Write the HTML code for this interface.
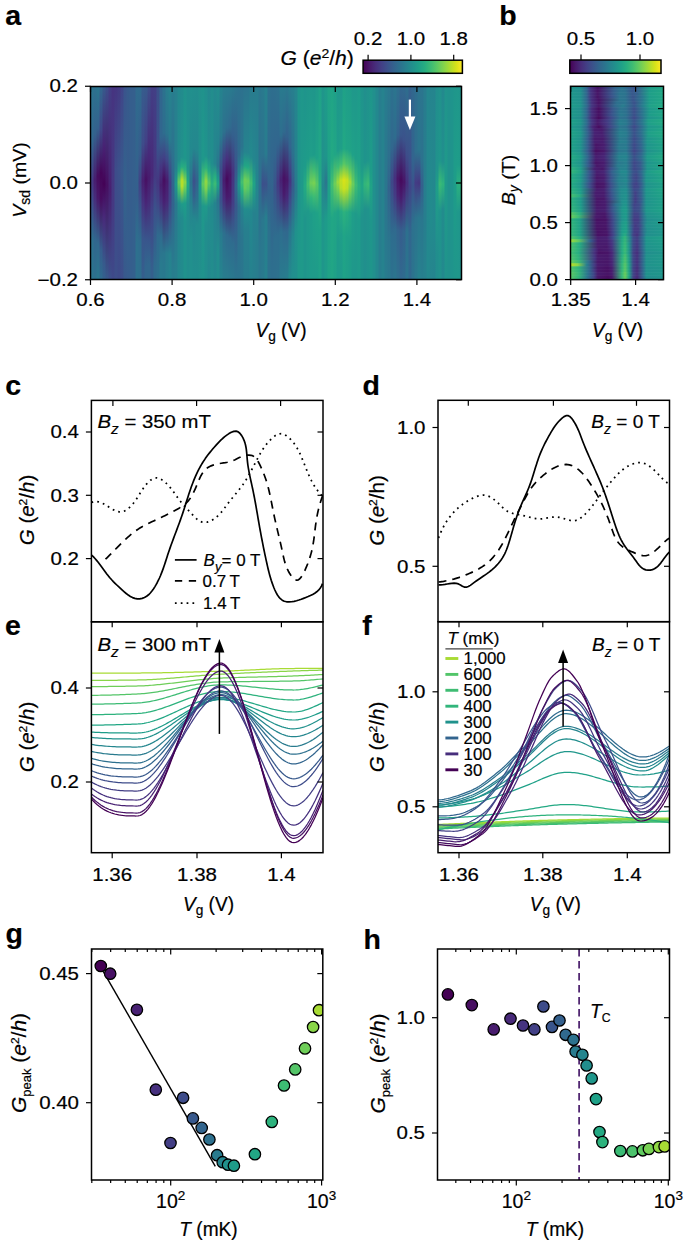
<!DOCTYPE html>
<html><head><meta charset="utf-8"><style>
html,body{margin:0;padding:0;background:#fff;}
svg{display:block;}
text{font-family:"Liberation Sans",sans-serif;fill:#000;stroke:#000;stroke-width:0.2px;}
</style></head><body>
<svg width="685" height="1242" viewBox="0 0 685 1242">
<rect width="685" height="1242" fill="#fff"/>
<text transform="translate(5.20,24.50)" font-size="28.50" text-anchor="start" font-weight="bold">a</text>
<text transform="translate(499.30,24.50)" font-size="28.50" text-anchor="start" font-weight="bold">b</text>
<text transform="translate(5.20,395.00)" font-size="28.50" text-anchor="start" font-weight="bold">c</text>
<text transform="translate(362.50,394.60)" font-size="28.50" text-anchor="start" font-weight="bold">d</text>
<text transform="translate(5.00,634.50)" font-size="28.50" text-anchor="start" font-weight="bold">e</text>
<text transform="translate(362.30,634.60)" font-size="28.50" text-anchor="start" font-weight="bold">f</text>
<text transform="translate(5.40,942.80)" font-size="28.50" text-anchor="start" font-weight="bold">g</text>
<text transform="translate(363.50,949.30)" font-size="28.50" text-anchor="start" font-weight="bold">h</text>
<defs><linearGradient id="ga0" x1="0" y1="0" x2="0" y2="1"><stop offset="0.000" stop-color="#2b748e"/><stop offset="0.281" stop-color="#31678e"/><stop offset="0.500" stop-color="#453882"/><stop offset="0.615" stop-color="#3c4f8a"/><stop offset="0.802" stop-color="#2d708e"/><stop offset="1.000" stop-color="#2b748e"/></linearGradient><linearGradient id="ga1" x1="0" y1="0" x2="0" y2="1"><stop offset="0.000" stop-color="#2d718e"/><stop offset="0.245" stop-color="#34618d"/><stop offset="0.484" stop-color="#481d6f"/><stop offset="0.583" stop-color="#472d7b"/><stop offset="0.792" stop-color="#31668e"/><stop offset="1.000" stop-color="#2d718e"/></linearGradient><linearGradient id="ga2" x1="0" y1="0" x2="0" y2="1"><stop offset="0.000" stop-color="#2a768e"/><stop offset="0.214" stop-color="#34618d"/><stop offset="0.464" stop-color="#460b5e"/><stop offset="0.578" stop-color="#48186a"/><stop offset="0.812" stop-color="#31688e"/><stop offset="1.000" stop-color="#2a778e"/></linearGradient><linearGradient id="ga3" x1="0" y1="0" x2="0" y2="1"><stop offset="0.000" stop-color="#31688e"/><stop offset="0.224" stop-color="#3f4889"/><stop offset="0.448" stop-color="#450559"/><stop offset="0.583" stop-color="#470d60"/><stop offset="0.849" stop-color="#355e8d"/><stop offset="1.000" stop-color="#2f6b8e"/></linearGradient><linearGradient id="ga4" x1="0" y1="0" x2="0" y2="1"><stop offset="0.000" stop-color="#375a8c"/><stop offset="0.318" stop-color="#482173"/><stop offset="0.505" stop-color="#440256"/><stop offset="0.677" stop-color="#482979"/><stop offset="0.917" stop-color="#375a8c"/><stop offset="1.000" stop-color="#34608d"/></linearGradient><linearGradient id="ga5" x1="0" y1="0" x2="0" y2="1"><stop offset="0.000" stop-color="#3d4d8a"/><stop offset="0.510" stop-color="#470e61"/><stop offset="1.000" stop-color="#375a8c"/></linearGradient><linearGradient id="ga6" x1="0" y1="0" x2="0" y2="1"><stop offset="0.000" stop-color="#433e85"/><stop offset="0.542" stop-color="#482071"/><stop offset="1.000" stop-color="#3c508b"/></linearGradient><linearGradient id="ga7" x1="0" y1="0" x2="0" y2="1"><stop offset="0.000" stop-color="#463480"/><stop offset="0.604" stop-color="#453882"/><stop offset="1.000" stop-color="#3e4a89"/></linearGradient><linearGradient id="ga8" x1="0" y1="0" x2="0" y2="1"><stop offset="0.000" stop-color="#453581"/><stop offset="0.438" stop-color="#3d4d8a"/><stop offset="1.000" stop-color="#3d4e8a"/></linearGradient><linearGradient id="ga9" x1="0" y1="0" x2="0" y2="1"><stop offset="0.000" stop-color="#443a83"/><stop offset="0.422" stop-color="#3b528b"/><stop offset="1.000" stop-color="#3e4a89"/></linearGradient><linearGradient id="ga10" x1="0" y1="0" x2="0" y2="1"><stop offset="0.000" stop-color="#404588"/><stop offset="0.432" stop-color="#38588c"/><stop offset="1.000" stop-color="#3d4e8a"/></linearGradient><linearGradient id="ga11" x1="0" y1="0" x2="0" y2="1"><stop offset="0.000" stop-color="#3a548c"/><stop offset="0.536" stop-color="#33638d"/><stop offset="1.000" stop-color="#38598c"/></linearGradient><linearGradient id="ga12" x1="0" y1="0" x2="0" y2="1"><stop offset="0.000" stop-color="#375a8c"/><stop offset="0.833" stop-color="#355f8d"/><stop offset="1.000" stop-color="#375b8d"/></linearGradient><linearGradient id="ga13" x1="0" y1="0" x2="0" y2="1"><stop offset="0.000" stop-color="#355e8d"/><stop offset="1.000" stop-color="#355e8d"/></linearGradient><linearGradient id="ga14" x1="0" y1="0" x2="0" y2="1"><stop offset="0.000" stop-color="#355f8d"/><stop offset="1.000" stop-color="#34608d"/></linearGradient><linearGradient id="ga15" x1="0" y1="0" x2="0" y2="1"><stop offset="0.000" stop-color="#2f6b8e"/><stop offset="0.406" stop-color="#33638d"/><stop offset="0.562" stop-color="#355f8d"/><stop offset="0.823" stop-color="#2d708e"/><stop offset="1.000" stop-color="#2d708e"/></linearGradient><linearGradient id="ga16" x1="0" y1="0" x2="0" y2="1"><stop offset="0.000" stop-color="#2f6b8e"/><stop offset="0.349" stop-color="#365d8d"/><stop offset="0.500" stop-color="#424186"/><stop offset="0.615" stop-color="#3a538b"/><stop offset="0.802" stop-color="#2f6c8e"/><stop offset="1.000" stop-color="#2e6f8e"/></linearGradient><linearGradient id="ga17" x1="0" y1="0" x2="0" y2="1"><stop offset="0.000" stop-color="#365c8d"/><stop offset="0.297" stop-color="#3e4c8a"/><stop offset="0.490" stop-color="#482071"/><stop offset="0.609" stop-color="#463480"/><stop offset="0.786" stop-color="#39568c"/><stop offset="1.000" stop-color="#355f8d"/></linearGradient><linearGradient id="ga18" x1="0" y1="0" x2="0" y2="1"><stop offset="0.000" stop-color="#375a8c"/><stop offset="0.286" stop-color="#424186"/><stop offset="0.484" stop-color="#471164"/><stop offset="0.604" stop-color="#482677"/><stop offset="0.792" stop-color="#39558c"/><stop offset="0.932" stop-color="#31668e"/><stop offset="1.000" stop-color="#31668e"/></linearGradient><linearGradient id="ga19" x1="0" y1="0" x2="0" y2="1"><stop offset="0.000" stop-color="#3d4e8a"/><stop offset="0.349" stop-color="#472a7a"/><stop offset="0.474" stop-color="#481c6e"/><stop offset="0.599" stop-color="#472c7a"/><stop offset="0.797" stop-color="#39558c"/><stop offset="0.922" stop-color="#31678e"/><stop offset="1.000" stop-color="#31678e"/></linearGradient><linearGradient id="ga20" x1="0" y1="0" x2="0" y2="1"><stop offset="0.000" stop-color="#433e85"/><stop offset="0.458" stop-color="#482878"/><stop offset="0.641" stop-color="#414287"/><stop offset="0.943" stop-color="#355f8d"/><stop offset="1.000" stop-color="#355f8d"/></linearGradient><linearGradient id="ga21" x1="0" y1="0" x2="0" y2="1"><stop offset="0.000" stop-color="#423f85"/><stop offset="0.396" stop-color="#453882"/><stop offset="0.464" stop-color="#443a83"/><stop offset="0.630" stop-color="#3b518b"/><stop offset="0.932" stop-color="#2f6b8e"/><stop offset="1.000" stop-color="#2f6b8e"/></linearGradient><linearGradient id="ga22" x1="0" y1="0" x2="0" y2="1"><stop offset="0.000" stop-color="#3c4f8a"/><stop offset="0.312" stop-color="#3b518b"/><stop offset="0.495" stop-color="#453781"/><stop offset="0.594" stop-color="#414487"/><stop offset="0.771" stop-color="#306a8e"/><stop offset="1.000" stop-color="#2c718e"/></linearGradient><linearGradient id="ga23" x1="0" y1="0" x2="0" y2="1"><stop offset="0.000" stop-color="#31668e"/><stop offset="0.260" stop-color="#31668e"/><stop offset="0.417" stop-color="#453581"/><stop offset="0.510" stop-color="#481f70"/><stop offset="0.599" stop-color="#46327e"/><stop offset="0.776" stop-color="#2f6c8e"/><stop offset="0.917" stop-color="#297a8e"/><stop offset="1.000" stop-color="#297a8e"/></linearGradient><linearGradient id="ga24" x1="0" y1="0" x2="0" y2="1"><stop offset="0.000" stop-color="#2c728e"/><stop offset="0.240" stop-color="#2e6d8e"/><stop offset="0.370" stop-color="#424086"/><stop offset="0.484" stop-color="#470e61"/><stop offset="0.599" stop-color="#482173"/><stop offset="0.865" stop-color="#2a778e"/><stop offset="1.000" stop-color="#29798e"/></linearGradient><linearGradient id="ga25" x1="0" y1="0" x2="0" y2="1"><stop offset="0.000" stop-color="#287d8e"/><stop offset="0.245" stop-color="#2b748e"/><stop offset="0.380" stop-color="#3f4889"/><stop offset="0.490" stop-color="#481c6e"/><stop offset="0.594" stop-color="#482878"/><stop offset="0.818" stop-color="#2e6d8e"/><stop offset="0.865" stop-color="#287d8e"/><stop offset="1.000" stop-color="#277f8e"/></linearGradient><linearGradient id="ga26" x1="0" y1="0" x2="0" y2="1"><stop offset="0.000" stop-color="#26828e"/><stop offset="0.276" stop-color="#297a8e"/><stop offset="0.500" stop-color="#424086"/><stop offset="0.589" stop-color="#414487"/><stop offset="0.818" stop-color="#2c728e"/><stop offset="0.870" stop-color="#26828e"/><stop offset="1.000" stop-color="#25838e"/></linearGradient><linearGradient id="ga27" x1="0" y1="0" x2="0" y2="1"><stop offset="0.000" stop-color="#287d8e"/><stop offset="0.328" stop-color="#2c738e"/><stop offset="0.495" stop-color="#31668e"/><stop offset="0.609" stop-color="#33628d"/><stop offset="0.823" stop-color="#2b758e"/><stop offset="0.953" stop-color="#287d8e"/><stop offset="1.000" stop-color="#287d8e"/></linearGradient><linearGradient id="ga28" x1="0" y1="0" x2="0" y2="1"><stop offset="0.000" stop-color="#27808e"/><stop offset="0.422" stop-color="#27808e"/><stop offset="0.505" stop-color="#1f978b"/><stop offset="0.609" stop-color="#2a788e"/><stop offset="1.000" stop-color="#27808e"/></linearGradient><linearGradient id="ga29" x1="0" y1="0" x2="0" y2="1"><stop offset="0.000" stop-color="#23888e"/><stop offset="0.380" stop-color="#228c8d"/><stop offset="0.438" stop-color="#23a983"/><stop offset="0.495" stop-color="#6ccd5a"/><stop offset="0.531" stop-color="#48c16e"/><stop offset="0.604" stop-color="#21918c"/><stop offset="0.708" stop-color="#24868e"/><stop offset="1.000" stop-color="#23888e"/></linearGradient><linearGradient id="ga30" x1="0" y1="0" x2="0" y2="1"><stop offset="0.000" stop-color="#228b8d"/><stop offset="0.365" stop-color="#21918c"/><stop offset="0.417" stop-color="#26ad81"/><stop offset="0.484" stop-color="#b5de2b"/><stop offset="0.516" stop-color="#b5de2b"/><stop offset="0.609" stop-color="#1f9a8a"/><stop offset="0.682" stop-color="#228b8d"/><stop offset="1.000" stop-color="#228b8d"/></linearGradient><linearGradient id="ga31" x1="0" y1="0" x2="0" y2="1"><stop offset="0.000" stop-color="#20928c"/><stop offset="0.375" stop-color="#1f968b"/><stop offset="0.432" stop-color="#2db27d"/><stop offset="0.495" stop-color="#8bd646"/><stop offset="0.531" stop-color="#65cb5e"/><stop offset="0.604" stop-color="#1e9d89"/><stop offset="0.703" stop-color="#20928c"/><stop offset="1.000" stop-color="#20928c"/></linearGradient><linearGradient id="ga32" x1="0" y1="0" x2="0" y2="1"><stop offset="0.000" stop-color="#218e8d"/><stop offset="0.422" stop-color="#21918c"/><stop offset="0.505" stop-color="#23a983"/><stop offset="0.609" stop-color="#228d8d"/><stop offset="1.000" stop-color="#218e8d"/></linearGradient><linearGradient id="ga33" x1="0" y1="0" x2="0" y2="1"><stop offset="0.000" stop-color="#21908d"/><stop offset="0.349" stop-color="#23888e"/><stop offset="0.495" stop-color="#2c738e"/><stop offset="0.620" stop-color="#26828e"/><stop offset="0.797" stop-color="#21908d"/><stop offset="1.000" stop-color="#21908d"/></linearGradient><linearGradient id="ga34" x1="0" y1="0" x2="0" y2="1"><stop offset="0.000" stop-color="#218f8d"/><stop offset="0.318" stop-color="#24878e"/><stop offset="0.490" stop-color="#3b528b"/><stop offset="0.568" stop-color="#34618d"/><stop offset="0.688" stop-color="#23888e"/><stop offset="1.000" stop-color="#218f8d"/></linearGradient><linearGradient id="ga35" x1="0" y1="0" x2="0" y2="1"><stop offset="0.000" stop-color="#218e8d"/><stop offset="0.328" stop-color="#24878e"/><stop offset="0.490" stop-color="#33638d"/><stop offset="0.589" stop-color="#2c718e"/><stop offset="0.719" stop-color="#228c8d"/><stop offset="1.000" stop-color="#218e8d"/></linearGradient><linearGradient id="ga36" x1="0" y1="0" x2="0" y2="1"><stop offset="0.000" stop-color="#21918c"/><stop offset="0.448" stop-color="#218f8d"/><stop offset="0.516" stop-color="#1f978b"/><stop offset="0.620" stop-color="#228b8d"/><stop offset="1.000" stop-color="#21918c"/></linearGradient><linearGradient id="ga37" x1="0" y1="0" x2="0" y2="1"><stop offset="0.000" stop-color="#20928c"/><stop offset="0.380" stop-color="#1f988b"/><stop offset="0.464" stop-color="#42be71"/><stop offset="0.505" stop-color="#60ca60"/><stop offset="0.620" stop-color="#1f988b"/><stop offset="1.000" stop-color="#20928c"/></linearGradient><linearGradient id="ga38" x1="0" y1="0" x2="0" y2="1"><stop offset="0.000" stop-color="#218e8d"/><stop offset="0.359" stop-color="#1f948c"/><stop offset="0.422" stop-color="#2db27d"/><stop offset="0.490" stop-color="#90d743"/><stop offset="0.526" stop-color="#7fd34e"/><stop offset="0.620" stop-color="#1f9a8a"/><stop offset="0.719" stop-color="#218e8d"/><stop offset="1.000" stop-color="#218e8d"/></linearGradient><linearGradient id="ga39" x1="0" y1="0" x2="0" y2="1"><stop offset="0.000" stop-color="#23888e"/><stop offset="0.370" stop-color="#228d8d"/><stop offset="0.438" stop-color="#24aa83"/><stop offset="0.500" stop-color="#58c765"/><stop offset="0.562" stop-color="#24aa83"/><stop offset="0.630" stop-color="#228d8d"/><stop offset="1.000" stop-color="#23888e"/></linearGradient><linearGradient id="ga40" x1="0" y1="0" x2="0" y2="1"><stop offset="0.000" stop-color="#228d8d"/><stop offset="0.401" stop-color="#218e8d"/><stop offset="0.505" stop-color="#2ab07f"/><stop offset="0.620" stop-color="#228b8d"/><stop offset="1.000" stop-color="#228d8d"/></linearGradient><linearGradient id="ga41" x1="0" y1="0" x2="0" y2="1"><stop offset="0.000" stop-color="#23898e"/><stop offset="0.401" stop-color="#25848e"/><stop offset="0.469" stop-color="#29af7f"/><stop offset="0.505" stop-color="#3bbb75"/><stop offset="0.604" stop-color="#25838e"/><stop offset="1.000" stop-color="#23898e"/></linearGradient><linearGradient id="ga42" x1="0" y1="0" x2="0" y2="1"><stop offset="0.000" stop-color="#228d8d"/><stop offset="0.292" stop-color="#25838e"/><stop offset="0.411" stop-color="#2b748e"/><stop offset="0.469" stop-color="#20928c"/><stop offset="0.505" stop-color="#1fa088"/><stop offset="0.589" stop-color="#2b758e"/><stop offset="0.859" stop-color="#228d8d"/><stop offset="1.000" stop-color="#228d8d"/></linearGradient><linearGradient id="ga43" x1="0" y1="0" x2="0" y2="1"><stop offset="0.000" stop-color="#25838e"/><stop offset="0.255" stop-color="#297a8e"/><stop offset="0.443" stop-color="#3e4989"/><stop offset="0.526" stop-color="#3c508b"/><stop offset="0.594" stop-color="#3b518b"/><stop offset="0.766" stop-color="#287c8e"/><stop offset="1.000" stop-color="#25838e"/></linearGradient><linearGradient id="ga44" x1="0" y1="0" x2="0" y2="1"><stop offset="0.000" stop-color="#287d8e"/><stop offset="0.234" stop-color="#2d718e"/><stop offset="0.391" stop-color="#443983"/><stop offset="0.484" stop-color="#481d6f"/><stop offset="0.583" stop-color="#472f7d"/><stop offset="0.760" stop-color="#2d708e"/><stop offset="0.995" stop-color="#287d8e"/><stop offset="1.000" stop-color="#287d8e"/></linearGradient><linearGradient id="ga45" x1="0" y1="0" x2="0" y2="1"><stop offset="0.000" stop-color="#287c8e"/><stop offset="0.214" stop-color="#2e6e8e"/><stop offset="0.370" stop-color="#46337f"/><stop offset="0.479" stop-color="#460a5d"/><stop offset="0.578" stop-color="#481c6e"/><stop offset="0.771" stop-color="#2f6b8e"/><stop offset="0.979" stop-color="#297b8e"/><stop offset="1.000" stop-color="#297b8e"/></linearGradient><linearGradient id="ga46" x1="0" y1="0" x2="0" y2="1"><stop offset="0.000" stop-color="#297b8e"/><stop offset="0.214" stop-color="#306a8e"/><stop offset="0.458" stop-color="#481668"/><stop offset="0.568" stop-color="#481c6e"/><stop offset="0.786" stop-color="#2f6b8e"/><stop offset="1.000" stop-color="#297a8e"/></linearGradient><linearGradient id="ga47" x1="0" y1="0" x2="0" y2="1"><stop offset="0.000" stop-color="#29798e"/><stop offset="0.250" stop-color="#34608d"/><stop offset="0.448" stop-color="#46337f"/><stop offset="0.604" stop-color="#433e85"/><stop offset="0.812" stop-color="#2f6c8e"/><stop offset="1.000" stop-color="#2a788e"/></linearGradient><linearGradient id="ga48" x1="0" y1="0" x2="0" y2="1"><stop offset="0.000" stop-color="#2b758e"/><stop offset="0.422" stop-color="#39568c"/><stop offset="0.516" stop-color="#32658e"/><stop offset="0.620" stop-color="#38598c"/><stop offset="0.958" stop-color="#2c728e"/><stop offset="1.000" stop-color="#2b758e"/></linearGradient><linearGradient id="ga49" x1="0" y1="0" x2="0" y2="1"><stop offset="0.000" stop-color="#2c728e"/><stop offset="0.354" stop-color="#306a8e"/><stop offset="0.443" stop-color="#26828e"/><stop offset="0.505" stop-color="#1f978b"/><stop offset="0.625" stop-color="#2e6f8e"/><stop offset="1.000" stop-color="#2b748e"/></linearGradient><linearGradient id="ga50" x1="0" y1="0" x2="0" y2="1"><stop offset="0.000" stop-color="#2d718e"/><stop offset="0.312" stop-color="#2b748e"/><stop offset="0.396" stop-color="#23898e"/><stop offset="0.495" stop-color="#44bf70"/><stop offset="0.542" stop-color="#29af7f"/><stop offset="0.630" stop-color="#26818e"/><stop offset="0.786" stop-color="#2b758e"/><stop offset="1.000" stop-color="#2a768e"/></linearGradient><linearGradient id="ga51" x1="0" y1="0" x2="0" y2="1"><stop offset="0.000" stop-color="#2c738e"/><stop offset="0.339" stop-color="#25848e"/><stop offset="0.411" stop-color="#21a585"/><stop offset="0.484" stop-color="#6ece58"/><stop offset="0.526" stop-color="#65cb5e"/><stop offset="0.635" stop-color="#228d8d"/><stop offset="0.745" stop-color="#277f8e"/><stop offset="1.000" stop-color="#287c8e"/></linearGradient><linearGradient id="ga52" x1="0" y1="0" x2="0" y2="1"><stop offset="0.000" stop-color="#2b748e"/><stop offset="0.344" stop-color="#25858e"/><stop offset="0.417" stop-color="#22a884"/><stop offset="0.490" stop-color="#69cd5b"/><stop offset="0.536" stop-color="#52c569"/><stop offset="0.635" stop-color="#228c8d"/><stop offset="0.750" stop-color="#277f8e"/><stop offset="1.000" stop-color="#287c8e"/></linearGradient><linearGradient id="ga53" x1="0" y1="0" x2="0" y2="1"><stop offset="0.000" stop-color="#297a8e"/><stop offset="0.365" stop-color="#238a8d"/><stop offset="0.500" stop-color="#42be71"/><stop offset="0.646" stop-color="#23888e"/><stop offset="1.000" stop-color="#26818e"/></linearGradient><linearGradient id="ga54" x1="0" y1="0" x2="0" y2="1"><stop offset="0.000" stop-color="#297b8e"/><stop offset="0.385" stop-color="#24868e"/><stop offset="0.505" stop-color="#20a386"/><stop offset="0.656" stop-color="#26818e"/><stop offset="1.000" stop-color="#277f8e"/></linearGradient><linearGradient id="ga55" x1="0" y1="0" x2="0" y2="1"><stop offset="0.000" stop-color="#287c8e"/><stop offset="0.443" stop-color="#25838e"/><stop offset="0.542" stop-color="#25858e"/><stop offset="0.823" stop-color="#287d8e"/><stop offset="1.000" stop-color="#287d8e"/></linearGradient><linearGradient id="ga56" x1="0" y1="0" x2="0" y2="1"><stop offset="0.000" stop-color="#2a778e"/><stop offset="0.411" stop-color="#2d718e"/><stop offset="0.557" stop-color="#2e6e8e"/><stop offset="0.839" stop-color="#2a778e"/><stop offset="1.000" stop-color="#2a778e"/></linearGradient><linearGradient id="ga57" x1="0" y1="0" x2="0" y2="1"><stop offset="0.000" stop-color="#297a8e"/><stop offset="0.354" stop-color="#2c738e"/><stop offset="0.505" stop-color="#3c508b"/><stop offset="0.693" stop-color="#2a788e"/><stop offset="1.000" stop-color="#297a8e"/></linearGradient><linearGradient id="ga58" x1="0" y1="0" x2="0" y2="1"><stop offset="0.000" stop-color="#26818e"/><stop offset="0.349" stop-color="#297b8e"/><stop offset="0.505" stop-color="#3b528b"/><stop offset="0.677" stop-color="#277e8e"/><stop offset="1.000" stop-color="#26818e"/></linearGradient><linearGradient id="ga59" x1="0" y1="0" x2="0" y2="1"><stop offset="0.000" stop-color="#2d718e"/><stop offset="0.406" stop-color="#30698e"/><stop offset="0.531" stop-color="#34618d"/><stop offset="0.750" stop-color="#2d718e"/><stop offset="1.000" stop-color="#2d718e"/></linearGradient><linearGradient id="ga60" x1="0" y1="0" x2="0" y2="1"><stop offset="0.000" stop-color="#2e6e8e"/><stop offset="0.417" stop-color="#32658e"/><stop offset="0.562" stop-color="#33638d"/><stop offset="0.932" stop-color="#2e6e8e"/><stop offset="1.000" stop-color="#2e6e8e"/></linearGradient><linearGradient id="ga61" x1="0" y1="0" x2="0" y2="1"><stop offset="0.000" stop-color="#2e6f8e"/><stop offset="0.349" stop-color="#32658e"/><stop offset="0.526" stop-color="#3a538b"/><stop offset="0.792" stop-color="#2e6e8e"/><stop offset="1.000" stop-color="#2e6f8e"/></linearGradient><linearGradient id="ga62" x1="0" y1="0" x2="0" y2="1"><stop offset="0.000" stop-color="#2d718e"/><stop offset="0.292" stop-color="#31668e"/><stop offset="0.500" stop-color="#443a83"/><stop offset="0.771" stop-color="#2e6d8e"/><stop offset="1.000" stop-color="#2d718e"/></linearGradient><linearGradient id="ga63" x1="0" y1="0" x2="0" y2="1"><stop offset="0.000" stop-color="#297a8e"/><stop offset="0.250" stop-color="#2e6e8e"/><stop offset="0.484" stop-color="#482173"/><stop offset="0.578" stop-color="#463480"/><stop offset="0.750" stop-color="#2e6e8e"/><stop offset="1.000" stop-color="#297a8e"/></linearGradient><linearGradient id="ga64" x1="0" y1="0" x2="0" y2="1"><stop offset="0.000" stop-color="#297a8e"/><stop offset="0.234" stop-color="#306a8e"/><stop offset="0.474" stop-color="#471164"/><stop offset="0.557" stop-color="#481b6d"/><stop offset="0.755" stop-color="#306a8e"/><stop offset="1.000" stop-color="#287c8e"/></linearGradient><linearGradient id="ga65" x1="0" y1="0" x2="0" y2="1"><stop offset="0.000" stop-color="#2a788e"/><stop offset="0.260" stop-color="#33628d"/><stop offset="0.484" stop-color="#481769"/><stop offset="0.578" stop-color="#472a7a"/><stop offset="0.750" stop-color="#31688e"/><stop offset="1.000" stop-color="#277f8e"/></linearGradient><linearGradient id="ga66" x1="0" y1="0" x2="0" y2="1"><stop offset="0.000" stop-color="#287d8e"/><stop offset="0.312" stop-color="#32658e"/><stop offset="0.490" stop-color="#453581"/><stop offset="0.594" stop-color="#3d4d8a"/><stop offset="0.755" stop-color="#2a768e"/><stop offset="1.000" stop-color="#228c8d"/></linearGradient><linearGradient id="ga67" x1="0" y1="0" x2="0" y2="1"><stop offset="0.000" stop-color="#277f8e"/><stop offset="0.344" stop-color="#2c718e"/><stop offset="0.510" stop-color="#375a8c"/><stop offset="0.781" stop-color="#24878e"/><stop offset="1.000" stop-color="#21908d"/></linearGradient><linearGradient id="ga68" x1="0" y1="0" x2="0" y2="1"><stop offset="0.000" stop-color="#25858e"/><stop offset="0.375" stop-color="#26818e"/><stop offset="0.542" stop-color="#2a788e"/><stop offset="0.755" stop-color="#20928c"/><stop offset="1.000" stop-color="#21908d"/></linearGradient><linearGradient id="ga69" x1="0" y1="0" x2="0" y2="1"><stop offset="0.000" stop-color="#1f948c"/><stop offset="0.573" stop-color="#1f948c"/><stop offset="0.896" stop-color="#1f998a"/><stop offset="1.000" stop-color="#1f998a"/></linearGradient><linearGradient id="ga70" x1="0" y1="0" x2="0" y2="1"><stop offset="0.000" stop-color="#1f978b"/><stop offset="0.708" stop-color="#1f9a8a"/><stop offset="1.000" stop-color="#1f998a"/></linearGradient><linearGradient id="ga71" x1="0" y1="0" x2="0" y2="1"><stop offset="0.000" stop-color="#1f948c"/><stop offset="0.411" stop-color="#1e9b8a"/><stop offset="0.516" stop-color="#24aa83"/><stop offset="0.682" stop-color="#1f958b"/><stop offset="1.000" stop-color="#1f958b"/></linearGradient><linearGradient id="ga72" x1="0" y1="0" x2="0" y2="1"><stop offset="0.000" stop-color="#1f968b"/><stop offset="0.375" stop-color="#1e9c89"/><stop offset="0.505" stop-color="#44bf70"/><stop offset="0.646" stop-color="#1f998a"/><stop offset="1.000" stop-color="#1f988b"/></linearGradient><linearGradient id="ga73" x1="0" y1="0" x2="0" y2="1"><stop offset="0.000" stop-color="#1f978b"/><stop offset="0.359" stop-color="#1f9e89"/><stop offset="0.500" stop-color="#6ece58"/><stop offset="0.578" stop-color="#2fb47c"/><stop offset="0.661" stop-color="#1e9c89"/><stop offset="1.000" stop-color="#1e9b8a"/></linearGradient><linearGradient id="ga74" x1="0" y1="0" x2="0" y2="1"><stop offset="0.000" stop-color="#1f968b"/><stop offset="0.354" stop-color="#1e9c89"/><stop offset="0.438" stop-color="#42be71"/><stop offset="0.500" stop-color="#77d153"/><stop offset="0.568" stop-color="#3dbc74"/><stop offset="0.651" stop-color="#1fa088"/><stop offset="1.000" stop-color="#1f9a8a"/></linearGradient><linearGradient id="ga75" x1="0" y1="0" x2="0" y2="1"><stop offset="0.000" stop-color="#1f9a8a"/><stop offset="0.370" stop-color="#1fa188"/><stop offset="0.505" stop-color="#58c765"/><stop offset="0.656" stop-color="#1fa287"/><stop offset="1.000" stop-color="#1e9b8a"/></linearGradient><linearGradient id="ga76" x1="0" y1="0" x2="0" y2="1"><stop offset="0.000" stop-color="#1fa188"/><stop offset="0.427" stop-color="#22a785"/><stop offset="0.521" stop-color="#29af7f"/><stop offset="0.745" stop-color="#1fa187"/><stop offset="1.000" stop-color="#1fa188"/></linearGradient><linearGradient id="ga77" x1="0" y1="0" x2="0" y2="1"><stop offset="0.000" stop-color="#1f968b"/><stop offset="0.391" stop-color="#21918c"/><stop offset="0.526" stop-color="#25858e"/><stop offset="0.714" stop-color="#1f978b"/><stop offset="1.000" stop-color="#1f968b"/></linearGradient><linearGradient id="ga78" x1="0" y1="0" x2="0" y2="1"><stop offset="0.000" stop-color="#1e9c89"/><stop offset="0.365" stop-color="#1f958b"/><stop offset="0.495" stop-color="#2a778e"/><stop offset="0.578" stop-color="#24868e"/><stop offset="0.682" stop-color="#1e9b8a"/><stop offset="1.000" stop-color="#1e9c89"/></linearGradient><linearGradient id="ga79" x1="0" y1="0" x2="0" y2="1"><stop offset="0.000" stop-color="#20a386"/><stop offset="0.589" stop-color="#1fa188"/><stop offset="1.000" stop-color="#20a386"/></linearGradient><linearGradient id="ga80" x1="0" y1="0" x2="0" y2="1"><stop offset="0.000" stop-color="#20a486"/><stop offset="0.380" stop-color="#23a983"/><stop offset="0.510" stop-color="#42be71"/><stop offset="0.682" stop-color="#21a685"/><stop offset="1.000" stop-color="#21a585"/></linearGradient><linearGradient id="ga81" x1="0" y1="0" x2="0" y2="1"><stop offset="0.000" stop-color="#1fa088"/><stop offset="0.354" stop-color="#21a685"/><stop offset="0.505" stop-color="#6ece58"/><stop offset="0.656" stop-color="#21a585"/><stop offset="1.000" stop-color="#1fa187"/></linearGradient><linearGradient id="ga82" x1="0" y1="0" x2="0" y2="1"><stop offset="0.000" stop-color="#1f988b"/><stop offset="0.333" stop-color="#1e9d89"/><stop offset="0.417" stop-color="#3dbc74"/><stop offset="0.495" stop-color="#9bd93c"/><stop offset="0.552" stop-color="#65cb5e"/><stop offset="0.646" stop-color="#20a386"/><stop offset="0.802" stop-color="#1e9b8a"/><stop offset="1.000" stop-color="#1e9b8a"/></linearGradient><linearGradient id="ga83" x1="0" y1="0" x2="0" y2="1"><stop offset="0.000" stop-color="#1f988b"/><stop offset="0.323" stop-color="#1f9f88"/><stop offset="0.401" stop-color="#40bd72"/><stop offset="0.484" stop-color="#c2df23"/><stop offset="0.526" stop-color="#b8de29"/><stop offset="0.646" stop-color="#25ab82"/><stop offset="0.766" stop-color="#1f9e89"/><stop offset="1.000" stop-color="#1e9b8a"/></linearGradient><linearGradient id="ga84" x1="0" y1="0" x2="0" y2="1"><stop offset="0.000" stop-color="#1fa187"/><stop offset="0.323" stop-color="#22a884"/><stop offset="0.401" stop-color="#58c765"/><stop offset="0.484" stop-color="#d8e219"/><stop offset="0.531" stop-color="#c8e020"/><stop offset="0.651" stop-color="#2cb17e"/><stop offset="0.771" stop-color="#20a486"/><stop offset="1.000" stop-color="#1fa287"/></linearGradient><linearGradient id="ga85" x1="0" y1="0" x2="0" y2="1"><stop offset="0.000" stop-color="#1f9e89"/><stop offset="0.323" stop-color="#20a486"/><stop offset="0.401" stop-color="#4ac16d"/><stop offset="0.484" stop-color="#c8e020"/><stop offset="0.526" stop-color="#bddf26"/><stop offset="0.651" stop-color="#27ad81"/><stop offset="0.781" stop-color="#1fa088"/><stop offset="1.000" stop-color="#1f9f88"/></linearGradient><linearGradient id="ga86" x1="0" y1="0" x2="0" y2="1"><stop offset="0.000" stop-color="#1e9d89"/><stop offset="0.333" stop-color="#20a386"/><stop offset="0.422" stop-color="#4ec36b"/><stop offset="0.495" stop-color="#a5db36"/><stop offset="0.552" stop-color="#70cf57"/><stop offset="0.651" stop-color="#22a785"/><stop offset="0.828" stop-color="#1e9d89"/><stop offset="1.000" stop-color="#1e9d89"/></linearGradient><linearGradient id="ga87" x1="0" y1="0" x2="0" y2="1"><stop offset="0.000" stop-color="#1f988b"/><stop offset="0.354" stop-color="#1fa188"/><stop offset="0.505" stop-color="#6ccd5a"/><stop offset="0.656" stop-color="#1f9e89"/><stop offset="1.000" stop-color="#1f978b"/></linearGradient><linearGradient id="ga88" x1="0" y1="0" x2="0" y2="1"><stop offset="0.000" stop-color="#1f988b"/><stop offset="0.375" stop-color="#1f9f88"/><stop offset="0.510" stop-color="#3dbc74"/><stop offset="0.661" stop-color="#1f9a8a"/><stop offset="1.000" stop-color="#1f978b"/></linearGradient><linearGradient id="ga89" x1="0" y1="0" x2="0" y2="1"><stop offset="0.000" stop-color="#1e9b8a"/><stop offset="0.401" stop-color="#1fa188"/><stop offset="0.516" stop-color="#29af7f"/><stop offset="0.688" stop-color="#1e9b8a"/><stop offset="1.000" stop-color="#1f9a8a"/></linearGradient><linearGradient id="ga90" x1="0" y1="0" x2="0" y2="1"><stop offset="0.000" stop-color="#1f948c"/><stop offset="0.411" stop-color="#1f998a"/><stop offset="0.516" stop-color="#21a685"/><stop offset="0.677" stop-color="#20938c"/><stop offset="1.000" stop-color="#20938c"/></linearGradient><linearGradient id="ga91" x1="0" y1="0" x2="0" y2="1"><stop offset="0.000" stop-color="#218f8d"/><stop offset="0.391" stop-color="#1f948c"/><stop offset="0.505" stop-color="#32b67a"/><stop offset="0.635" stop-color="#21918c"/><stop offset="1.000" stop-color="#218f8d"/></linearGradient><linearGradient id="ga92" x1="0" y1="0" x2="0" y2="1"><stop offset="0.000" stop-color="#20928c"/><stop offset="0.385" stop-color="#1f968b"/><stop offset="0.505" stop-color="#3aba76"/><stop offset="0.635" stop-color="#20938c"/><stop offset="1.000" stop-color="#20928c"/></linearGradient><linearGradient id="ga93" x1="0" y1="0" x2="0" y2="1"><stop offset="0.000" stop-color="#1f958b"/><stop offset="0.432" stop-color="#1e9c89"/><stop offset="0.521" stop-color="#20a386"/><stop offset="0.688" stop-color="#1f968b"/><stop offset="1.000" stop-color="#1f958b"/></linearGradient><linearGradient id="ga94" x1="0" y1="0" x2="0" y2="1"><stop offset="0.000" stop-color="#21908d"/><stop offset="1.000" stop-color="#21908d"/></linearGradient><linearGradient id="ga95" x1="0" y1="0" x2="0" y2="1"><stop offset="0.000" stop-color="#23888e"/><stop offset="1.000" stop-color="#23888e"/></linearGradient><linearGradient id="ga96" x1="0" y1="0" x2="0" y2="1"><stop offset="0.000" stop-color="#277e8e"/><stop offset="1.000" stop-color="#277e8e"/></linearGradient><linearGradient id="ga97" x1="0" y1="0" x2="0" y2="1"><stop offset="0.000" stop-color="#26828e"/><stop offset="1.000" stop-color="#26828e"/></linearGradient><linearGradient id="ga98" x1="0" y1="0" x2="0" y2="1"><stop offset="0.000" stop-color="#287c8e"/><stop offset="0.589" stop-color="#2b758e"/><stop offset="1.000" stop-color="#287c8e"/></linearGradient><linearGradient id="ga99" x1="0" y1="0" x2="0" y2="1"><stop offset="0.000" stop-color="#2a788e"/><stop offset="0.365" stop-color="#2e6f8e"/><stop offset="0.526" stop-color="#33638d"/><stop offset="0.802" stop-color="#2b758e"/><stop offset="1.000" stop-color="#2a788e"/></linearGradient><linearGradient id="ga100" x1="0" y1="0" x2="0" y2="1"><stop offset="0.000" stop-color="#2c718e"/><stop offset="0.312" stop-color="#31688e"/><stop offset="0.495" stop-color="#3f4788"/><stop offset="0.771" stop-color="#2e6d8e"/><stop offset="1.000" stop-color="#2c718e"/></linearGradient><linearGradient id="ga101" x1="0" y1="0" x2="0" y2="1"><stop offset="0.000" stop-color="#2b758e"/><stop offset="0.266" stop-color="#2f6c8e"/><stop offset="0.474" stop-color="#46307e"/><stop offset="0.562" stop-color="#443b84"/><stop offset="0.740" stop-color="#306a8e"/><stop offset="1.000" stop-color="#2b758e"/></linearGradient><linearGradient id="ga102" x1="0" y1="0" x2="0" y2="1"><stop offset="0.000" stop-color="#2e6f8e"/><stop offset="0.250" stop-color="#33628d"/><stop offset="0.479" stop-color="#481668"/><stop offset="0.562" stop-color="#482374"/><stop offset="0.745" stop-color="#33638d"/><stop offset="0.995" stop-color="#2e6f8e"/><stop offset="1.000" stop-color="#2e6f8e"/></linearGradient><linearGradient id="ga103" x1="0" y1="0" x2="0" y2="1"><stop offset="0.000" stop-color="#31678e"/><stop offset="0.250" stop-color="#39568c"/><stop offset="0.484" stop-color="#460a5d"/><stop offset="0.578" stop-color="#481d6f"/><stop offset="0.745" stop-color="#365d8d"/><stop offset="1.000" stop-color="#31688e"/></linearGradient><linearGradient id="ga104" x1="0" y1="0" x2="0" y2="1"><stop offset="0.000" stop-color="#30698e"/><stop offset="0.276" stop-color="#3b528b"/><stop offset="0.495" stop-color="#481467"/><stop offset="0.599" stop-color="#46337f"/><stop offset="0.750" stop-color="#33638d"/><stop offset="1.000" stop-color="#2f6b8e"/></linearGradient><linearGradient id="ga105" x1="0" y1="0" x2="0" y2="1"><stop offset="0.000" stop-color="#2e6e8e"/><stop offset="0.354" stop-color="#3d4e8a"/><stop offset="0.500" stop-color="#472f7d"/><stop offset="0.750" stop-color="#2d708e"/><stop offset="1.000" stop-color="#2b748e"/></linearGradient><linearGradient id="ga106" x1="0" y1="0" x2="0" y2="1"><stop offset="0.000" stop-color="#33628d"/><stop offset="0.385" stop-color="#3b518b"/><stop offset="0.526" stop-color="#404588"/><stop offset="0.760" stop-color="#31678e"/><stop offset="1.000" stop-color="#30698e"/></linearGradient><linearGradient id="ga107" x1="0" y1="0" x2="0" y2="1"><stop offset="0.000" stop-color="#31678e"/><stop offset="0.375" stop-color="#32648e"/><stop offset="0.516" stop-color="#3b518b"/><stop offset="0.719" stop-color="#2d718e"/><stop offset="1.000" stop-color="#2c738e"/></linearGradient><linearGradient id="ga108" x1="0" y1="0" x2="0" y2="1"><stop offset="0.000" stop-color="#2e6d8e"/><stop offset="0.339" stop-color="#2e6f8e"/><stop offset="0.500" stop-color="#443b84"/><stop offset="0.682" stop-color="#2c738e"/><stop offset="1.000" stop-color="#297b8e"/></linearGradient><linearGradient id="ga109" x1="0" y1="0" x2="0" y2="1"><stop offset="0.000" stop-color="#2c738e"/><stop offset="0.328" stop-color="#2b758e"/><stop offset="0.427" stop-color="#3a538b"/><stop offset="0.500" stop-color="#453781"/><stop offset="0.583" stop-color="#38598c"/><stop offset="0.682" stop-color="#2a778e"/><stop offset="1.000" stop-color="#26828e"/></linearGradient><linearGradient id="ga110" x1="0" y1="0" x2="0" y2="1"><stop offset="0.000" stop-color="#2b758e"/><stop offset="0.380" stop-color="#2c728e"/><stop offset="0.516" stop-color="#34608d"/><stop offset="0.693" stop-color="#2a778e"/><stop offset="1.000" stop-color="#277f8e"/></linearGradient><linearGradient id="ga111" x1="0" y1="0" x2="0" y2="1"><stop offset="0.000" stop-color="#287c8e"/><stop offset="0.708" stop-color="#277e8e"/><stop offset="0.953" stop-color="#26828e"/><stop offset="1.000" stop-color="#27808e"/></linearGradient><linearGradient id="ga112" x1="0" y1="0" x2="0" y2="1"><stop offset="0.000" stop-color="#24868e"/><stop offset="0.932" stop-color="#23898e"/><stop offset="1.000" stop-color="#24878e"/></linearGradient><linearGradient id="ga113" x1="0" y1="0" x2="0" y2="1"><stop offset="0.000" stop-color="#25848e"/><stop offset="0.698" stop-color="#228b8d"/><stop offset="1.000" stop-color="#25858e"/></linearGradient><linearGradient id="ga114" x1="0" y1="0" x2="0" y2="1"><stop offset="0.000" stop-color="#25848e"/><stop offset="0.766" stop-color="#23898e"/><stop offset="1.000" stop-color="#25848e"/></linearGradient><linearGradient id="ga115" x1="0" y1="0" x2="0" y2="1"><stop offset="0.000" stop-color="#218e8d"/><stop offset="0.427" stop-color="#20938c"/><stop offset="0.521" stop-color="#1f9e89"/><stop offset="0.865" stop-color="#218e8d"/><stop offset="1.000" stop-color="#218e8d"/></linearGradient><linearGradient id="ga116" x1="0" y1="0" x2="0" y2="1"><stop offset="0.000" stop-color="#21918c"/><stop offset="0.385" stop-color="#1f968b"/><stop offset="0.505" stop-color="#3aba76"/><stop offset="0.646" stop-color="#1f948c"/><stop offset="1.000" stop-color="#21918c"/></linearGradient><linearGradient id="ga117" x1="0" y1="0" x2="0" y2="1"><stop offset="0.000" stop-color="#23898e"/><stop offset="0.391" stop-color="#21908d"/><stop offset="0.505" stop-color="#2fb47c"/><stop offset="0.635" stop-color="#228c8d"/><stop offset="1.000" stop-color="#23898e"/></linearGradient><linearGradient id="ga118" x1="0" y1="0" x2="0" y2="1"><stop offset="0.000" stop-color="#20938c"/><stop offset="0.453" stop-color="#1f9a8a"/><stop offset="0.552" stop-color="#1f998a"/><stop offset="1.000" stop-color="#20938c"/></linearGradient><linearGradient id="ga119" x1="0" y1="0" x2="0" y2="1"><stop offset="0.000" stop-color="#20928c"/><stop offset="1.000" stop-color="#20928c"/></linearGradient><linearGradient id="ga120" x1="0" y1="0" x2="0" y2="1"><stop offset="0.000" stop-color="#1f948c"/><stop offset="1.000" stop-color="#1f948c"/></linearGradient><linearGradient id="ga121" x1="0" y1="0" x2="0" y2="1"><stop offset="0.000" stop-color="#1f968b"/><stop offset="0.469" stop-color="#1e9d89"/><stop offset="1.000" stop-color="#1f968b"/></linearGradient><linearGradient id="ga122" x1="0" y1="0" x2="0" y2="1"><stop offset="0.000" stop-color="#1f978b"/><stop offset="0.406" stop-color="#1e9d89"/><stop offset="0.510" stop-color="#29af7f"/><stop offset="0.651" stop-color="#1f988b"/><stop offset="1.000" stop-color="#1f978b"/></linearGradient><linearGradient id="ga123" x1="0" y1="0" x2="0" y2="1"><stop offset="0.000" stop-color="#20938c"/><stop offset="0.396" stop-color="#1f998a"/><stop offset="0.505" stop-color="#2cb17e"/><stop offset="0.646" stop-color="#1f948c"/><stop offset="1.000" stop-color="#20938c"/></linearGradient></defs><rect x="90.50" y="86.50" width="3.60" height="193" fill="url(#ga0)"/><rect x="93.50" y="86.50" width="3.60" height="193" fill="url(#ga1)"/><rect x="96.50" y="86.50" width="3.60" height="193" fill="url(#ga2)"/><rect x="99.50" y="86.50" width="3.60" height="193" fill="url(#ga3)"/><rect x="102.50" y="86.50" width="3.60" height="193" fill="url(#ga4)"/><rect x="105.50" y="86.50" width="3.60" height="193" fill="url(#ga5)"/><rect x="108.50" y="86.50" width="3.60" height="193" fill="url(#ga6)"/><rect x="111.50" y="86.50" width="3.60" height="193" fill="url(#ga7)"/><rect x="114.50" y="86.50" width="3.60" height="193" fill="url(#ga8)"/><rect x="117.50" y="86.50" width="3.60" height="193" fill="url(#ga9)"/><rect x="120.50" y="86.50" width="3.60" height="193" fill="url(#ga10)"/><rect x="123.50" y="86.50" width="3.60" height="193" fill="url(#ga11)"/><rect x="126.50" y="86.50" width="3.60" height="193" fill="url(#ga12)"/><rect x="129.50" y="86.50" width="3.60" height="193" fill="url(#ga13)"/><rect x="132.50" y="86.50" width="3.60" height="193" fill="url(#ga14)"/><rect x="135.50" y="86.50" width="3.60" height="193" fill="url(#ga15)"/><rect x="138.50" y="86.50" width="3.60" height="193" fill="url(#ga16)"/><rect x="141.50" y="86.50" width="3.60" height="193" fill="url(#ga17)"/><rect x="144.50" y="86.50" width="3.60" height="193" fill="url(#ga18)"/><rect x="147.50" y="86.50" width="3.60" height="193" fill="url(#ga19)"/><rect x="150.50" y="86.50" width="3.60" height="193" fill="url(#ga20)"/><rect x="153.50" y="86.50" width="3.60" height="193" fill="url(#ga21)"/><rect x="156.50" y="86.50" width="3.60" height="193" fill="url(#ga22)"/><rect x="159.50" y="86.50" width="3.60" height="193" fill="url(#ga23)"/><rect x="162.50" y="86.50" width="3.60" height="193" fill="url(#ga24)"/><rect x="165.50" y="86.50" width="3.60" height="193" fill="url(#ga25)"/><rect x="168.50" y="86.50" width="3.60" height="193" fill="url(#ga26)"/><rect x="171.50" y="86.50" width="3.60" height="193" fill="url(#ga27)"/><rect x="174.50" y="86.50" width="3.60" height="193" fill="url(#ga28)"/><rect x="177.50" y="86.50" width="3.60" height="193" fill="url(#ga29)"/><rect x="180.50" y="86.50" width="3.60" height="193" fill="url(#ga30)"/><rect x="183.50" y="86.50" width="3.60" height="193" fill="url(#ga31)"/><rect x="186.50" y="86.50" width="3.60" height="193" fill="url(#ga32)"/><rect x="189.50" y="86.50" width="3.60" height="193" fill="url(#ga33)"/><rect x="192.50" y="86.50" width="3.60" height="193" fill="url(#ga34)"/><rect x="195.50" y="86.50" width="3.60" height="193" fill="url(#ga35)"/><rect x="198.50" y="86.50" width="3.60" height="193" fill="url(#ga36)"/><rect x="201.50" y="86.50" width="3.60" height="193" fill="url(#ga37)"/><rect x="204.50" y="86.50" width="3.60" height="193" fill="url(#ga38)"/><rect x="207.50" y="86.50" width="3.60" height="193" fill="url(#ga39)"/><rect x="210.50" y="86.50" width="3.60" height="193" fill="url(#ga40)"/><rect x="213.50" y="86.50" width="3.60" height="193" fill="url(#ga41)"/><rect x="216.50" y="86.50" width="3.60" height="193" fill="url(#ga42)"/><rect x="219.50" y="86.50" width="3.60" height="193" fill="url(#ga43)"/><rect x="222.50" y="86.50" width="3.60" height="193" fill="url(#ga44)"/><rect x="225.50" y="86.50" width="3.60" height="193" fill="url(#ga45)"/><rect x="228.50" y="86.50" width="3.60" height="193" fill="url(#ga46)"/><rect x="231.50" y="86.50" width="3.60" height="193" fill="url(#ga47)"/><rect x="234.50" y="86.50" width="3.60" height="193" fill="url(#ga48)"/><rect x="237.50" y="86.50" width="3.60" height="193" fill="url(#ga49)"/><rect x="240.50" y="86.50" width="3.60" height="193" fill="url(#ga50)"/><rect x="243.50" y="86.50" width="3.60" height="193" fill="url(#ga51)"/><rect x="246.50" y="86.50" width="3.60" height="193" fill="url(#ga52)"/><rect x="249.50" y="86.50" width="3.60" height="193" fill="url(#ga53)"/><rect x="252.50" y="86.50" width="3.60" height="193" fill="url(#ga54)"/><rect x="255.50" y="86.50" width="3.60" height="193" fill="url(#ga55)"/><rect x="258.50" y="86.50" width="3.60" height="193" fill="url(#ga56)"/><rect x="261.50" y="86.50" width="3.60" height="193" fill="url(#ga57)"/><rect x="264.50" y="86.50" width="3.60" height="193" fill="url(#ga58)"/><rect x="267.50" y="86.50" width="3.60" height="193" fill="url(#ga59)"/><rect x="270.50" y="86.50" width="3.60" height="193" fill="url(#ga60)"/><rect x="273.50" y="86.50" width="3.60" height="193" fill="url(#ga61)"/><rect x="276.50" y="86.50" width="3.60" height="193" fill="url(#ga62)"/><rect x="279.50" y="86.50" width="3.60" height="193" fill="url(#ga63)"/><rect x="282.50" y="86.50" width="3.60" height="193" fill="url(#ga64)"/><rect x="285.50" y="86.50" width="3.60" height="193" fill="url(#ga65)"/><rect x="288.50" y="86.50" width="3.60" height="193" fill="url(#ga66)"/><rect x="291.50" y="86.50" width="3.60" height="193" fill="url(#ga67)"/><rect x="294.50" y="86.50" width="3.60" height="193" fill="url(#ga68)"/><rect x="297.50" y="86.50" width="3.60" height="193" fill="url(#ga69)"/><rect x="300.50" y="86.50" width="3.60" height="193" fill="url(#ga70)"/><rect x="303.50" y="86.50" width="3.60" height="193" fill="url(#ga71)"/><rect x="306.50" y="86.50" width="3.60" height="193" fill="url(#ga72)"/><rect x="309.50" y="86.50" width="3.60" height="193" fill="url(#ga73)"/><rect x="312.50" y="86.50" width="3.60" height="193" fill="url(#ga74)"/><rect x="315.50" y="86.50" width="3.60" height="193" fill="url(#ga75)"/><rect x="318.50" y="86.50" width="3.60" height="193" fill="url(#ga76)"/><rect x="321.50" y="86.50" width="3.60" height="193" fill="url(#ga77)"/><rect x="324.50" y="86.50" width="3.60" height="193" fill="url(#ga78)"/><rect x="327.50" y="86.50" width="3.60" height="193" fill="url(#ga79)"/><rect x="330.50" y="86.50" width="3.60" height="193" fill="url(#ga80)"/><rect x="333.50" y="86.50" width="3.60" height="193" fill="url(#ga81)"/><rect x="336.50" y="86.50" width="3.60" height="193" fill="url(#ga82)"/><rect x="339.50" y="86.50" width="3.60" height="193" fill="url(#ga83)"/><rect x="342.50" y="86.50" width="3.60" height="193" fill="url(#ga84)"/><rect x="345.50" y="86.50" width="3.60" height="193" fill="url(#ga85)"/><rect x="348.50" y="86.50" width="3.60" height="193" fill="url(#ga86)"/><rect x="351.50" y="86.50" width="3.60" height="193" fill="url(#ga87)"/><rect x="354.50" y="86.50" width="3.60" height="193" fill="url(#ga88)"/><rect x="357.50" y="86.50" width="3.60" height="193" fill="url(#ga89)"/><rect x="360.50" y="86.50" width="3.60" height="193" fill="url(#ga90)"/><rect x="363.50" y="86.50" width="3.60" height="193" fill="url(#ga91)"/><rect x="366.50" y="86.50" width="3.60" height="193" fill="url(#ga92)"/><rect x="369.50" y="86.50" width="3.60" height="193" fill="url(#ga93)"/><rect x="372.50" y="86.50" width="3.60" height="193" fill="url(#ga94)"/><rect x="375.50" y="86.50" width="3.60" height="193" fill="url(#ga95)"/><rect x="378.50" y="86.50" width="3.60" height="193" fill="url(#ga96)"/><rect x="381.50" y="86.50" width="3.60" height="193" fill="url(#ga97)"/><rect x="384.50" y="86.50" width="3.60" height="193" fill="url(#ga98)"/><rect x="387.50" y="86.50" width="3.60" height="193" fill="url(#ga99)"/><rect x="390.50" y="86.50" width="3.60" height="193" fill="url(#ga100)"/><rect x="393.50" y="86.50" width="3.60" height="193" fill="url(#ga101)"/><rect x="396.50" y="86.50" width="3.60" height="193" fill="url(#ga102)"/><rect x="399.50" y="86.50" width="3.60" height="193" fill="url(#ga103)"/><rect x="402.50" y="86.50" width="3.60" height="193" fill="url(#ga104)"/><rect x="405.50" y="86.50" width="3.60" height="193" fill="url(#ga105)"/><rect x="408.50" y="86.50" width="3.60" height="193" fill="url(#ga106)"/><rect x="411.50" y="86.50" width="3.60" height="193" fill="url(#ga107)"/><rect x="414.50" y="86.50" width="3.60" height="193" fill="url(#ga108)"/><rect x="417.50" y="86.50" width="3.60" height="193" fill="url(#ga109)"/><rect x="420.50" y="86.50" width="3.60" height="193" fill="url(#ga110)"/><rect x="423.50" y="86.50" width="3.60" height="193" fill="url(#ga111)"/><rect x="426.50" y="86.50" width="3.60" height="193" fill="url(#ga112)"/><rect x="429.50" y="86.50" width="3.60" height="193" fill="url(#ga113)"/><rect x="432.50" y="86.50" width="3.60" height="193" fill="url(#ga114)"/><rect x="435.50" y="86.50" width="3.60" height="193" fill="url(#ga115)"/><rect x="438.50" y="86.50" width="3.60" height="193" fill="url(#ga116)"/><rect x="441.50" y="86.50" width="3.60" height="193" fill="url(#ga117)"/><rect x="444.50" y="86.50" width="3.60" height="193" fill="url(#ga118)"/><rect x="447.50" y="86.50" width="3.60" height="193" fill="url(#ga119)"/><rect x="450.50" y="86.50" width="3.60" height="193" fill="url(#ga120)"/><rect x="453.50" y="86.50" width="3.60" height="193" fill="url(#ga121)"/><rect x="456.50" y="86.50" width="3.60" height="193" fill="url(#ga122)"/><rect x="459.50" y="86.50" width="2.00" height="193" fill="url(#ga123)"/>
<rect x="90.50" y="86.50" width="371.00" height="193.00" fill="none" stroke="#000" stroke-width="1.50"/>
<line x1="90.50" y1="279.50" x2="90.50" y2="285.00" stroke="#000" stroke-width="1.20"/>
<line x1="90.50" y1="86.50" x2="90.50" y2="92.00" stroke="#000" stroke-width="1.20"/>
<text transform="translate(90.50,306.30) scale(1.170,1)" font-size="17.50" text-anchor="middle">0.6</text>
<line x1="172.10" y1="279.50" x2="172.10" y2="285.00" stroke="#000" stroke-width="1.20"/>
<line x1="172.10" y1="86.50" x2="172.10" y2="92.00" stroke="#000" stroke-width="1.20"/>
<text transform="translate(172.10,306.30) scale(1.170,1)" font-size="17.50" text-anchor="middle">0.8</text>
<line x1="253.70" y1="279.50" x2="253.70" y2="285.00" stroke="#000" stroke-width="1.20"/>
<line x1="253.70" y1="86.50" x2="253.70" y2="92.00" stroke="#000" stroke-width="1.20"/>
<text transform="translate(253.70,306.30) scale(1.170,1)" font-size="17.50" text-anchor="middle">1.0</text>
<line x1="335.30" y1="279.50" x2="335.30" y2="285.00" stroke="#000" stroke-width="1.20"/>
<line x1="335.30" y1="86.50" x2="335.30" y2="92.00" stroke="#000" stroke-width="1.20"/>
<text transform="translate(335.30,306.30) scale(1.170,1)" font-size="17.50" text-anchor="middle">1.2</text>
<line x1="416.90" y1="279.50" x2="416.90" y2="285.00" stroke="#000" stroke-width="1.20"/>
<line x1="416.90" y1="86.50" x2="416.90" y2="92.00" stroke="#000" stroke-width="1.20"/>
<text transform="translate(416.90,306.30) scale(1.170,1)" font-size="17.50" text-anchor="middle">1.4</text>
<line x1="85.00" y1="86.25" x2="90.50" y2="86.25" stroke="#000" stroke-width="1.20"/>
<line x1="456.00" y1="86.25" x2="461.50" y2="86.25" stroke="#000" stroke-width="1.20"/>
<text transform="translate(78.00,92.45) scale(1.170,1)" font-size="17.50" text-anchor="end">0.2</text>
<line x1="85.00" y1="183.00" x2="90.50" y2="183.00" stroke="#000" stroke-width="1.20"/>
<line x1="456.00" y1="183.00" x2="461.50" y2="183.00" stroke="#000" stroke-width="1.20"/>
<text transform="translate(78.00,189.20) scale(1.170,1)" font-size="17.50" text-anchor="end">0.0</text>
<line x1="85.00" y1="279.75" x2="90.50" y2="279.75" stroke="#000" stroke-width="1.20"/>
<line x1="456.00" y1="279.75" x2="461.50" y2="279.75" stroke="#000" stroke-width="1.20"/>
<text transform="translate(78.00,285.95) scale(1.170,1)" font-size="17.50" text-anchor="end">−0.2</text>
<text transform="translate(25.90,180.00) scale(0.980,1) rotate(-90)" font-size="19.50" text-anchor="middle"><tspan font-style="italic">V</tspan><tspan font-size="14.0" dy="4">sd</tspan><tspan dy="-4"> (mV)</tspan></text>
<text transform="translate(281.00,336.50) scale(0.980,1)" font-size="19.50" text-anchor="middle"><tspan font-style="italic">V</tspan><tspan font-size="14.0" dy="4">g</tspan><tspan dy="-4"> (V)</tspan></text>
<defs><linearGradient id="cba" x1="0" y1="0" x2="1" y2="0"><stop offset="0.000" stop-color="#440154"/><stop offset="0.062" stop-color="#48186a"/><stop offset="0.125" stop-color="#472d7b"/><stop offset="0.188" stop-color="#424086"/><stop offset="0.250" stop-color="#3b528b"/><stop offset="0.312" stop-color="#33638d"/><stop offset="0.375" stop-color="#2c728e"/><stop offset="0.438" stop-color="#26828e"/><stop offset="0.500" stop-color="#21918c"/><stop offset="0.562" stop-color="#1fa088"/><stop offset="0.625" stop-color="#28ae80"/><stop offset="0.688" stop-color="#3fbc73"/><stop offset="0.750" stop-color="#5ec962"/><stop offset="0.812" stop-color="#84d44b"/><stop offset="0.875" stop-color="#addc30"/><stop offset="0.938" stop-color="#d8e219"/><stop offset="1.000" stop-color="#fde725"/></linearGradient></defs>
<rect x="363.10" y="60.20" width="99.30" height="13.10" fill="url(#cba)" stroke="#000" stroke-width="1.50"/>
<line x1="368.10" y1="54.70" x2="368.10" y2="60.20" stroke="#000" stroke-width="1.20"/>
<text transform="translate(368.10,45.20) scale(1.170,1)" font-size="17.50" text-anchor="middle">0.2</text>
<line x1="410.90" y1="54.70" x2="410.90" y2="60.20" stroke="#000" stroke-width="1.20"/>
<text transform="translate(410.90,45.20) scale(1.170,1)" font-size="17.50" text-anchor="middle">1.0</text>
<line x1="453.70" y1="54.70" x2="453.70" y2="60.20" stroke="#000" stroke-width="1.20"/>
<text transform="translate(453.70,45.20) scale(1.170,1)" font-size="17.50" text-anchor="middle">1.8</text>
<text transform="translate(280.5,65.3) scale(1.08,1)" font-size="19.5"><tspan font-style="italic">G</tspan> (<tspan font-style="italic">e</tspan><tspan font-size="13" dy="-7.5">2</tspan><tspan dy="7.5">/</tspan><tspan font-style="italic">h</tspan>)</text>
<line x1="409.9" y1="99.6" x2="409.9" y2="120" stroke="#fff" stroke-width="2.2"/>
<path d="M404.4,116.5 L415.4,116.5 L409.9,130 Z" fill="#fff"/>
<defs><linearGradient id="gb0"><stop offset="0.000" stop-color="#1f948c"/><stop offset="0.109" stop-color="#218f8d"/><stop offset="0.174" stop-color="#31668e"/><stop offset="0.217" stop-color="#453581"/><stop offset="0.293" stop-color="#471365"/><stop offset="0.478" stop-color="#32648e"/><stop offset="0.554" stop-color="#2b758e"/><stop offset="0.598" stop-color="#2f6b8e"/><stop offset="0.685" stop-color="#3a538b"/><stop offset="0.848" stop-color="#1f9e89"/><stop offset="1.000" stop-color="#22a785"/></linearGradient><linearGradient id="gb1"><stop offset="0.000" stop-color="#1f948c"/><stop offset="0.109" stop-color="#218e8d"/><stop offset="0.174" stop-color="#32658e"/><stop offset="0.217" stop-color="#453581"/><stop offset="0.293" stop-color="#471365"/><stop offset="0.467" stop-color="#355e8d"/><stop offset="0.543" stop-color="#2b748e"/><stop offset="0.587" stop-color="#2c718e"/><stop offset="0.663" stop-color="#39558c"/><stop offset="0.717" stop-color="#355f8d"/><stop offset="0.848" stop-color="#1e9d89"/><stop offset="1.000" stop-color="#21a685"/></linearGradient><linearGradient id="gb2"><stop offset="0.000" stop-color="#1f978b"/><stop offset="0.109" stop-color="#21918c"/><stop offset="0.174" stop-color="#31688e"/><stop offset="0.217" stop-color="#453882"/><stop offset="0.293" stop-color="#481668"/><stop offset="0.457" stop-color="#375b8d"/><stop offset="0.533" stop-color="#2a768e"/><stop offset="0.587" stop-color="#2b748e"/><stop offset="0.663" stop-color="#38588c"/><stop offset="0.717" stop-color="#34608d"/><stop offset="0.848" stop-color="#1f9f88"/><stop offset="1.000" stop-color="#22a884"/></linearGradient><linearGradient id="gb3"><stop offset="0.000" stop-color="#1f968b"/><stop offset="0.109" stop-color="#218f8d"/><stop offset="0.174" stop-color="#31668e"/><stop offset="0.217" stop-color="#453781"/><stop offset="0.293" stop-color="#471365"/><stop offset="0.446" stop-color="#3a538b"/><stop offset="0.533" stop-color="#2b758e"/><stop offset="0.587" stop-color="#2c728e"/><stop offset="0.674" stop-color="#3a538b"/><stop offset="0.772" stop-color="#2a778e"/><stop offset="0.848" stop-color="#1e9d89"/><stop offset="1.000" stop-color="#21a685"/></linearGradient><linearGradient id="gb4"><stop offset="0.000" stop-color="#1f988b"/><stop offset="0.109" stop-color="#21908d"/><stop offset="0.174" stop-color="#31678e"/><stop offset="0.228" stop-color="#46307e"/><stop offset="0.304" stop-color="#471365"/><stop offset="0.533" stop-color="#2a768e"/><stop offset="0.587" stop-color="#2b748e"/><stop offset="0.674" stop-color="#3a548c"/><stop offset="0.772" stop-color="#2a788e"/><stop offset="0.848" stop-color="#1f9e89"/><stop offset="1.000" stop-color="#22a785"/></linearGradient><linearGradient id="gb5"><stop offset="0.000" stop-color="#1f998a"/><stop offset="0.109" stop-color="#21918c"/><stop offset="0.174" stop-color="#31688e"/><stop offset="0.228" stop-color="#46327e"/><stop offset="0.304" stop-color="#471365"/><stop offset="0.500" stop-color="#2d708e"/><stop offset="0.587" stop-color="#2b758e"/><stop offset="0.685" stop-color="#3b518b"/><stop offset="0.783" stop-color="#277f8e"/><stop offset="0.848" stop-color="#1f9e89"/><stop offset="1.000" stop-color="#22a785"/></linearGradient><linearGradient id="gb6"><stop offset="0.000" stop-color="#1e9d89"/><stop offset="0.109" stop-color="#1f948c"/><stop offset="0.174" stop-color="#2f6c8e"/><stop offset="0.228" stop-color="#453781"/><stop offset="0.304" stop-color="#48186a"/><stop offset="0.478" stop-color="#306a8e"/><stop offset="0.565" stop-color="#287d8e"/><stop offset="0.685" stop-color="#39558c"/><stop offset="0.783" stop-color="#26828e"/><stop offset="0.848" stop-color="#1fa188"/><stop offset="1.000" stop-color="#24aa83"/></linearGradient><linearGradient id="gb7"><stop offset="0.000" stop-color="#1f978b"/><stop offset="0.109" stop-color="#218e8d"/><stop offset="0.174" stop-color="#32658e"/><stop offset="0.228" stop-color="#472e7c"/><stop offset="0.304" stop-color="#470d60"/><stop offset="0.457" stop-color="#38588c"/><stop offset="0.543" stop-color="#2b758e"/><stop offset="0.598" stop-color="#2e6f8e"/><stop offset="0.685" stop-color="#3d4d8a"/><stop offset="0.783" stop-color="#297a8e"/><stop offset="0.848" stop-color="#1f9a8a"/><stop offset="1.000" stop-color="#20a386"/></linearGradient><linearGradient id="gb8"><stop offset="0.000" stop-color="#1f998a"/><stop offset="0.109" stop-color="#21908d"/><stop offset="0.174" stop-color="#31678e"/><stop offset="0.228" stop-color="#472f7d"/><stop offset="0.304" stop-color="#471063"/><stop offset="0.446" stop-color="#3a538b"/><stop offset="0.533" stop-color="#2a768e"/><stop offset="0.598" stop-color="#2d718e"/><stop offset="0.685" stop-color="#3d4e8a"/><stop offset="0.772" stop-color="#2b748e"/><stop offset="0.848" stop-color="#1e9b8a"/><stop offset="1.000" stop-color="#20a486"/></linearGradient><linearGradient id="gb9"><stop offset="0.000" stop-color="#1e9b8a"/><stop offset="0.109" stop-color="#21918c"/><stop offset="0.174" stop-color="#31688e"/><stop offset="0.228" stop-color="#46327e"/><stop offset="0.304" stop-color="#471164"/><stop offset="0.446" stop-color="#39558c"/><stop offset="0.543" stop-color="#29798e"/><stop offset="0.598" stop-color="#2c728e"/><stop offset="0.685" stop-color="#3c4f8a"/><stop offset="0.772" stop-color="#2b758e"/><stop offset="0.848" stop-color="#1e9c89"/><stop offset="1.000" stop-color="#21a685"/></linearGradient><linearGradient id="gb10"><stop offset="0.000" stop-color="#1f968b"/><stop offset="0.109" stop-color="#228c8d"/><stop offset="0.174" stop-color="#33638d"/><stop offset="0.228" stop-color="#472c7a"/><stop offset="0.304" stop-color="#460a5d"/><stop offset="0.435" stop-color="#3f4889"/><stop offset="0.533" stop-color="#2c738e"/><stop offset="0.598" stop-color="#2e6f8e"/><stop offset="0.685" stop-color="#3f4889"/><stop offset="0.772" stop-color="#2d708e"/><stop offset="0.837" stop-color="#1f958b"/><stop offset="1.000" stop-color="#1fa188"/></linearGradient><linearGradient id="gb11"><stop offset="0.000" stop-color="#1fa188"/><stop offset="0.109" stop-color="#1f958b"/><stop offset="0.174" stop-color="#2e6d8e"/><stop offset="0.228" stop-color="#453882"/><stop offset="0.293" stop-color="#481a6c"/><stop offset="0.402" stop-color="#423f85"/><stop offset="0.533" stop-color="#287d8e"/><stop offset="0.598" stop-color="#2a788e"/><stop offset="0.685" stop-color="#3b528b"/><stop offset="0.772" stop-color="#2a788e"/><stop offset="0.837" stop-color="#1f9f88"/><stop offset="1.000" stop-color="#23a983"/></linearGradient><linearGradient id="gb12"><stop offset="0.000" stop-color="#1fa188"/><stop offset="0.109" stop-color="#1f958b"/><stop offset="0.174" stop-color="#2e6d8e"/><stop offset="0.228" stop-color="#453882"/><stop offset="0.293" stop-color="#48186a"/><stop offset="0.391" stop-color="#453882"/><stop offset="0.533" stop-color="#277e8e"/><stop offset="0.598" stop-color="#29798e"/><stop offset="0.685" stop-color="#3b518b"/><stop offset="0.772" stop-color="#2a778e"/><stop offset="0.837" stop-color="#1f9e89"/><stop offset="1.000" stop-color="#23a983"/></linearGradient><linearGradient id="gb13"><stop offset="0.000" stop-color="#1e9b8a"/><stop offset="0.109" stop-color="#218f8d"/><stop offset="0.174" stop-color="#31668e"/><stop offset="0.239" stop-color="#482677"/><stop offset="0.304" stop-color="#470d60"/><stop offset="0.424" stop-color="#414487"/><stop offset="0.533" stop-color="#2a778e"/><stop offset="0.598" stop-color="#2c728e"/><stop offset="0.685" stop-color="#3f4889"/><stop offset="0.772" stop-color="#2d708e"/><stop offset="0.837" stop-color="#1f978b"/><stop offset="1.000" stop-color="#1fa187"/></linearGradient><linearGradient id="gb14"><stop offset="0.000" stop-color="#1fa188"/><stop offset="0.109" stop-color="#20938c"/><stop offset="0.185" stop-color="#355f8d"/><stop offset="0.261" stop-color="#481d6f"/><stop offset="0.337" stop-color="#481a6c"/><stop offset="0.533" stop-color="#287c8e"/><stop offset="0.598" stop-color="#2a788e"/><stop offset="0.685" stop-color="#3d4e8a"/><stop offset="0.772" stop-color="#2b748e"/><stop offset="0.837" stop-color="#1e9b8a"/><stop offset="1.000" stop-color="#21a685"/></linearGradient><linearGradient id="gb15"><stop offset="0.000" stop-color="#20a486"/><stop offset="0.109" stop-color="#1f978b"/><stop offset="0.185" stop-color="#33638d"/><stop offset="0.261" stop-color="#482173"/><stop offset="0.337" stop-color="#481d6f"/><stop offset="0.533" stop-color="#27808e"/><stop offset="0.598" stop-color="#287c8e"/><stop offset="0.685" stop-color="#3b518b"/><stop offset="0.761" stop-color="#2e6f8e"/><stop offset="0.837" stop-color="#1f9f88"/><stop offset="1.000" stop-color="#23a983"/></linearGradient><linearGradient id="gb16"><stop offset="0.000" stop-color="#20a386"/><stop offset="0.109" stop-color="#1f968b"/><stop offset="0.185" stop-color="#33628d"/><stop offset="0.261" stop-color="#482071"/><stop offset="0.348" stop-color="#482071"/><stop offset="0.533" stop-color="#277f8e"/><stop offset="0.598" stop-color="#287c8e"/><stop offset="0.685" stop-color="#3c4f8a"/><stop offset="0.761" stop-color="#2e6d8e"/><stop offset="0.837" stop-color="#1e9d89"/><stop offset="1.000" stop-color="#22a884"/></linearGradient><linearGradient id="gb17"><stop offset="0.000" stop-color="#1fa088"/><stop offset="0.109" stop-color="#20928c"/><stop offset="0.185" stop-color="#365d8d"/><stop offset="0.261" stop-color="#481b6d"/><stop offset="0.348" stop-color="#481a6c"/><stop offset="0.533" stop-color="#297b8e"/><stop offset="0.598" stop-color="#2a788e"/><stop offset="0.685" stop-color="#3e4989"/><stop offset="0.761" stop-color="#31678e"/><stop offset="0.826" stop-color="#1f958b"/><stop offset="1.000" stop-color="#20a386"/></linearGradient><linearGradient id="gb18"><stop offset="0.000" stop-color="#20a386"/><stop offset="0.109" stop-color="#1f958b"/><stop offset="0.185" stop-color="#34618d"/><stop offset="0.261" stop-color="#481f70"/><stop offset="0.348" stop-color="#481d6f"/><stop offset="0.533" stop-color="#277f8e"/><stop offset="0.598" stop-color="#287c8e"/><stop offset="0.685" stop-color="#3d4d8a"/><stop offset="0.761" stop-color="#306a8e"/><stop offset="0.826" stop-color="#1f988b"/><stop offset="1.000" stop-color="#21a685"/></linearGradient><linearGradient id="gb19"><stop offset="0.000" stop-color="#1fa188"/><stop offset="0.109" stop-color="#20928c"/><stop offset="0.185" stop-color="#355e8d"/><stop offset="0.272" stop-color="#481467"/><stop offset="0.359" stop-color="#481d6f"/><stop offset="0.522" stop-color="#29798e"/><stop offset="0.598" stop-color="#29798e"/><stop offset="0.685" stop-color="#3f4889"/><stop offset="0.761" stop-color="#31668e"/><stop offset="0.826" stop-color="#1f948c"/><stop offset="1.000" stop-color="#1fa287"/></linearGradient><linearGradient id="gb20"><stop offset="0.000" stop-color="#20a386"/><stop offset="0.109" stop-color="#1f948c"/><stop offset="0.185" stop-color="#34608d"/><stop offset="0.272" stop-color="#481769"/><stop offset="0.359" stop-color="#482071"/><stop offset="0.522" stop-color="#297b8e"/><stop offset="0.598" stop-color="#287c8e"/><stop offset="0.685" stop-color="#3e4989"/><stop offset="0.761" stop-color="#31678e"/><stop offset="0.826" stop-color="#1f968b"/><stop offset="1.000" stop-color="#20a486"/></linearGradient><linearGradient id="gb21"><stop offset="0.000" stop-color="#1fa088"/><stop offset="0.109" stop-color="#21908d"/><stop offset="0.185" stop-color="#375b8d"/><stop offset="0.272" stop-color="#470e61"/><stop offset="0.359" stop-color="#48186a"/><stop offset="0.522" stop-color="#2a768e"/><stop offset="0.598" stop-color="#2a788e"/><stop offset="0.685" stop-color="#414487"/><stop offset="0.761" stop-color="#34618d"/><stop offset="0.826" stop-color="#20928c"/><stop offset="1.000" stop-color="#1fa088"/></linearGradient><linearGradient id="gb22"><stop offset="0.000" stop-color="#21a685"/><stop offset="0.109" stop-color="#1f968b"/><stop offset="0.185" stop-color="#33628d"/><stop offset="0.272" stop-color="#48186a"/><stop offset="0.359" stop-color="#482173"/><stop offset="0.522" stop-color="#277e8e"/><stop offset="0.598" stop-color="#27808e"/><stop offset="0.685" stop-color="#3e4a89"/><stop offset="0.761" stop-color="#31678e"/><stop offset="0.826" stop-color="#1f978b"/><stop offset="1.000" stop-color="#21a685"/></linearGradient><linearGradient id="gb23"><stop offset="0.000" stop-color="#25ab82"/><stop offset="0.109" stop-color="#1e9b8a"/><stop offset="0.185" stop-color="#31678e"/><stop offset="0.272" stop-color="#481d6f"/><stop offset="0.359" stop-color="#482576"/><stop offset="0.522" stop-color="#26828e"/><stop offset="0.598" stop-color="#25848e"/><stop offset="0.685" stop-color="#3c4f8a"/><stop offset="0.761" stop-color="#2f6b8e"/><stop offset="0.826" stop-color="#1e9b8a"/><stop offset="1.000" stop-color="#23a983"/></linearGradient><linearGradient id="gb24"><stop offset="0.000" stop-color="#23a983"/><stop offset="0.109" stop-color="#1f988b"/><stop offset="0.185" stop-color="#32648e"/><stop offset="0.272" stop-color="#481b6d"/><stop offset="0.359" stop-color="#482173"/><stop offset="0.522" stop-color="#27808e"/><stop offset="0.598" stop-color="#26828e"/><stop offset="0.685" stop-color="#3e4c8a"/><stop offset="0.761" stop-color="#31688e"/><stop offset="0.826" stop-color="#1f998a"/><stop offset="1.000" stop-color="#22a785"/></linearGradient><linearGradient id="gb25"><stop offset="0.000" stop-color="#21a685"/><stop offset="0.109" stop-color="#1f948c"/><stop offset="0.185" stop-color="#34608d"/><stop offset="0.272" stop-color="#481467"/><stop offset="0.359" stop-color="#481c6e"/><stop offset="0.511" stop-color="#2a788e"/><stop offset="0.598" stop-color="#277f8e"/><stop offset="0.685" stop-color="#404688"/><stop offset="0.750" stop-color="#38588c"/><stop offset="0.826" stop-color="#1f948c"/><stop offset="1.000" stop-color="#1fa287"/></linearGradient><linearGradient id="gb26"><stop offset="0.000" stop-color="#24aa83"/><stop offset="0.109" stop-color="#1f988b"/><stop offset="0.196" stop-color="#38598c"/><stop offset="0.283" stop-color="#481769"/><stop offset="0.359" stop-color="#481f70"/><stop offset="0.511" stop-color="#287c8e"/><stop offset="0.598" stop-color="#26828e"/><stop offset="0.685" stop-color="#3f4889"/><stop offset="0.750" stop-color="#375b8d"/><stop offset="0.826" stop-color="#1f978b"/><stop offset="1.000" stop-color="#21a585"/></linearGradient><linearGradient id="gb27"><stop offset="0.000" stop-color="#2fb47c"/><stop offset="0.109" stop-color="#1e9d89"/><stop offset="0.261" stop-color="#481d6f"/><stop offset="0.348" stop-color="#481668"/><stop offset="0.435" stop-color="#3c508b"/><stop offset="0.533" stop-color="#26818e"/><stop offset="0.598" stop-color="#26818e"/><stop offset="0.685" stop-color="#404588"/><stop offset="0.750" stop-color="#39568c"/><stop offset="0.826" stop-color="#1f948c"/><stop offset="1.000" stop-color="#1fa287"/></linearGradient><linearGradient id="gb28"><stop offset="0.000" stop-color="#35b779"/><stop offset="0.109" stop-color="#1fa187"/><stop offset="0.207" stop-color="#3a548c"/><stop offset="0.283" stop-color="#481d6f"/><stop offset="0.359" stop-color="#482576"/><stop offset="0.446" stop-color="#34618d"/><stop offset="0.543" stop-color="#23898e"/><stop offset="0.598" stop-color="#23898e"/><stop offset="0.674" stop-color="#3a538b"/><stop offset="0.707" stop-color="#3d4d8a"/><stop offset="0.761" stop-color="#30698e"/><stop offset="0.826" stop-color="#1e9c89"/><stop offset="1.000" stop-color="#24aa83"/></linearGradient><linearGradient id="gb29"><stop offset="0.000" stop-color="#27ad81"/><stop offset="0.109" stop-color="#1f9a8a"/><stop offset="0.196" stop-color="#365c8d"/><stop offset="0.283" stop-color="#481a6c"/><stop offset="0.359" stop-color="#482071"/><stop offset="0.446" stop-color="#365d8d"/><stop offset="0.543" stop-color="#25858e"/><stop offset="0.598" stop-color="#24878e"/><stop offset="0.674" stop-color="#3c4f8a"/><stop offset="0.707" stop-color="#3f4788"/><stop offset="0.761" stop-color="#32658e"/><stop offset="0.815" stop-color="#1f978b"/><stop offset="1.000" stop-color="#21a685"/></linearGradient><linearGradient id="gb30"><stop offset="0.000" stop-color="#25ac82"/><stop offset="0.109" stop-color="#1f988b"/><stop offset="0.196" stop-color="#38598c"/><stop offset="0.283" stop-color="#481668"/><stop offset="0.359" stop-color="#481c6e"/><stop offset="0.435" stop-color="#3b528b"/><stop offset="0.522" stop-color="#27808e"/><stop offset="0.598" stop-color="#25858e"/><stop offset="0.674" stop-color="#3e4c8a"/><stop offset="0.707" stop-color="#414487"/><stop offset="0.761" stop-color="#34618d"/><stop offset="0.815" stop-color="#1f948c"/><stop offset="1.000" stop-color="#20a386"/></linearGradient><linearGradient id="gb31"><stop offset="0.000" stop-color="#2ab07f"/><stop offset="0.109" stop-color="#1e9c89"/><stop offset="0.196" stop-color="#355e8d"/><stop offset="0.283" stop-color="#481b6d"/><stop offset="0.359" stop-color="#482071"/><stop offset="0.435" stop-color="#39568c"/><stop offset="0.522" stop-color="#25838e"/><stop offset="0.598" stop-color="#238a8d"/><stop offset="0.674" stop-color="#3c508b"/><stop offset="0.707" stop-color="#3f4788"/><stop offset="0.761" stop-color="#32658e"/><stop offset="0.815" stop-color="#1f998a"/><stop offset="1.000" stop-color="#22a785"/></linearGradient><linearGradient id="gb32"><stop offset="0.000" stop-color="#25ac82"/><stop offset="0.109" stop-color="#1f968b"/><stop offset="0.207" stop-color="#3d4d8a"/><stop offset="0.283" stop-color="#471365"/><stop offset="0.359" stop-color="#48186a"/><stop offset="0.435" stop-color="#3c4f8a"/><stop offset="0.522" stop-color="#277f8e"/><stop offset="0.598" stop-color="#25858e"/><stop offset="0.674" stop-color="#3e4989"/><stop offset="0.707" stop-color="#424086"/><stop offset="0.761" stop-color="#355e8d"/><stop offset="0.815" stop-color="#20938c"/><stop offset="1.000" stop-color="#1fa187"/></linearGradient><linearGradient id="gb33"><stop offset="0.000" stop-color="#26ad81"/><stop offset="0.109" stop-color="#1f978b"/><stop offset="0.207" stop-color="#3d4e8a"/><stop offset="0.283" stop-color="#471365"/><stop offset="0.359" stop-color="#48186a"/><stop offset="0.435" stop-color="#3d4e8a"/><stop offset="0.533" stop-color="#25838e"/><stop offset="0.598" stop-color="#24878e"/><stop offset="0.685" stop-color="#414287"/><stop offset="0.728" stop-color="#3f4889"/><stop offset="0.772" stop-color="#30698e"/><stop offset="0.815" stop-color="#20928c"/><stop offset="1.000" stop-color="#1fa188"/></linearGradient><linearGradient id="gb34"><stop offset="0.000" stop-color="#2eb37c"/><stop offset="0.109" stop-color="#1e9d89"/><stop offset="0.283" stop-color="#481b6d"/><stop offset="0.359" stop-color="#481f70"/><stop offset="0.446" stop-color="#375b8d"/><stop offset="0.543" stop-color="#228c8d"/><stop offset="0.598" stop-color="#218f8d"/><stop offset="0.685" stop-color="#3f4889"/><stop offset="0.728" stop-color="#3c4f8a"/><stop offset="0.772" stop-color="#2e6e8e"/><stop offset="0.815" stop-color="#1f988b"/><stop offset="1.000" stop-color="#21a685"/></linearGradient><linearGradient id="gb35"><stop offset="0.000" stop-color="#32b67a"/><stop offset="0.109" stop-color="#1f9e89"/><stop offset="0.272" stop-color="#481b6d"/><stop offset="0.359" stop-color="#481b6d"/><stop offset="0.446" stop-color="#39568c"/><stop offset="0.543" stop-color="#228b8d"/><stop offset="0.598" stop-color="#218f8d"/><stop offset="0.696" stop-color="#433e85"/><stop offset="0.761" stop-color="#34608d"/><stop offset="0.815" stop-color="#1f958b"/><stop offset="1.000" stop-color="#20a386"/></linearGradient><linearGradient id="gb36"><stop offset="0.000" stop-color="#48c16e"/><stop offset="0.098" stop-color="#27ad81"/><stop offset="0.272" stop-color="#481c6e"/><stop offset="0.359" stop-color="#481c6e"/><stop offset="0.446" stop-color="#39558c"/><stop offset="0.543" stop-color="#228d8d"/><stop offset="0.598" stop-color="#20928c"/><stop offset="0.696" stop-color="#423f85"/><stop offset="0.761" stop-color="#34618d"/><stop offset="0.815" stop-color="#1f968b"/><stop offset="1.000" stop-color="#20a386"/></linearGradient><linearGradient id="gb37"><stop offset="0.000" stop-color="#2cb17e"/><stop offset="0.109" stop-color="#1f998a"/><stop offset="0.283" stop-color="#481668"/><stop offset="0.359" stop-color="#481769"/><stop offset="0.446" stop-color="#3c508b"/><stop offset="0.543" stop-color="#228b8d"/><stop offset="0.598" stop-color="#21918c"/><stop offset="0.696" stop-color="#443b84"/><stop offset="0.761" stop-color="#365d8d"/><stop offset="0.815" stop-color="#20938c"/><stop offset="1.000" stop-color="#1fa088"/></linearGradient><linearGradient id="gb38"><stop offset="0.000" stop-color="#2eb37c"/><stop offset="0.109" stop-color="#1e9b8a"/><stop offset="0.283" stop-color="#481769"/><stop offset="0.370" stop-color="#481c6e"/><stop offset="0.554" stop-color="#21908d"/><stop offset="0.598" stop-color="#20938c"/><stop offset="0.696" stop-color="#433d84"/><stop offset="0.761" stop-color="#355e8d"/><stop offset="0.815" stop-color="#1f948c"/><stop offset="1.000" stop-color="#1fa188"/></linearGradient><linearGradient id="gb39"><stop offset="0.000" stop-color="#2fb47c"/><stop offset="0.109" stop-color="#1e9b8a"/><stop offset="0.283" stop-color="#481769"/><stop offset="0.370" stop-color="#481b6d"/><stop offset="0.489" stop-color="#2c718e"/><stop offset="0.565" stop-color="#20938c"/><stop offset="0.598" stop-color="#1f958b"/><stop offset="0.685" stop-color="#414287"/><stop offset="0.739" stop-color="#3e4c8a"/><stop offset="0.815" stop-color="#20938c"/><stop offset="1.000" stop-color="#1fa088"/></linearGradient><linearGradient id="gb40"><stop offset="0.000" stop-color="#34b679"/><stop offset="0.109" stop-color="#1f9e89"/><stop offset="0.283" stop-color="#481a6c"/><stop offset="0.370" stop-color="#481c6e"/><stop offset="0.457" stop-color="#38598c"/><stop offset="0.554" stop-color="#1f958b"/><stop offset="0.598" stop-color="#1f998a"/><stop offset="0.685" stop-color="#404588"/><stop offset="0.739" stop-color="#3d4e8a"/><stop offset="0.815" stop-color="#1f958b"/><stop offset="1.000" stop-color="#1fa187"/></linearGradient><linearGradient id="gb41"><stop offset="0.000" stop-color="#37b878"/><stop offset="0.109" stop-color="#1fa088"/><stop offset="0.283" stop-color="#481c6e"/><stop offset="0.370" stop-color="#481f70"/><stop offset="0.457" stop-color="#38598c"/><stop offset="0.554" stop-color="#1f988b"/><stop offset="0.598" stop-color="#1e9d89"/><stop offset="0.685" stop-color="#3f4788"/><stop offset="0.739" stop-color="#3c4f8a"/><stop offset="0.815" stop-color="#1f978b"/><stop offset="1.000" stop-color="#1fa287"/></linearGradient><linearGradient id="gb42"><stop offset="0.000" stop-color="#5ac864"/><stop offset="0.098" stop-color="#2cb17e"/><stop offset="0.283" stop-color="#481769"/><stop offset="0.370" stop-color="#481769"/><stop offset="0.457" stop-color="#3b528b"/><stop offset="0.554" stop-color="#1f958b"/><stop offset="0.598" stop-color="#1e9b8a"/><stop offset="0.685" stop-color="#424186"/><stop offset="0.728" stop-color="#414487"/><stop offset="0.783" stop-color="#2c718e"/><stop offset="0.815" stop-color="#20928c"/><stop offset="1.000" stop-color="#1f9e89"/></linearGradient><linearGradient id="gb43"><stop offset="0.000" stop-color="#6ccd5a"/><stop offset="0.087" stop-color="#3dbc74"/><stop offset="0.272" stop-color="#481a6c"/><stop offset="0.370" stop-color="#481467"/><stop offset="0.457" stop-color="#3d4e8a"/><stop offset="0.554" stop-color="#1f958b"/><stop offset="0.598" stop-color="#1e9b8a"/><stop offset="0.685" stop-color="#433e85"/><stop offset="0.728" stop-color="#424086"/><stop offset="0.793" stop-color="#297a8e"/><stop offset="0.826" stop-color="#21918c"/><stop offset="1.000" stop-color="#1e9b8a"/></linearGradient><linearGradient id="gb44"><stop offset="0.000" stop-color="#2eb37c"/><stop offset="0.098" stop-color="#1f9f88"/><stop offset="0.283" stop-color="#471063"/><stop offset="0.380" stop-color="#471365"/><stop offset="0.457" stop-color="#3e4989"/><stop offset="0.554" stop-color="#20938c"/><stop offset="0.598" stop-color="#1f9a8a"/><stop offset="0.685" stop-color="#443a83"/><stop offset="0.728" stop-color="#443b84"/><stop offset="0.793" stop-color="#2a778e"/><stop offset="0.826" stop-color="#218e8d"/><stop offset="1.000" stop-color="#1f988b"/></linearGradient><linearGradient id="gb45"><stop offset="0.000" stop-color="#32b67a"/><stop offset="0.098" stop-color="#1fa287"/><stop offset="0.283" stop-color="#481467"/><stop offset="0.380" stop-color="#481668"/><stop offset="0.457" stop-color="#3e4a89"/><stop offset="0.554" stop-color="#1f988b"/><stop offset="0.598" stop-color="#1f9f88"/><stop offset="0.685" stop-color="#433e85"/><stop offset="0.728" stop-color="#433e85"/><stop offset="0.793" stop-color="#29798e"/><stop offset="0.826" stop-color="#21918c"/><stop offset="1.000" stop-color="#1f9a8a"/></linearGradient><linearGradient id="gb46"><stop offset="0.000" stop-color="#35b779"/><stop offset="0.098" stop-color="#1fa287"/><stop offset="0.283" stop-color="#481467"/><stop offset="0.380" stop-color="#481668"/><stop offset="0.457" stop-color="#3e4989"/><stop offset="0.554" stop-color="#1f9a8a"/><stop offset="0.598" stop-color="#1fa188"/><stop offset="0.663" stop-color="#3a548c"/><stop offset="0.696" stop-color="#453781"/><stop offset="0.750" stop-color="#3e4c8a"/><stop offset="0.815" stop-color="#21908d"/><stop offset="1.000" stop-color="#1f9a8a"/></linearGradient><linearGradient id="gb47"><stop offset="0.000" stop-color="#34b679"/><stop offset="0.098" stop-color="#1fa287"/><stop offset="0.283" stop-color="#471365"/><stop offset="0.380" stop-color="#471365"/><stop offset="0.457" stop-color="#404688"/><stop offset="0.554" stop-color="#1e9b8a"/><stop offset="0.598" stop-color="#1fa187"/><stop offset="0.652" stop-color="#32648e"/><stop offset="0.685" stop-color="#443b84"/><stop offset="0.728" stop-color="#443b84"/><stop offset="0.793" stop-color="#2a788e"/><stop offset="0.826" stop-color="#218f8d"/><stop offset="1.000" stop-color="#1f988b"/></linearGradient><linearGradient id="gb48"><stop offset="0.000" stop-color="#37b878"/><stop offset="0.098" stop-color="#20a386"/><stop offset="0.293" stop-color="#471164"/><stop offset="0.391" stop-color="#481769"/><stop offset="0.457" stop-color="#404588"/><stop offset="0.554" stop-color="#1e9d89"/><stop offset="0.598" stop-color="#20a486"/><stop offset="0.652" stop-color="#32658e"/><stop offset="0.685" stop-color="#443b84"/><stop offset="0.728" stop-color="#443b84"/><stop offset="0.793" stop-color="#2a788e"/><stop offset="0.826" stop-color="#218f8d"/><stop offset="1.000" stop-color="#1f988b"/></linearGradient><linearGradient id="gb49"><stop offset="0.000" stop-color="#37b878"/><stop offset="0.098" stop-color="#20a386"/><stop offset="0.293" stop-color="#471164"/><stop offset="0.391" stop-color="#481467"/><stop offset="0.457" stop-color="#414287"/><stop offset="0.554" stop-color="#1f9e89"/><stop offset="0.587" stop-color="#25ab82"/><stop offset="0.641" stop-color="#2b758e"/><stop offset="0.674" stop-color="#424186"/><stop offset="0.717" stop-color="#46327e"/><stop offset="0.783" stop-color="#2f6c8e"/><stop offset="0.815" stop-color="#218e8d"/><stop offset="1.000" stop-color="#1f978b"/></linearGradient><linearGradient id="gb50"><stop offset="0.000" stop-color="#52c569"/><stop offset="0.098" stop-color="#29af7f"/><stop offset="0.293" stop-color="#481d6f"/><stop offset="0.391" stop-color="#482071"/><stop offset="0.457" stop-color="#3e4c8a"/><stop offset="0.554" stop-color="#22a884"/><stop offset="0.587" stop-color="#32b67a"/><stop offset="0.641" stop-color="#27808e"/><stop offset="0.674" stop-color="#3e4c8a"/><stop offset="0.717" stop-color="#433d84"/><stop offset="0.783" stop-color="#2b748e"/><stop offset="0.815" stop-color="#1f968b"/><stop offset="1.000" stop-color="#1fa088"/></linearGradient><linearGradient id="gb51"><stop offset="0.000" stop-color="#9dd93b"/><stop offset="0.087" stop-color="#5ec962"/><stop offset="0.207" stop-color="#32648e"/><stop offset="0.293" stop-color="#481c6e"/><stop offset="0.391" stop-color="#481d6f"/><stop offset="0.446" stop-color="#453882"/><stop offset="0.554" stop-color="#23a983"/><stop offset="0.587" stop-color="#34b679"/><stop offset="0.641" stop-color="#27808e"/><stop offset="0.674" stop-color="#3e4a89"/><stop offset="0.717" stop-color="#443a83"/><stop offset="0.783" stop-color="#2c728e"/><stop offset="0.815" stop-color="#1f958b"/><stop offset="1.000" stop-color="#1f9e89"/></linearGradient><linearGradient id="gb52"><stop offset="0.000" stop-color="#4cc26c"/><stop offset="0.098" stop-color="#25ac82"/><stop offset="0.293" stop-color="#481b6d"/><stop offset="0.391" stop-color="#481b6d"/><stop offset="0.446" stop-color="#463480"/><stop offset="0.554" stop-color="#24aa83"/><stop offset="0.587" stop-color="#37b878"/><stop offset="0.630" stop-color="#20938c"/><stop offset="0.674" stop-color="#3e4989"/><stop offset="0.717" stop-color="#453882"/><stop offset="0.783" stop-color="#2c718e"/><stop offset="0.815" stop-color="#1f948c"/><stop offset="1.000" stop-color="#1e9c89"/></linearGradient><linearGradient id="gb53"><stop offset="0.000" stop-color="#48c16e"/><stop offset="0.098" stop-color="#25ab82"/><stop offset="0.293" stop-color="#481b6d"/><stop offset="0.391" stop-color="#48186a"/><stop offset="0.446" stop-color="#46327e"/><stop offset="0.554" stop-color="#25ab82"/><stop offset="0.587" stop-color="#38b977"/><stop offset="0.630" stop-color="#1f948c"/><stop offset="0.674" stop-color="#3f4788"/><stop offset="0.717" stop-color="#453581"/><stop offset="0.783" stop-color="#2d718e"/><stop offset="0.815" stop-color="#20928c"/><stop offset="1.000" stop-color="#1e9b8a"/></linearGradient><linearGradient id="gb54"><stop offset="0.000" stop-color="#4ac16d"/><stop offset="0.087" stop-color="#2ab07f"/><stop offset="0.261" stop-color="#46337f"/><stop offset="0.304" stop-color="#481769"/><stop offset="0.402" stop-color="#481c6e"/><stop offset="0.446" stop-color="#472e7c"/><stop offset="0.554" stop-color="#25ac82"/><stop offset="0.587" stop-color="#3bbb75"/><stop offset="0.630" stop-color="#1f958b"/><stop offset="0.674" stop-color="#404688"/><stop offset="0.717" stop-color="#463480"/><stop offset="0.783" stop-color="#2d708e"/><stop offset="0.815" stop-color="#20928c"/><stop offset="1.000" stop-color="#1f9a8a"/></linearGradient><linearGradient id="gb55"><stop offset="0.000" stop-color="#42be71"/><stop offset="0.087" stop-color="#27ad81"/><stop offset="0.261" stop-color="#472e7c"/><stop offset="0.304" stop-color="#471164"/><stop offset="0.402" stop-color="#481467"/><stop offset="0.446" stop-color="#482677"/><stop offset="0.554" stop-color="#23a983"/><stop offset="0.587" stop-color="#38b977"/><stop offset="0.630" stop-color="#20938c"/><stop offset="0.674" stop-color="#424186"/><stop offset="0.717" stop-color="#472e7c"/><stop offset="0.783" stop-color="#2f6b8e"/><stop offset="0.815" stop-color="#218e8d"/><stop offset="1.000" stop-color="#1f958b"/></linearGradient><linearGradient id="gb56"><stop offset="0.000" stop-color="#4cc26c"/><stop offset="0.087" stop-color="#2db27d"/><stop offset="0.261" stop-color="#463480"/><stop offset="0.293" stop-color="#481a6c"/><stop offset="0.402" stop-color="#48186a"/><stop offset="0.446" stop-color="#482979"/><stop offset="0.554" stop-color="#28ae80"/><stop offset="0.587" stop-color="#44bf70"/><stop offset="0.630" stop-color="#1f998a"/><stop offset="0.674" stop-color="#404688"/><stop offset="0.717" stop-color="#46327e"/><stop offset="0.783" stop-color="#2e6f8e"/><stop offset="0.815" stop-color="#20928c"/><stop offset="1.000" stop-color="#1f998a"/></linearGradient><linearGradient id="gb57"><stop offset="0.000" stop-color="#50c46a"/><stop offset="0.087" stop-color="#2eb37c"/><stop offset="0.261" stop-color="#453581"/><stop offset="0.293" stop-color="#481b6d"/><stop offset="0.402" stop-color="#48186a"/><stop offset="0.446" stop-color="#482878"/><stop offset="0.554" stop-color="#2ab07f"/><stop offset="0.587" stop-color="#4ac16d"/><stop offset="0.630" stop-color="#1e9c89"/><stop offset="0.674" stop-color="#404688"/><stop offset="0.717" stop-color="#46327e"/><stop offset="0.783" stop-color="#2e6f8e"/><stop offset="0.815" stop-color="#20928c"/><stop offset="1.000" stop-color="#1f998a"/></linearGradient><linearGradient id="gb58"><stop offset="0.000" stop-color="#69cd5b"/><stop offset="0.087" stop-color="#3bbb75"/><stop offset="0.196" stop-color="#2f6c8e"/><stop offset="0.293" stop-color="#48186a"/><stop offset="0.402" stop-color="#481668"/><stop offset="0.446" stop-color="#482475"/><stop offset="0.554" stop-color="#2cb17e"/><stop offset="0.587" stop-color="#4cc26c"/><stop offset="0.630" stop-color="#1e9c89"/><stop offset="0.674" stop-color="#414487"/><stop offset="0.717" stop-color="#472f7d"/><stop offset="0.783" stop-color="#2e6d8e"/><stop offset="0.815" stop-color="#21918c"/><stop offset="1.000" stop-color="#1f978b"/></linearGradient><linearGradient id="gb59"><stop offset="0.000" stop-color="#bade28"/><stop offset="0.076" stop-color="#8bd646"/><stop offset="0.174" stop-color="#277f8e"/><stop offset="0.261" stop-color="#453882"/><stop offset="0.293" stop-color="#481c6e"/><stop offset="0.402" stop-color="#481769"/><stop offset="0.446" stop-color="#482576"/><stop offset="0.554" stop-color="#31b57b"/><stop offset="0.587" stop-color="#56c667"/><stop offset="0.630" stop-color="#1fa188"/><stop offset="0.674" stop-color="#3f4788"/><stop offset="0.717" stop-color="#46327e"/><stop offset="0.783" stop-color="#2d708e"/><stop offset="0.815" stop-color="#20928c"/><stop offset="1.000" stop-color="#1f998a"/></linearGradient><linearGradient id="gb60"><stop offset="0.000" stop-color="#52c569"/><stop offset="0.087" stop-color="#2eb37c"/><stop offset="0.207" stop-color="#31668e"/><stop offset="0.293" stop-color="#48186a"/><stop offset="0.402" stop-color="#471164"/><stop offset="0.446" stop-color="#481d6f"/><stop offset="0.554" stop-color="#2fb47c"/><stop offset="0.587" stop-color="#56c667"/><stop offset="0.630" stop-color="#1fa088"/><stop offset="0.674" stop-color="#414287"/><stop offset="0.717" stop-color="#472d7b"/><stop offset="0.783" stop-color="#2f6c8e"/><stop offset="0.815" stop-color="#21908d"/><stop offset="1.000" stop-color="#1f958b"/></linearGradient><linearGradient id="gb61"><stop offset="0.000" stop-color="#54c568"/><stop offset="0.087" stop-color="#2fb47c"/><stop offset="0.196" stop-color="#2e6d8e"/><stop offset="0.261" stop-color="#453581"/><stop offset="0.293" stop-color="#48186a"/><stop offset="0.402" stop-color="#471063"/><stop offset="0.446" stop-color="#481c6e"/><stop offset="0.554" stop-color="#32b67a"/><stop offset="0.587" stop-color="#5ac864"/><stop offset="0.630" stop-color="#1fa187"/><stop offset="0.674" stop-color="#414287"/><stop offset="0.717" stop-color="#472c7a"/><stop offset="0.783" stop-color="#2f6c8e"/><stop offset="0.815" stop-color="#21908d"/><stop offset="1.000" stop-color="#1f958b"/></linearGradient><linearGradient id="gb62"><stop offset="0.000" stop-color="#5cc863"/><stop offset="0.087" stop-color="#35b779"/><stop offset="0.185" stop-color="#2b758e"/><stop offset="0.250" stop-color="#3f4788"/><stop offset="0.293" stop-color="#481c6e"/><stop offset="0.402" stop-color="#481467"/><stop offset="0.446" stop-color="#481d6f"/><stop offset="0.554" stop-color="#38b977"/><stop offset="0.587" stop-color="#67cc5c"/><stop offset="0.630" stop-color="#21a685"/><stop offset="0.674" stop-color="#404688"/><stop offset="0.717" stop-color="#472e7c"/><stop offset="0.783" stop-color="#2e6e8e"/><stop offset="0.815" stop-color="#20928c"/><stop offset="1.000" stop-color="#1f978b"/></linearGradient><linearGradient id="gb63"><stop offset="0.000" stop-color="#56c667"/><stop offset="0.087" stop-color="#31b57b"/><stop offset="0.185" stop-color="#2c728e"/><stop offset="0.250" stop-color="#414487"/><stop offset="0.293" stop-color="#48186a"/><stop offset="0.402" stop-color="#470d60"/><stop offset="0.446" stop-color="#481668"/><stop offset="0.554" stop-color="#35b779"/><stop offset="0.587" stop-color="#65cb5e"/><stop offset="0.630" stop-color="#20a486"/><stop offset="0.674" stop-color="#424186"/><stop offset="0.717" stop-color="#482979"/><stop offset="0.783" stop-color="#306a8e"/><stop offset="0.815" stop-color="#218e8d"/><stop offset="1.000" stop-color="#20938c"/></linearGradient><linearGradient id="gb64"><stop offset="0.000" stop-color="#54c568"/><stop offset="0.087" stop-color="#2eb37c"/><stop offset="0.185" stop-color="#2d718e"/><stop offset="0.250" stop-color="#414287"/><stop offset="0.293" stop-color="#481668"/><stop offset="0.402" stop-color="#46085c"/><stop offset="0.446" stop-color="#471164"/><stop offset="0.554" stop-color="#35b779"/><stop offset="0.587" stop-color="#63cb5f"/><stop offset="0.630" stop-color="#20a386"/><stop offset="0.674" stop-color="#423f85"/><stop offset="0.717" stop-color="#482576"/><stop offset="0.783" stop-color="#31688e"/><stop offset="0.815" stop-color="#228c8d"/><stop offset="1.000" stop-color="#20928c"/></linearGradient></defs><rect x="570.50" y="86.30" width="93" height="3.60" fill="url(#gb0)"/><rect x="570.50" y="89.30" width="93" height="3.60" fill="url(#gb1)"/><rect x="570.50" y="92.30" width="93" height="3.60" fill="url(#gb2)"/><rect x="570.50" y="95.30" width="93" height="3.60" fill="url(#gb3)"/><rect x="570.50" y="98.30" width="93" height="3.60" fill="url(#gb4)"/><rect x="570.50" y="101.30" width="93" height="3.60" fill="url(#gb5)"/><rect x="570.50" y="104.30" width="93" height="3.60" fill="url(#gb6)"/><rect x="570.50" y="107.30" width="93" height="3.60" fill="url(#gb7)"/><rect x="570.50" y="110.30" width="93" height="3.60" fill="url(#gb8)"/><rect x="570.50" y="113.30" width="93" height="3.60" fill="url(#gb9)"/><rect x="570.50" y="116.30" width="93" height="3.60" fill="url(#gb10)"/><rect x="570.50" y="119.30" width="93" height="3.60" fill="url(#gb11)"/><rect x="570.50" y="122.30" width="93" height="3.60" fill="url(#gb12)"/><rect x="570.50" y="125.30" width="93" height="3.60" fill="url(#gb13)"/><rect x="570.50" y="128.30" width="93" height="3.60" fill="url(#gb14)"/><rect x="570.50" y="131.30" width="93" height="3.60" fill="url(#gb15)"/><rect x="570.50" y="134.30" width="93" height="3.60" fill="url(#gb16)"/><rect x="570.50" y="137.30" width="93" height="3.60" fill="url(#gb17)"/><rect x="570.50" y="140.30" width="93" height="3.60" fill="url(#gb18)"/><rect x="570.50" y="143.30" width="93" height="3.60" fill="url(#gb19)"/><rect x="570.50" y="146.30" width="93" height="3.60" fill="url(#gb20)"/><rect x="570.50" y="149.30" width="93" height="3.60" fill="url(#gb21)"/><rect x="570.50" y="152.30" width="93" height="3.60" fill="url(#gb22)"/><rect x="570.50" y="155.30" width="93" height="3.60" fill="url(#gb23)"/><rect x="570.50" y="158.30" width="93" height="3.60" fill="url(#gb24)"/><rect x="570.50" y="161.30" width="93" height="3.60" fill="url(#gb25)"/><rect x="570.50" y="164.30" width="93" height="3.60" fill="url(#gb26)"/><rect x="570.50" y="167.30" width="93" height="3.60" fill="url(#gb27)"/><rect x="570.50" y="170.30" width="93" height="3.60" fill="url(#gb28)"/><rect x="570.50" y="173.30" width="93" height="3.60" fill="url(#gb29)"/><rect x="570.50" y="176.30" width="93" height="3.60" fill="url(#gb30)"/><rect x="570.50" y="179.30" width="93" height="3.60" fill="url(#gb31)"/><rect x="570.50" y="182.30" width="93" height="3.60" fill="url(#gb32)"/><rect x="570.50" y="185.30" width="93" height="3.60" fill="url(#gb33)"/><rect x="570.50" y="188.30" width="93" height="3.60" fill="url(#gb34)"/><rect x="570.50" y="191.30" width="93" height="3.60" fill="url(#gb35)"/><rect x="570.50" y="194.30" width="93" height="3.60" fill="url(#gb36)"/><rect x="570.50" y="197.30" width="93" height="3.60" fill="url(#gb37)"/><rect x="570.50" y="200.30" width="93" height="3.60" fill="url(#gb38)"/><rect x="570.50" y="203.30" width="93" height="3.60" fill="url(#gb39)"/><rect x="570.50" y="206.30" width="93" height="3.60" fill="url(#gb40)"/><rect x="570.50" y="209.30" width="93" height="3.60" fill="url(#gb41)"/><rect x="570.50" y="212.30" width="93" height="3.60" fill="url(#gb42)"/><rect x="570.50" y="215.30" width="93" height="3.60" fill="url(#gb43)"/><rect x="570.50" y="218.30" width="93" height="3.60" fill="url(#gb44)"/><rect x="570.50" y="221.30" width="93" height="3.60" fill="url(#gb45)"/><rect x="570.50" y="224.30" width="93" height="3.60" fill="url(#gb46)"/><rect x="570.50" y="227.30" width="93" height="3.60" fill="url(#gb47)"/><rect x="570.50" y="230.30" width="93" height="3.60" fill="url(#gb48)"/><rect x="570.50" y="233.30" width="93" height="3.60" fill="url(#gb49)"/><rect x="570.50" y="236.30" width="93" height="3.60" fill="url(#gb50)"/><rect x="570.50" y="239.30" width="93" height="3.60" fill="url(#gb51)"/><rect x="570.50" y="242.30" width="93" height="3.60" fill="url(#gb52)"/><rect x="570.50" y="245.30" width="93" height="3.60" fill="url(#gb53)"/><rect x="570.50" y="248.30" width="93" height="3.60" fill="url(#gb54)"/><rect x="570.50" y="251.30" width="93" height="3.60" fill="url(#gb55)"/><rect x="570.50" y="254.30" width="93" height="3.60" fill="url(#gb56)"/><rect x="570.50" y="257.30" width="93" height="3.60" fill="url(#gb57)"/><rect x="570.50" y="260.30" width="93" height="3.60" fill="url(#gb58)"/><rect x="570.50" y="263.30" width="93" height="3.60" fill="url(#gb59)"/><rect x="570.50" y="266.30" width="93" height="3.60" fill="url(#gb60)"/><rect x="570.50" y="269.30" width="93" height="3.60" fill="url(#gb61)"/><rect x="570.50" y="272.30" width="93" height="3.60" fill="url(#gb62)"/><rect x="570.50" y="275.30" width="93" height="3.60" fill="url(#gb63)"/><rect x="570.50" y="278.30" width="93" height="1.00" fill="url(#gb64)"/>
<rect x="570.50" y="86.30" width="93.00" height="193.30" fill="none" stroke="#000" stroke-width="1.50"/>
<line x1="570.70" y1="279.60" x2="570.70" y2="285.10" stroke="#000" stroke-width="1.20"/>
<line x1="570.70" y1="86.30" x2="570.70" y2="91.80" stroke="#000" stroke-width="1.20"/>
<text transform="translate(570.70,306.40) scale(1.170,1)" font-size="17.50" text-anchor="middle">1.35</text>
<line x1="635.60" y1="279.60" x2="635.60" y2="285.10" stroke="#000" stroke-width="1.20"/>
<line x1="635.60" y1="86.30" x2="635.60" y2="91.80" stroke="#000" stroke-width="1.20"/>
<text transform="translate(635.60,306.40) scale(1.170,1)" font-size="17.50" text-anchor="middle">1.4</text>
<line x1="565.00" y1="279.60" x2="570.50" y2="279.60" stroke="#000" stroke-width="1.20"/>
<line x1="658.00" y1="279.60" x2="663.50" y2="279.60" stroke="#000" stroke-width="1.20"/>
<text transform="translate(558.00,285.80) scale(1.170,1)" font-size="17.50" text-anchor="end">0.0</text>
<line x1="565.00" y1="222.60" x2="570.50" y2="222.60" stroke="#000" stroke-width="1.20"/>
<line x1="658.00" y1="222.60" x2="663.50" y2="222.60" stroke="#000" stroke-width="1.20"/>
<text transform="translate(558.00,228.80) scale(1.170,1)" font-size="17.50" text-anchor="end">0.5</text>
<line x1="565.00" y1="165.60" x2="570.50" y2="165.60" stroke="#000" stroke-width="1.20"/>
<line x1="658.00" y1="165.60" x2="663.50" y2="165.60" stroke="#000" stroke-width="1.20"/>
<text transform="translate(558.00,171.80) scale(1.170,1)" font-size="17.50" text-anchor="end">1.0</text>
<line x1="565.00" y1="108.60" x2="570.50" y2="108.60" stroke="#000" stroke-width="1.20"/>
<line x1="658.00" y1="108.60" x2="663.50" y2="108.60" stroke="#000" stroke-width="1.20"/>
<text transform="translate(558.00,114.80) scale(1.170,1)" font-size="17.50" text-anchor="end">1.5</text>
<text transform="translate(617.50,336.50) scale(0.980,1)" font-size="19.50" text-anchor="middle"><tspan font-style="italic">V</tspan><tspan font-size="14.0" dy="4">g</tspan><tspan dy="-4"> (V)</tspan></text>
<text transform="translate(515.00,180.00) scale(0.980,1) rotate(-90)" font-size="19.50" text-anchor="middle"><tspan font-style="italic">B</tspan><tspan font-size="14.0" dy="4" font-style="italic">y</tspan><tspan dy="-4"> (T)</tspan></text>
<defs><linearGradient id="cbb" x1="0" y1="0" x2="1" y2="0"><stop offset="0.000" stop-color="#440154"/><stop offset="0.062" stop-color="#48186a"/><stop offset="0.125" stop-color="#472d7b"/><stop offset="0.188" stop-color="#424086"/><stop offset="0.250" stop-color="#3b528b"/><stop offset="0.312" stop-color="#33638d"/><stop offset="0.375" stop-color="#2c728e"/><stop offset="0.438" stop-color="#26828e"/><stop offset="0.500" stop-color="#21918c"/><stop offset="0.562" stop-color="#1fa088"/><stop offset="0.625" stop-color="#28ae80"/><stop offset="0.688" stop-color="#3fbc73"/><stop offset="0.750" stop-color="#5ec962"/><stop offset="0.812" stop-color="#84d44b"/><stop offset="0.875" stop-color="#addc30"/><stop offset="0.938" stop-color="#d8e219"/><stop offset="1.000" stop-color="#fde725"/></linearGradient></defs>
<rect x="569.80" y="60.00" width="91.20" height="13.30" fill="url(#cbb)" stroke="#000" stroke-width="1.50"/>
<line x1="581.00" y1="54.50" x2="581.00" y2="60.00" stroke="#000" stroke-width="1.20"/>
<text transform="translate(581.00,45.20) scale(1.170,1)" font-size="17.50" text-anchor="middle">0.5</text>
<line x1="640.00" y1="54.50" x2="640.00" y2="60.00" stroke="#000" stroke-width="1.20"/>
<text transform="translate(640.00,45.20) scale(1.170,1)" font-size="17.50" text-anchor="middle">1.0</text>
<clipPath id="clipc"><rect x="91.40" y="400.40" width="231.60" height="221.40"/></clipPath>
<g clip-path="url(#clipc)">
<path d="M91.50,555.00L93.28,556.71L94.98,558.49L96.60,560.35L98.16,562.27L99.67,564.23L101.15,566.21L102.61,568.22L104.06,570.22L105.52,572.21L106.99,574.17L108.50,576.09L110.06,577.96L111.67,579.78L113.33,581.55L115.04,583.29L116.80,585.01L118.60,586.71L120.44,588.40L122.32,590.10L124.25,591.80L126.22,593.48L128.26,595.05L130.36,596.44L132.55,597.58L134.82,598.40L137.21,598.82L139.68,598.79L142.14,598.34L144.47,597.49L146.61,596.28L148.55,594.78L150.32,593.02L151.94,591.08L153.43,589.01L154.81,586.86L156.09,584.68L157.29,582.47L158.41,580.24L159.46,578.00L160.45,575.73L161.38,573.44L162.26,571.15L163.10,568.84L163.91,566.52L164.69,564.19L165.46,561.86L166.22,559.52L166.97,557.19L167.72,554.85L168.49,552.52L169.28,550.19L170.09,547.87L170.91,545.55L171.75,543.23L172.59,540.92L173.45,538.61L174.31,536.30L175.18,533.99L176.05,531.68L176.92,529.37L177.78,527.06L178.64,524.75L179.49,522.43L180.33,520.11L181.16,517.78L181.97,515.45L182.76,513.12L183.54,510.77L184.30,508.43L185.05,506.08L185.79,503.73L186.53,501.37L187.28,499.02L188.02,496.67L188.78,494.33L189.55,491.99L190.34,489.65L191.16,487.33L192.00,485.01L192.87,482.71L193.77,480.41L194.71,478.14L195.69,475.87L196.71,473.63L197.78,471.41L198.90,469.21L200.06,467.03L201.28,464.88L202.56,462.75L203.89,460.66L205.27,458.60L206.71,456.57L208.20,454.57L209.73,452.61L211.29,450.69L212.87,448.80L214.48,446.94L216.11,445.12L217.74,443.35L219.39,441.61L221.08,439.91L222.85,438.26L224.73,436.65L226.76,435.10L228.98,433.60L231.35,432.26L233.76,431.35L236.09,431.14L238.21,431.89L240.07,433.50L241.67,435.63L242.99,437.94L244.05,440.28L244.88,442.65L245.53,445.04L246.02,447.46L246.38,449.88L246.65,452.33L246.87,454.77L247.06,457.23L247.26,459.68L247.51,462.13L247.81,464.57L248.17,467.00L248.58,469.43L249.02,471.86L249.49,474.28L249.99,476.69L250.51,479.11L251.04,481.52L251.57,483.93L252.11,486.35L252.63,488.76L253.13,491.17L253.62,493.59L254.10,496.00L254.56,498.42L255.02,500.84L255.46,503.26L255.89,505.68L256.32,508.10L256.74,510.53L257.16,512.95L257.58,515.38L257.99,517.81L258.41,520.25L258.83,522.68L259.26,525.12L259.69,527.56L260.13,530.00L260.58,532.44L261.03,534.89L261.49,537.33L261.96,539.77L262.44,542.21L262.92,544.64L263.40,547.06L263.89,549.48L264.39,551.89L264.89,554.30L265.40,556.69L265.91,559.07L266.42,561.44L266.94,563.79L267.47,566.13L268.01,568.47L268.57,570.80L269.17,573.13L269.80,575.48L270.48,577.84L271.21,580.22L272.01,582.62L272.88,585.05L273.82,587.51L274.86,590.00L276.01,592.44L277.29,594.75L278.73,596.86L280.36,598.70L282.19,600.17L284.26,601.22L286.56,601.79L289.03,601.94L291.58,601.76L294.12,601.33L296.58,600.73L298.95,600.02L301.26,599.22L303.55,598.35L305.84,597.45L308.14,596.52L310.42,595.52L312.64,594.43L314.76,593.20L316.75,591.79L318.55,590.18L320.13,588.31L321.47,586.17L322.50,583.70" fill="none" stroke="#000" stroke-width="1.70" stroke-linejoin="round"/>
<path d="M105.50,559.20L106.96,557.79L108.41,556.37L109.86,554.92L111.31,553.46L112.76,551.99L114.21,550.52L115.66,549.03L117.11,547.55L118.58,546.07L120.05,544.60L121.53,543.13L123.02,541.68L124.53,540.24L126.05,538.82L127.59,537.43L129.15,536.06L130.74,534.72L132.34,533.42L133.97,532.15L135.62,530.92L137.31,529.73L139.02,528.59L140.77,527.50L142.54,526.46L144.35,525.47L146.18,524.51L148.03,523.59L149.89,522.69L151.77,521.81L153.65,520.94L155.53,520.08L157.41,519.22L159.28,518.35L161.14,517.47L162.99,516.58L164.84,515.68L166.68,514.76L168.52,513.83L170.36,512.89L172.19,511.93L174.03,510.95L175.86,509.96L177.70,508.94L179.51,507.89L181.28,506.79L182.99,505.63L184.62,504.39L186.15,503.05L187.56,501.62L188.87,500.08L190.08,498.45L191.20,496.74L192.25,494.96L193.23,493.12L194.16,491.22L195.04,489.28L195.89,487.30L196.72,485.30L197.54,483.28L198.37,481.26L199.23,479.27L200.13,477.33L201.10,475.45L202.14,473.66L203.29,471.98L204.56,470.42L205.97,469.02L207.53,467.79L209.26,466.73L211.11,465.85L213.07,465.10L215.09,464.49L217.16,463.99L219.25,463.59L221.33,463.25L223.40,462.93L225.44,462.61L227.46,462.24L229.44,461.79L231.38,461.21L233.25,460.49L235.10,459.65L236.93,458.75L238.78,457.84L240.68,456.97L242.65,456.20L244.71,455.58L246.86,455.18L249.00,455.06L251.05,455.28L252.92,455.90L254.56,456.97L255.99,458.40L257.25,460.11L258.37,461.99L259.39,463.97L260.35,465.94L261.26,467.89L262.12,469.82L262.94,471.74L263.72,473.64L264.45,475.54L265.15,477.43L265.81,479.33L266.43,481.24L267.02,483.17L267.58,485.11L268.11,487.07L268.61,489.04L269.09,491.03L269.54,493.03L269.98,495.04L270.41,497.07L270.83,499.10L271.23,501.13L271.64,503.18L272.04,505.23L272.44,507.28L272.84,509.33L273.25,511.39L273.67,513.45L274.10,515.51L274.54,517.56L274.99,519.61L275.45,521.66L275.92,523.71L276.40,525.75L276.87,527.79L277.35,529.83L277.83,531.85L278.31,533.88L278.79,535.89L279.27,537.90L279.74,539.90L280.21,541.90L280.67,543.88L281.12,545.86L281.56,547.82L281.98,549.78L282.40,551.72L282.80,553.66L283.20,555.58L283.62,557.51L284.07,559.43L284.56,561.35L285.13,563.29L285.78,565.24L286.52,567.21L287.39,569.20L288.39,571.22L289.54,573.27L290.85,575.32L292.29,577.22L293.79,578.79L295.34,579.85L296.86,580.22L298.35,579.81L299.77,578.74L301.14,577.14L302.44,575.15L303.66,572.91L304.81,570.56L305.86,568.21L306.83,565.93L307.72,563.71L308.53,561.54L309.27,559.43L309.94,557.37L310.55,555.35L311.10,553.38L311.60,551.44L312.05,549.53L312.45,547.65L312.81,545.80L313.14,543.97L313.43,542.15L313.70,540.35L313.95,538.56L314.18,536.77L314.40,534.99L314.62,533.20L314.83,531.41L315.04,529.60L315.26,527.78L315.49,525.95L315.74,524.09L316.00,522.20L316.29,520.29L316.62,518.34L316.97,516.35L317.37,514.32L317.81,512.25L318.30,510.12L318.84,507.94L319.43,505.71L320.10,503.41L320.82,501.04L321.62,498.61L322.50,496.10" fill="none" stroke="#000" stroke-width="1.70" stroke-linejoin="round" stroke-dasharray="8,6"/>
<path d="M91.50,502.50L93.27,501.89L95.03,501.60L96.76,501.60L98.47,501.85L100.16,502.32L101.84,502.98L103.50,503.78L105.14,504.69L106.77,505.67L108.39,506.70L109.99,507.72L111.59,508.71L113.17,509.63L114.74,510.45L116.31,511.12L117.87,511.62L119.42,511.90L120.96,511.93L122.51,511.68L124.04,511.17L125.55,510.42L127.02,509.47L128.46,508.36L129.84,507.13L131.17,505.80L132.42,504.40L133.59,502.99L134.68,501.57L135.69,500.16L136.64,498.75L137.56,497.33L138.44,495.91L139.32,494.49L140.21,493.05L141.11,491.60L142.05,490.13L143.05,488.65L144.11,487.14L145.26,485.62L146.48,484.13L147.76,482.70L149.11,481.38L150.51,480.21L151.96,479.23L153.45,478.50L154.98,478.04L156.53,477.90L158.10,478.11L159.67,478.62L161.22,479.38L162.75,480.36L164.24,481.49L165.68,482.73L167.04,484.03L168.32,485.37L169.52,486.72L170.66,488.08L171.75,489.46L172.80,490.84L173.81,492.22L174.80,493.61L175.77,494.99L176.73,496.36L177.71,497.72L178.69,499.06L179.70,500.38L180.74,501.68L181.80,502.97L182.89,504.25L184.00,505.53L185.14,506.80L186.30,508.08L187.49,509.37L188.69,510.67L189.92,512.00L191.16,513.34L192.43,514.71L193.71,516.08L195.03,517.41L196.37,518.66L197.76,519.80L199.18,520.78L200.66,521.57L202.19,522.13L203.77,522.42L205.41,522.42L207.09,522.16L208.78,521.67L210.45,520.99L212.08,520.15L213.65,519.20L215.13,518.16L216.52,517.06L217.83,515.89L219.07,514.67L220.25,513.40L221.38,512.10L222.47,510.76L223.53,509.40L224.56,508.02L225.58,506.63L226.60,505.24L227.63,503.86L228.67,502.48L229.74,501.12L230.81,499.78L231.91,498.44L233.01,497.11L234.11,495.78L235.22,494.45L236.33,493.12L237.42,491.78L238.51,490.44L239.59,489.08L240.64,487.71L241.68,486.32L242.68,484.92L243.67,483.49L244.62,482.04L245.56,480.58L246.47,479.10L247.36,477.61L248.23,476.11L249.09,474.60L249.93,473.08L250.76,471.55L251.58,470.02L252.38,468.49L253.18,466.96L253.97,465.43L254.76,463.90L255.54,462.38L256.32,460.86L257.10,459.35L257.89,457.86L258.69,456.37L259.50,454.89L260.34,453.41L261.20,451.95L262.09,450.50L263.01,449.06L263.97,447.64L264.98,446.22L266.04,444.81L267.15,443.42L268.33,442.04L269.56,440.67L270.87,439.32L272.24,438.00L273.67,436.78L275.15,435.69L276.67,434.79L278.22,434.13L279.79,433.76L281.37,433.73L282.94,434.04L284.50,434.65L286.04,435.51L287.53,436.57L288.97,437.78L290.34,439.09L291.62,440.46L292.82,441.86L293.93,443.27L294.97,444.70L295.94,446.15L296.85,447.62L297.70,449.11L298.50,450.62L299.26,452.13L299.99,453.67L300.68,455.22L301.36,456.78L302.01,458.36L302.66,459.94L303.30,461.54L303.94,463.14L304.57,464.75L305.21,466.36L305.85,467.97L306.50,469.58L307.15,471.19L307.82,472.79L308.50,474.38L309.20,475.97L309.93,477.55L310.67,479.11L311.44,480.66L312.25,482.19L313.08,483.70L313.95,485.19L314.86,486.65L315.80,488.09L316.79,489.51L317.83,490.89L318.92,492.25L320.06,493.57L321.25,494.85L322.50,496.10" fill="none" stroke="#000" stroke-width="1.75" stroke-linejoin="round" stroke-dasharray="1.75,4.1"/>
</g>
<rect x="91.40" y="400.40" width="231.60" height="221.40" fill="none" stroke="#000" stroke-width="1.50"/>
<line x1="112.90" y1="400.40" x2="112.90" y2="405.90" stroke="#000" stroke-width="1.20"/>
<line x1="196.60" y1="400.40" x2="196.60" y2="405.90" stroke="#000" stroke-width="1.20"/>
<line x1="280.60" y1="400.40" x2="280.60" y2="405.90" stroke="#000" stroke-width="1.20"/>
<line x1="85.90" y1="432.00" x2="91.40" y2="432.00" stroke="#000" stroke-width="1.20"/>
<line x1="317.50" y1="432.00" x2="323.00" y2="432.00" stroke="#000" stroke-width="1.20"/>
<text transform="translate(78.90,438.20) scale(1.170,1)" font-size="17.50" text-anchor="end">0.4</text>
<line x1="85.90" y1="495.30" x2="91.40" y2="495.30" stroke="#000" stroke-width="1.20"/>
<line x1="317.50" y1="495.30" x2="323.00" y2="495.30" stroke="#000" stroke-width="1.20"/>
<text transform="translate(78.90,501.50) scale(1.170,1)" font-size="17.50" text-anchor="end">0.3</text>
<line x1="85.90" y1="558.60" x2="91.40" y2="558.60" stroke="#000" stroke-width="1.20"/>
<line x1="317.50" y1="558.60" x2="323.00" y2="558.60" stroke="#000" stroke-width="1.20"/>
<text transform="translate(78.90,564.80) scale(1.170,1)" font-size="17.50" text-anchor="end">0.2</text>
<text transform="translate(33.6,510.0) scale(0.980,1) rotate(-90)" font-size="20.5" text-anchor="middle"><tspan font-style="italic">G</tspan> (<tspan font-style="italic">e</tspan><tspan font-size="12" dy="-7">2</tspan><tspan dy="7">/</tspan><tspan font-style="italic">h</tspan>)</text>
<text transform="translate(97.5,427.6) scale(1.100,1)" font-size="18.50"><tspan font-style="italic">B</tspan><tspan font-style="italic" font-size="14" dy="6">z</tspan><tspan dy="-6"> = 350 mT</tspan></text>
<line x1="174.90" y1="559.90" x2="196.60" y2="559.90" stroke="#000" stroke-width="1.70"/>
<text transform="translate(203.6,565.5) scale(1.060,1)" font-size="16.00"><tspan font-style="italic">B</tspan><tspan font-style="italic" font-size="12.5" dy="5">y</tspan><tspan dy="-5">= 0 T</tspan></text>
<line x1="174.90" y1="580.90" x2="196.60" y2="580.90" stroke="#000" stroke-width="1.70" stroke-dasharray="7.3,6.6"/>
<text transform="translate(202.50,587.00) scale(1.060,1)" font-size="16.00" text-anchor="start">0.7 T</text>
<line x1="174.90" y1="603.00" x2="196.60" y2="603.00" stroke="#000" stroke-width="1.75" stroke-dasharray="1.75,4.1"/>
<text transform="translate(203.00,609.00) scale(1.060,1)" font-size="16.00" text-anchor="start">1.4 T</text>
<clipPath id="clipd"><rect x="438.00" y="400.30" width="231.50" height="221.40"/></clipPath>
<g clip-path="url(#clipd)">
<path d="M438.50,584.80L440.57,584.90L442.73,584.75L444.96,584.42L447.24,584.01L449.53,583.61L451.82,583.32L454.08,583.21L456.29,583.39L458.42,583.93L460.46,584.93L462.41,586.16L464.35,587.09L466.31,587.22L468.32,586.56L470.33,585.38L472.32,583.91L474.29,582.41L476.20,581.01L478.07,579.70L479.90,578.46L481.70,577.26L483.48,576.07L485.24,574.88L486.98,573.65L488.72,572.36L490.45,571.01L492.15,569.59L493.82,568.11L495.44,566.56L497.00,564.95L498.50,563.28L499.91,561.54L501.23,559.75L502.44,557.89L503.55,555.98L504.57,554.02L505.51,552.02L506.38,549.98L507.18,547.91L507.93,545.81L508.63,543.69L509.30,541.56L509.94,539.42L510.57,537.27L511.19,535.13L511.80,532.99L512.41,530.86L513.02,528.72L513.64,526.59L514.27,524.47L514.91,522.35L515.56,520.24L516.24,518.14L516.93,516.05L517.66,513.97L518.41,511.90L519.20,509.84L520.03,507.79L520.88,505.75L521.76,503.71L522.66,501.69L523.56,499.67L524.47,497.64L525.38,495.62L526.28,493.60L527.17,491.57L528.03,489.53L528.87,487.48L529.67,485.42L530.43,483.35L531.16,481.27L531.86,479.17L532.54,477.07L533.20,474.96L533.85,472.85L534.50,470.74L535.14,468.62L535.79,466.50L536.46,464.39L537.13,462.28L537.84,460.17L538.57,458.08L539.33,455.99L540.14,453.91L540.98,451.85L541.87,449.80L542.80,447.76L543.76,445.74L544.75,443.74L545.76,441.76L546.79,439.80L547.85,437.86L548.91,435.95L549.99,434.06L551.07,432.19L552.17,430.35L553.30,428.54L554.49,426.75L555.76,424.99L557.13,423.24L558.63,421.51L560.27,419.80L562.08,418.11L564.02,416.63L565.99,415.67L567.92,415.58L569.72,416.48L571.39,418.08L572.91,420.08L574.28,422.17L575.50,424.23L576.59,426.27L577.57,428.29L578.46,430.29L579.28,432.28L580.06,434.27L580.80,436.25L581.54,438.24L582.29,440.23L583.06,442.23L583.86,444.25L584.68,446.27L585.53,448.31L586.39,450.34L587.27,452.39L588.16,454.43L589.06,456.48L589.97,458.53L590.89,460.58L591.81,462.62L592.73,464.66L593.65,466.70L594.56,468.73L595.48,470.76L596.38,472.79L597.28,474.82L598.16,476.85L599.04,478.88L599.90,480.91L600.75,482.94L601.58,484.98L602.40,487.03L603.19,489.08L603.97,491.14L604.72,493.20L605.46,495.27L606.18,497.35L606.89,499.44L607.59,501.53L608.28,503.63L608.96,505.73L609.63,507.84L610.31,509.95L610.98,512.07L611.65,514.19L612.33,516.31L613.01,518.44L613.69,520.57L614.39,522.71L615.10,524.84L615.82,526.97L616.58,529.09L617.36,531.18L618.18,533.26L619.03,535.32L619.93,537.34L620.88,539.33L621.89,541.27L622.96,543.17L624.09,545.03L625.29,546.82L626.55,548.58L627.86,550.32L629.20,552.04L630.57,553.78L631.95,555.54L633.33,557.34L634.70,559.20L636.05,561.11L637.41,563.02L638.83,564.86L640.34,566.53L641.98,567.98L643.79,569.12L645.81,569.87L648.01,570.20L650.28,570.11L652.47,569.62L654.48,568.74L656.32,567.54L658.02,566.08L659.59,564.42L661.07,562.61L662.47,560.73L663.83,558.82L665.17,556.95L666.51,555.19L667.88,553.58L669.30,552.20" fill="none" stroke="#000" stroke-width="1.70" stroke-linejoin="round"/>
<path d="M438.50,582.00L440.21,581.79L441.92,581.55L443.62,581.29L445.31,580.99L446.99,580.66L448.66,580.31L450.33,579.93L451.99,579.51L453.64,579.08L455.28,578.61L456.92,578.12L458.54,577.61L460.16,577.06L461.78,576.50L463.38,575.91L464.98,575.29L466.58,574.66L468.16,574.00L469.74,573.31L471.31,572.61L472.88,571.88L474.43,571.13L475.96,570.35L477.49,569.54L478.99,568.70L480.46,567.82L481.92,566.91L483.34,565.96L484.73,564.97L486.09,563.93L487.42,562.85L488.70,561.73L489.95,560.56L491.16,559.35L492.33,558.10L493.47,556.82L494.57,555.50L495.64,554.15L496.67,552.77L497.68,551.36L498.65,549.94L499.59,548.49L500.51,547.03L501.40,545.55L502.26,544.06L503.09,542.56L503.91,541.04L504.70,539.53L505.48,538.00L506.24,536.47L507.00,534.93L507.74,533.39L508.47,531.84L509.19,530.29L509.92,528.75L510.64,527.20L511.37,525.65L512.10,524.11L512.83,522.57L513.57,521.03L514.32,519.49L515.07,517.96L515.83,516.43L516.59,514.90L517.36,513.37L518.13,511.84L518.91,510.31L519.68,508.79L520.46,507.26L521.25,505.73L522.03,504.20L522.82,502.68L523.61,501.15L524.40,499.62L525.21,498.10L526.03,496.59L526.86,495.09L527.72,493.60L528.60,492.13L529.50,490.68L530.44,489.25L531.41,487.85L532.42,486.47L533.48,485.13L534.57,483.82L535.71,482.54L536.88,481.29L538.08,480.07L539.32,478.88L540.58,477.72L541.87,476.57L543.17,475.46L544.50,474.36L545.84,473.29L547.21,472.25L548.60,471.25L550.01,470.29L551.46,469.37L552.94,468.51L554.46,467.70L556.02,466.96L557.62,466.29L559.27,465.69L560.95,465.19L562.65,464.81L564.36,464.56L566.07,464.47L567.76,464.56L569.43,464.84L571.07,465.31L572.67,465.94L574.23,466.72L575.73,467.62L577.18,468.61L578.57,469.69L579.89,470.83L581.14,472.01L582.34,473.24L583.49,474.51L584.59,475.82L585.66,477.16L586.69,478.53L587.69,479.92L588.67,481.32L589.63,482.74L590.59,484.17L591.53,485.61L592.45,487.06L593.36,488.51L594.26,489.98L595.14,491.45L596.01,492.92L596.86,494.41L597.70,495.90L598.52,497.39L599.33,498.89L600.11,500.39L600.88,501.90L601.64,503.42L602.38,504.94L603.10,506.46L603.81,508.00L604.50,509.55L605.18,511.10L605.85,512.67L606.50,514.25L607.14,515.84L607.77,517.44L608.39,519.06L608.99,520.70L609.59,522.35L610.17,524.02L610.75,525.71L611.32,527.41L611.90,529.11L612.49,530.80L613.11,532.47L613.75,534.12L614.43,535.74L615.16,537.32L615.94,538.84L616.78,540.31L617.69,541.71L618.68,543.03L619.75,544.26L620.92,545.40L622.18,546.44L623.53,547.40L624.96,548.29L626.45,549.12L628.00,549.90L629.59,550.66L631.21,551.40L632.86,552.14L634.51,552.88L636.18,553.60L637.84,554.27L639.50,554.86L641.15,555.32L642.78,555.62L644.40,555.73L645.99,555.61L647.56,555.27L649.10,554.71L650.61,553.97L652.10,553.08L653.57,552.05L655.01,550.91L656.42,549.69L657.82,548.40L659.18,547.08L660.53,545.75L661.85,544.44L663.15,543.16L664.42,541.94L665.68,540.81L666.91,539.80L668.11,538.92L669.30,538.20" fill="none" stroke="#000" stroke-width="1.70" stroke-linejoin="round" stroke-dasharray="8,6"/>
<path d="M438.50,538.00L439.04,536.57L439.59,535.15L440.17,533.76L440.76,532.38L441.37,531.02L442.00,529.68L442.65,528.36L443.32,527.06L444.01,525.78L444.73,524.52L445.46,523.28L446.21,522.05L446.99,520.85L447.79,519.66L448.61,518.50L449.45,517.36L450.31,516.23L451.20,515.13L452.12,514.04L453.05,512.98L454.01,511.93L455.00,510.91L456.01,509.91L457.04,508.93L458.10,507.96L459.19,507.02L460.30,506.10L461.44,505.21L462.60,504.33L463.79,503.47L465.01,502.64L466.26,501.82L467.53,501.03L468.83,500.26L470.16,499.51L471.52,498.79L472.90,498.10L474.30,497.45L475.72,496.87L477.14,496.35L478.56,495.92L479.99,495.57L481.41,495.34L482.82,495.21L484.21,495.22L485.58,495.36L486.93,495.66L488.25,496.09L489.55,496.65L490.82,497.32L492.06,498.09L493.28,498.94L494.47,499.87L495.64,500.85L496.79,501.87L497.91,502.91L499.00,503.98L500.08,505.04L501.15,506.09L502.21,507.11L503.29,508.11L504.38,509.05L505.49,509.94L506.64,510.75L507.83,511.49L509.06,512.12L510.35,512.67L511.69,513.13L513.06,513.52L514.46,513.85L515.89,514.15L517.34,514.42L518.81,514.68L520.27,514.94L521.74,515.22L523.20,515.53L524.65,515.88L526.09,516.25L527.52,516.63L528.94,517.01L530.36,517.39L531.77,517.75L533.18,518.08L534.59,518.37L536.00,518.60L537.41,518.78L538.82,518.88L540.24,518.90L541.66,518.83L543.08,518.68L544.51,518.48L545.94,518.24L547.38,517.98L548.82,517.72L550.26,517.47L551.71,517.26L553.16,517.09L554.62,517.00L556.07,516.99L557.53,517.09L559.00,517.31L560.46,517.62L561.92,518.01L563.38,518.45L564.83,518.91L566.27,519.37L567.70,519.81L569.12,520.19L570.52,520.49L571.91,520.69L573.28,520.77L574.63,520.69L575.95,520.43L577.25,520.00L578.53,519.40L579.78,518.68L580.99,517.84L582.18,516.90L583.34,515.90L584.46,514.84L585.55,513.75L586.61,512.65L587.63,511.54L588.63,510.43L589.59,509.32L590.53,508.19L591.45,507.07L592.35,505.94L593.23,504.80L594.10,503.67L594.96,502.53L595.81,501.38L596.66,500.24L597.50,499.09L598.34,497.94L599.19,496.79L600.04,495.64L600.90,494.49L601.76,493.34L602.63,492.19L603.51,491.05L604.40,489.90L605.29,488.76L606.19,487.62L607.09,486.48L608.01,485.35L608.93,484.22L609.86,483.10L610.79,481.98L611.73,480.87L612.68,479.77L613.63,478.67L614.60,477.59L615.57,476.51L616.55,475.45L617.55,474.40L618.57,473.38L619.62,472.38L620.68,471.40L621.78,470.45L622.91,469.54L624.07,468.65L625.27,467.81L626.51,467.01L627.79,466.25L629.12,465.54L630.49,464.88L631.89,464.29L633.31,463.78L634.74,463.35L636.18,463.02L637.62,462.79L639.05,462.67L640.47,462.68L641.85,462.82L643.21,463.10L644.54,463.51L645.83,464.03L647.10,464.67L648.35,465.40L649.57,466.22L650.77,467.12L651.94,468.08L653.10,469.10L654.24,470.17L655.37,471.27L656.48,472.39L657.58,473.53L658.66,474.67L659.74,475.81L660.81,476.93L661.88,478.02L662.94,479.07L663.99,480.08L665.05,481.02L666.11,481.90L667.17,482.69L668.23,483.40L669.30,484.00" fill="none" stroke="#000" stroke-width="1.75" stroke-linejoin="round" stroke-dasharray="1.75,4.1"/>
</g>
<rect x="438.00" y="400.30" width="231.50" height="221.40" fill="none" stroke="#000" stroke-width="1.50"/>
<line x1="468.30" y1="400.30" x2="468.30" y2="405.80" stroke="#000" stroke-width="1.20"/>
<line x1="553.40" y1="400.30" x2="553.40" y2="405.80" stroke="#000" stroke-width="1.20"/>
<line x1="636.50" y1="400.30" x2="636.50" y2="405.80" stroke="#000" stroke-width="1.20"/>
<line x1="432.50" y1="427.50" x2="438.00" y2="427.50" stroke="#000" stroke-width="1.20"/>
<line x1="664.00" y1="427.50" x2="669.50" y2="427.50" stroke="#000" stroke-width="1.20"/>
<text transform="translate(425.50,433.70) scale(1.170,1)" font-size="17.50" text-anchor="end">1.0</text>
<line x1="432.50" y1="566.30" x2="438.00" y2="566.30" stroke="#000" stroke-width="1.20"/>
<line x1="664.00" y1="566.30" x2="669.50" y2="566.30" stroke="#000" stroke-width="1.20"/>
<text transform="translate(425.50,572.50) scale(1.170,1)" font-size="17.50" text-anchor="end">0.5</text>
<text transform="translate(383.6,510.5) scale(0.980,1) rotate(-90)" font-size="20.5" text-anchor="middle"><tspan font-style="italic">G</tspan> (<tspan font-style="italic">e</tspan><tspan font-size="12" dy="-7">2</tspan><tspan dy="7">/h)</tspan></text>
<text transform="translate(591.3,427.8) scale(1.000,1)" font-size="19.00"><tspan font-style="italic">B</tspan><tspan font-style="italic" font-size="14" dy="6">z</tspan><tspan dy="-6"> = 0 T</tspan></text>
<clipPath id="clipe"><rect x="91.40" y="621.80" width="231.60" height="230.90"/></clipPath>
<g clip-path="url(#clipe)">
<path d="M91.40,673.00L93.35,673.00L95.29,673.00L97.24,673.00L99.18,673.00L101.13,673.00L103.08,673.00L105.02,673.00L106.97,673.00L108.92,673.00L110.86,673.00L112.81,673.00L114.75,673.00L116.70,673.00L118.65,673.00L120.59,673.00L122.54,673.00L124.49,673.00L126.43,673.00L128.38,673.00L130.32,673.00L132.27,673.00L134.22,673.00L136.16,673.00L138.11,673.00L140.06,673.00L142.00,672.99L143.95,672.98L145.89,672.97L147.84,672.95L149.79,672.93L151.73,672.91L153.68,672.89L155.63,672.86L157.57,672.84L159.52,672.80L161.46,672.77L163.41,672.74L165.36,672.70L167.30,672.66L169.25,672.62L171.19,672.58L173.14,672.53L175.09,672.48L177.03,672.44L178.98,672.39L180.93,672.34L182.87,672.29L184.82,672.23L186.76,672.18L188.71,672.13L190.66,672.07L192.60,672.02L194.55,671.96L196.50,671.90L198.44,671.85L200.39,671.79L202.33,671.73L204.28,671.68L206.23,671.62L208.17,671.56L210.12,671.50L212.07,671.45L214.01,671.39L215.96,671.34L217.90,671.28L219.85,671.23L221.80,671.17L223.74,671.11L225.69,671.05L227.64,670.98L229.58,670.91L231.53,670.83L233.47,670.76L235.42,670.67L237.37,670.59L239.31,670.50L241.26,670.41L243.21,670.32L245.15,670.23L247.10,670.14L249.04,670.04L250.99,669.95L252.94,669.85L254.88,669.76L256.83,669.67L258.77,669.57L260.72,669.48L262.67,669.40L264.61,669.31L266.56,669.22L268.51,669.14L270.45,669.06L272.40,668.99L274.34,668.92L276.29,668.85L278.24,668.79L280.18,668.73L282.13,668.68L284.08,668.63L286.02,668.59L287.97,668.56L289.91,668.53L291.86,668.51L293.81,668.50L295.75,668.49L297.70,668.48L299.65,668.47L301.59,668.46L303.54,668.45L305.48,668.44L307.43,668.43L309.38,668.43L311.32,668.42L313.27,668.41L315.22,668.41L317.16,668.41L319.11,668.40L321.05,668.40L323.00,668.40" fill="none" stroke="#a8db34" stroke-width="1.25" stroke-linejoin="round"/>
<path d="M91.40,680.40L93.35,680.40L95.29,680.40L97.24,680.39L99.18,680.39L101.13,680.38L103.08,680.37L105.02,680.36L106.97,680.34L108.92,680.33L110.86,680.31L112.81,680.30L114.75,680.28L116.70,680.26L118.65,680.24L120.59,680.22L122.54,680.20L124.49,680.17L126.43,680.15L128.38,680.12L130.32,680.10L132.27,680.07L134.22,680.04L136.16,680.02L138.11,679.99L140.06,679.95L142.00,679.90L143.95,679.84L145.89,679.77L147.84,679.69L149.79,679.60L151.73,679.51L153.68,679.40L155.63,679.29L157.57,679.17L159.52,679.05L161.46,678.91L163.41,678.78L165.36,678.63L167.30,678.48L169.25,678.33L171.19,678.17L173.14,678.01L175.09,677.85L177.03,677.68L178.98,677.52L180.93,677.34L182.87,677.17L184.82,677.00L186.76,676.83L188.71,676.65L190.66,676.48L192.60,676.31L194.55,676.14L196.50,675.97L198.44,675.80L200.39,675.64L202.33,675.48L204.28,675.32L206.23,675.17L208.17,675.02L210.12,674.88L212.07,674.74L214.01,674.61L215.96,674.48L217.90,674.36L219.85,674.25L221.80,674.15L223.74,674.04L225.69,673.94L227.64,673.84L229.58,673.74L231.53,673.64L233.47,673.54L235.42,673.45L237.37,673.35L239.31,673.26L241.26,673.16L243.21,673.07L245.15,672.98L247.10,672.89L249.04,672.80L250.99,672.71L252.94,672.62L254.88,672.53L256.83,672.45L258.77,672.36L260.72,672.28L262.67,672.19L264.61,672.11L266.56,672.03L268.51,671.95L270.45,671.87L272.40,671.79L274.34,671.72L276.29,671.64L278.24,671.56L280.18,671.49L282.13,671.41L284.08,671.34L286.02,671.27L287.97,671.20L289.91,671.13L291.86,671.06L293.81,670.99L295.75,670.92L297.70,670.86L299.65,670.79L301.59,670.73L303.54,670.66L305.48,670.60L307.43,670.54L309.38,670.48L311.32,670.43L313.27,670.37L315.22,670.31L317.16,670.26L319.11,670.21L321.05,670.15L323.00,670.10" fill="none" stroke="#89d548" stroke-width="1.25" stroke-linejoin="round"/>
<path d="M91.40,686.60L93.35,686.60L95.29,686.59L97.24,686.59L99.18,686.58L101.13,686.57L103.08,686.55L105.02,686.53L106.97,686.51L108.92,686.49L110.86,686.47L112.81,686.44L114.75,686.42L116.70,686.39L118.65,686.36L120.59,686.33L122.54,686.29L124.49,686.26L126.43,686.22L128.38,686.18L130.32,686.14L132.27,686.11L134.22,686.07L136.16,686.02L138.11,685.98L140.06,685.92L142.00,685.85L143.95,685.76L145.89,685.65L147.84,685.53L149.79,685.40L151.73,685.25L153.68,685.09L155.63,684.92L157.57,684.74L159.52,684.55L161.46,684.35L163.41,684.15L165.36,683.93L167.30,683.71L169.25,683.48L171.19,683.25L173.14,683.02L175.09,682.78L177.03,682.54L178.98,682.29L180.93,682.05L182.87,681.80L184.82,681.56L186.76,681.31L188.71,681.07L190.66,680.83L192.60,680.60L194.55,680.37L196.50,680.15L198.44,679.93L200.39,679.71L202.33,679.51L204.28,679.31L206.23,679.13L208.17,678.95L210.12,678.78L212.07,678.63L214.01,678.49L215.96,678.36L217.90,678.24L219.85,678.14L221.80,678.06L223.74,677.98L225.69,677.90L227.64,677.82L229.58,677.75L231.53,677.69L233.47,677.62L235.42,677.56L237.37,677.50L239.31,677.45L241.26,677.39L243.21,677.34L245.15,677.29L247.10,677.24L249.04,677.19L250.99,677.14L252.94,677.10L254.88,677.05L256.83,677.01L258.77,676.96L260.72,676.92L262.67,676.88L264.61,676.83L266.56,676.79L268.51,676.74L270.45,676.69L272.40,676.65L274.34,676.60L276.29,676.55L278.24,676.49L280.18,676.44L282.13,676.38L284.08,676.32L286.02,676.26L287.97,676.20L289.91,676.13L291.86,676.06L293.81,675.99L295.75,675.91L297.70,675.83L299.65,675.74L301.59,675.65L303.54,675.56L305.48,675.46L307.43,675.36L309.38,675.26L311.32,675.16L313.27,675.05L315.22,674.94L317.16,674.83L319.11,674.72L321.05,674.61L323.00,674.50" fill="none" stroke="#6ece58" stroke-width="1.25" stroke-linejoin="round"/>
<path d="M91.40,695.30L93.35,695.30L95.29,695.29L97.24,695.27L99.18,695.25L101.13,695.22L103.08,695.19L105.02,695.15L106.97,695.11L108.92,695.06L110.86,695.01L112.81,694.95L114.75,694.89L116.70,694.83L118.65,694.76L120.59,694.69L122.54,694.62L124.49,694.54L126.43,694.47L128.38,694.39L130.32,694.30L132.27,694.22L134.22,694.14L136.16,694.05L138.11,693.96L140.06,693.85L142.00,693.71L143.95,693.54L145.89,693.35L147.84,693.14L149.79,692.90L151.73,692.65L153.68,692.37L155.63,692.08L157.57,691.77L159.52,691.45L161.46,691.11L163.41,690.77L165.36,690.41L167.30,690.04L169.25,689.67L171.19,689.29L173.14,688.90L175.09,688.51L177.03,688.12L178.98,687.73L180.93,687.34L182.87,686.96L184.82,686.57L186.76,686.19L188.71,685.82L190.66,685.46L192.60,685.10L194.55,684.76L196.50,684.43L198.44,684.11L200.39,683.81L202.33,683.52L204.28,683.25L206.23,683.01L208.17,682.78L210.12,682.57L212.07,682.39L214.01,682.23L215.96,682.10L217.90,682.00L219.85,681.92L221.80,681.88L223.74,681.84L225.69,681.80L227.64,681.77L229.58,681.73L231.53,681.70L233.47,681.68L235.42,681.65L237.37,681.63L239.31,681.61L241.26,681.59L243.21,681.57L245.15,681.55L247.10,681.53L249.04,681.52L250.99,681.50L252.94,681.49L254.88,681.48L256.83,681.46L258.77,681.45L260.72,681.43L262.67,681.42L264.61,681.40L266.56,681.39L268.51,681.37L270.45,681.35L272.40,681.34L274.34,681.31L276.29,681.29L278.24,681.27L280.18,681.24L282.13,681.22L284.08,681.18L286.02,681.15L287.97,681.12L289.91,681.08L291.86,681.04L293.81,680.99L295.75,680.93L297.70,680.86L299.65,680.76L301.59,680.65L303.54,680.53L305.48,680.40L307.43,680.25L309.38,680.10L311.32,679.94L313.27,679.77L315.22,679.60L317.16,679.42L319.11,679.25L321.05,679.07L323.00,678.90" fill="none" stroke="#54c568" stroke-width="1.25" stroke-linejoin="round"/>
<path d="M91.40,704.10L93.35,704.10L95.29,704.09L97.24,704.08L99.18,704.06L101.13,704.04L103.08,704.01L105.02,703.98L106.97,703.95L108.92,703.91L110.86,703.86L112.81,703.82L114.75,703.77L116.70,703.72L118.65,703.66L120.59,703.60L122.54,703.54L124.49,703.48L126.43,703.41L128.38,703.34L130.32,703.27L132.27,703.20L134.22,703.12L136.16,703.05L138.11,702.96L140.06,702.84L142.00,702.67L143.95,702.45L145.89,702.19L147.84,701.89L149.79,701.55L151.73,701.17L153.68,700.76L155.63,700.32L157.57,699.85L159.52,699.36L161.46,698.84L163.41,698.30L165.36,697.75L167.30,697.18L169.25,696.59L171.19,695.99L173.14,695.39L175.09,694.78L177.03,694.17L178.98,693.55L180.93,692.94L182.87,692.33L184.82,691.73L186.76,691.14L188.71,690.56L190.66,689.99L192.60,689.45L194.55,688.92L196.50,688.41L198.44,687.92L200.39,687.47L202.33,687.04L204.28,686.64L206.23,686.28L208.17,685.95L210.12,685.66L212.07,685.42L214.01,685.22L215.96,685.06L217.90,684.96L219.85,684.91L221.80,684.90L223.74,684.92L225.69,684.97L227.64,685.03L229.58,685.11L231.53,685.20L233.47,685.31L235.42,685.44L237.37,685.57L239.31,685.72L241.26,685.88L243.21,686.05L245.15,686.23L247.10,686.42L249.04,686.61L250.99,686.81L252.94,687.01L254.88,687.21L256.83,687.42L258.77,687.62L260.72,687.82L262.67,688.03L264.61,688.22L266.56,688.42L268.51,688.61L270.45,688.79L272.40,688.96L274.34,689.12L276.29,689.28L278.24,689.42L280.18,689.55L282.13,689.66L284.08,689.77L286.02,689.85L287.97,689.92L289.91,689.96L291.86,689.99L293.81,690.00L295.75,689.95L297.70,689.85L299.65,689.68L301.59,689.46L303.54,689.20L305.48,688.88L307.43,688.54L309.38,688.16L311.32,687.75L313.27,687.32L315.22,686.87L317.16,686.41L319.11,685.94L321.05,685.47L323.00,685.00" fill="none" stroke="#3dbc74" stroke-width="1.25" stroke-linejoin="round"/>
<path d="M91.40,714.60L93.35,714.60L95.29,714.59L97.24,714.58L99.18,714.56L101.13,714.54L103.08,714.51L105.02,714.48L106.97,714.45L108.92,714.41L110.86,714.37L112.81,714.32L114.75,714.27L116.70,714.22L118.65,714.16L120.59,714.11L122.54,714.04L124.49,713.98L126.43,713.91L128.38,713.84L130.32,713.77L132.27,713.70L134.22,713.62L136.16,713.55L138.11,713.46L140.06,713.32L142.00,713.13L143.95,712.87L145.89,712.57L147.84,712.21L149.79,711.80L151.73,711.35L153.68,710.86L155.63,710.33L157.57,709.77L159.52,709.17L161.46,708.54L163.41,707.89L165.36,707.21L167.30,706.52L169.25,705.81L171.19,705.08L173.14,704.34L175.09,703.60L177.03,702.85L178.98,702.10L180.93,701.35L182.87,700.61L184.82,699.88L186.76,699.15L188.71,698.44L190.66,697.75L192.60,697.08L194.55,696.43L196.50,695.80L198.44,695.21L200.39,694.65L202.33,694.12L204.28,693.64L206.23,693.19L208.17,692.79L210.12,692.44L212.07,692.14L214.01,691.89L215.96,691.70L217.90,691.57L219.85,691.51L221.80,691.50L223.74,691.54L225.69,691.61L227.64,691.71L229.58,691.84L231.53,692.00L233.47,692.18L235.42,692.39L237.37,692.62L239.31,692.87L241.26,693.14L243.21,693.42L245.15,693.72L247.10,694.03L249.04,694.35L250.99,694.68L252.94,695.01L254.88,695.35L256.83,695.69L258.77,696.03L260.72,696.37L262.67,696.71L264.61,697.04L266.56,697.36L268.51,697.68L270.45,697.98L272.40,698.27L274.34,698.54L276.29,698.80L278.24,699.03L280.18,699.25L282.13,699.44L284.08,699.61L286.02,699.75L287.97,699.86L289.91,699.94L291.86,699.99L293.81,700.00L295.75,699.94L297.70,699.79L299.65,699.55L301.59,699.24L303.54,698.87L305.48,698.43L307.43,697.94L309.38,697.40L311.32,696.82L313.27,696.21L315.22,695.57L317.16,694.92L319.11,694.25L321.05,693.57L323.00,692.90" fill="none" stroke="#2db27d" stroke-width="1.25" stroke-linejoin="round"/>
<path d="M91.40,725.10L93.35,725.10L95.29,725.09L97.24,725.08L99.18,725.06L101.13,725.04L103.08,725.01L105.02,724.98L106.97,724.95L108.92,724.91L110.86,724.87L112.81,724.82L114.75,724.78L116.70,724.72L118.65,724.67L120.59,724.61L122.54,724.55L124.49,724.48L126.43,724.42L128.38,724.35L130.32,724.27L132.27,724.20L134.22,724.12L136.16,724.05L138.11,723.96L140.06,723.81L142.00,723.58L143.95,723.29L145.89,722.93L147.84,722.50L149.79,722.02L151.73,721.48L153.68,720.90L155.63,720.26L157.57,719.58L159.52,718.86L161.46,718.10L163.41,717.32L165.36,716.50L167.30,715.66L169.25,714.80L171.19,713.92L173.14,713.02L175.09,712.12L177.03,711.21L178.98,710.30L180.93,709.39L182.87,708.49L184.82,707.60L186.76,706.72L188.71,705.85L190.66,705.01L192.60,704.19L194.55,703.40L196.50,702.64L198.44,701.92L200.39,701.24L202.33,700.60L204.28,700.00L206.23,699.46L208.17,698.97L210.12,698.55L212.07,698.18L214.01,697.88L215.96,697.65L217.90,697.49L219.85,697.41L221.80,697.41L223.74,697.47L225.69,697.59L227.64,697.76L229.58,697.99L231.53,698.26L233.47,698.58L235.42,698.93L237.37,699.33L239.31,699.76L241.26,700.22L243.21,700.71L245.15,701.22L247.10,701.75L249.04,702.30L250.99,702.86L252.94,703.44L254.88,704.02L256.83,704.60L258.77,705.19L260.72,705.77L262.67,706.35L264.61,706.92L266.56,707.47L268.51,708.01L270.45,708.53L272.40,709.02L274.34,709.49L276.29,709.93L278.24,710.34L280.18,710.71L282.13,711.04L284.08,711.33L286.02,711.57L287.97,711.76L289.91,711.90L291.86,711.98L293.81,712.00L295.75,711.92L297.70,711.72L299.65,711.42L301.59,711.02L303.54,710.53L305.48,709.96L307.43,709.32L309.38,708.61L311.32,707.85L313.27,707.04L315.22,706.19L317.16,705.32L319.11,704.42L321.05,703.51L323.00,702.60" fill="none" stroke="#22a785" stroke-width="1.25" stroke-linejoin="round"/>
<path d="M91.40,732.10L93.35,732.21L95.29,732.31L97.24,732.40L99.18,732.48L101.13,732.56L103.08,732.63L105.02,732.69L106.97,732.74L108.92,732.79L110.86,732.83L112.81,732.86L114.75,732.89L116.70,732.92L118.65,732.94L120.59,732.96L122.54,732.97L124.49,732.98L126.43,732.99L128.38,732.99L130.32,733.00L132.27,733.00L134.22,733.00L136.16,733.00L138.11,732.99L140.06,732.89L142.00,732.69L143.95,732.40L145.89,732.01L147.84,731.53L149.79,730.98L151.73,730.34L153.68,729.64L155.63,728.87L157.57,728.04L159.52,727.15L161.46,726.21L163.41,725.22L165.36,724.20L167.30,723.13L169.25,722.04L171.19,720.92L173.14,719.78L175.09,718.63L177.03,717.46L178.98,716.29L180.93,715.12L182.87,713.96L184.82,712.80L186.76,711.66L188.71,710.54L190.66,709.44L192.60,708.38L194.55,707.35L196.50,706.36L198.44,705.42L200.39,704.53L202.33,703.69L204.28,702.91L206.23,702.21L208.17,701.57L210.12,701.00L212.07,700.52L214.01,700.13L215.96,699.82L217.90,699.62L219.85,699.51L221.80,699.51L223.74,699.60L225.69,699.77L227.64,700.01L229.58,700.33L231.53,700.71L233.47,701.15L235.42,701.65L237.37,702.21L239.31,702.81L241.26,703.46L243.21,704.14L245.15,704.86L247.10,705.61L249.04,706.38L250.99,707.17L252.94,707.98L254.88,708.79L256.83,709.61L258.77,710.44L260.72,711.26L262.67,712.07L264.61,712.86L266.56,713.64L268.51,714.40L270.45,715.13L272.40,715.82L274.34,716.48L276.29,717.10L278.24,717.67L280.18,718.19L282.13,718.65L284.08,719.06L286.02,719.39L287.97,719.66L289.91,719.86L291.86,719.97L293.81,720.00L295.75,719.93L297.70,719.76L299.65,719.49L301.59,719.14L303.54,718.70L305.48,718.19L307.43,717.61L309.38,716.97L311.32,716.28L313.27,715.53L315.22,714.74L317.16,713.92L319.11,713.07L321.05,712.19L323.00,711.30" fill="none" stroke="#1e9c89" stroke-width="1.25" stroke-linejoin="round"/>
<path d="M91.40,737.40L93.35,737.60L95.29,737.77L97.24,737.94L99.18,738.08L101.13,738.22L103.08,738.34L105.02,738.44L106.97,738.54L108.92,738.62L110.86,738.69L112.81,738.76L114.75,738.81L116.70,738.86L118.65,738.89L120.59,738.92L122.54,738.95L124.49,738.97L126.43,738.98L128.38,738.99L130.32,738.99L132.27,739.00L134.22,739.00L136.16,739.00L138.11,738.99L140.06,738.87L142.00,738.64L143.95,738.29L145.89,737.82L147.84,737.26L149.79,736.60L151.73,735.85L153.68,735.02L155.63,734.10L157.57,733.12L159.52,732.06L161.46,730.95L163.41,729.78L165.36,728.57L167.30,727.31L169.25,726.01L171.19,724.69L173.14,723.34L175.09,721.97L177.03,720.59L178.98,719.20L180.93,717.81L182.87,716.43L184.82,715.06L186.76,713.71L188.71,712.38L190.66,711.09L192.60,709.82L194.55,708.60L196.50,707.43L198.44,706.31L200.39,705.26L202.33,704.27L204.28,703.35L206.23,702.51L208.17,701.75L210.12,701.08L212.07,700.51L214.01,700.04L215.96,699.69L217.90,699.44L219.85,699.32L221.80,699.32L223.74,699.44L225.69,699.68L227.64,700.03L229.58,700.49L231.53,701.04L233.47,701.68L235.42,702.40L237.37,703.20L239.31,704.06L241.26,704.99L243.21,705.98L245.15,707.01L247.10,708.09L249.04,709.20L250.99,710.34L252.94,711.50L254.88,712.67L256.83,713.85L258.77,715.04L260.72,716.22L262.67,717.38L264.61,718.53L266.56,719.65L268.51,720.74L270.45,721.79L272.40,722.79L274.34,723.74L276.29,724.62L278.24,725.45L280.18,726.19L282.13,726.86L284.08,727.44L286.02,727.93L287.97,728.31L289.91,728.59L291.86,728.76L293.81,728.80L295.75,728.71L297.70,728.49L299.65,728.15L301.59,727.70L303.54,727.14L305.48,726.49L307.43,725.74L309.38,724.91L311.32,724.01L313.27,723.05L315.22,722.02L317.16,720.95L319.11,719.83L321.05,718.68L323.00,717.50" fill="none" stroke="#21918c" stroke-width="1.25" stroke-linejoin="round"/>
<path d="M91.40,744.40L93.35,744.72L95.29,745.01L97.24,745.27L99.18,745.51L101.13,745.73L103.08,745.92L105.02,746.10L106.97,746.25L108.92,746.39L110.86,746.50L112.81,746.61L114.75,746.69L116.70,746.76L118.65,746.83L120.59,746.87L122.54,746.91L124.49,746.94L126.43,746.97L128.38,746.98L130.32,746.99L132.27,747.00L134.22,747.00L136.16,747.00L138.11,746.99L140.06,746.85L142.00,746.56L143.95,746.13L145.89,745.57L147.84,744.89L149.79,744.09L151.73,743.18L153.68,742.16L155.63,741.05L157.57,739.86L159.52,738.58L161.46,737.23L163.41,735.81L165.36,734.33L167.30,732.80L169.25,731.23L171.19,729.62L173.14,727.98L175.09,726.32L177.03,724.64L178.98,722.96L180.93,721.28L182.87,719.60L184.82,717.94L186.76,716.30L188.71,714.68L190.66,713.11L192.60,711.58L194.55,710.10L196.50,708.67L198.44,707.32L200.39,706.03L202.33,704.83L204.28,703.71L206.23,702.69L208.17,701.77L210.12,700.96L212.07,700.27L214.01,699.70L215.96,699.27L217.90,698.97L219.85,698.82L221.80,698.82L223.74,698.98L225.69,699.29L227.64,699.74L229.58,700.33L231.53,701.03L233.47,701.85L235.42,702.78L237.37,703.81L239.31,704.92L241.26,706.12L243.21,707.38L245.15,708.71L247.10,710.09L249.04,711.52L250.99,712.98L252.94,714.47L254.88,715.98L256.83,717.50L258.77,719.02L260.72,720.53L262.67,722.03L264.61,723.50L266.56,724.94L268.51,726.34L270.45,727.69L272.40,728.97L274.34,730.19L276.29,731.33L278.24,732.39L280.18,733.35L282.13,734.21L284.08,734.95L286.02,735.58L287.97,736.08L289.91,736.43L291.86,736.64L293.81,736.70L295.75,736.61L297.70,736.41L299.65,736.08L301.59,735.64L303.54,735.10L305.48,734.46L307.43,733.73L309.38,732.91L311.32,732.01L313.27,731.04L315.22,730.00L317.16,728.90L319.11,727.75L321.05,726.54L323.00,725.30" fill="none" stroke="#24868e" stroke-width="1.25" stroke-linejoin="round"/>
<path d="M91.40,751.40L93.35,751.84L95.29,752.24L97.24,752.61L99.18,752.94L101.13,753.24L103.08,753.51L105.02,753.75L106.97,753.96L108.92,754.15L110.86,754.31L112.81,754.45L114.75,754.57L116.70,754.67L118.65,754.76L120.59,754.83L122.54,754.88L124.49,754.92L126.43,754.95L128.38,754.97L130.32,754.99L132.27,755.00L134.22,755.00L136.16,755.00L138.11,754.98L140.06,754.82L142.00,754.47L143.95,753.96L145.89,753.30L147.84,752.48L149.79,751.53L151.73,750.44L153.68,749.23L155.63,747.91L157.57,746.48L159.52,744.95L161.46,743.34L163.41,741.65L165.36,739.89L167.30,738.06L169.25,736.19L171.19,734.27L173.14,732.31L175.09,730.33L177.03,728.33L178.98,726.32L180.93,724.31L182.87,722.31L184.82,720.33L186.76,718.37L188.71,716.45L190.66,714.57L192.60,712.74L194.55,710.98L196.50,709.28L198.44,707.66L200.39,706.13L202.33,704.69L204.28,703.36L206.23,702.14L208.17,701.05L210.12,700.08L212.07,699.26L214.01,698.58L215.96,698.06L217.90,697.70L219.85,697.52L221.80,697.53L223.74,697.73L225.69,698.13L227.64,698.72L229.58,699.47L231.53,700.38L233.47,701.44L235.42,702.64L237.37,703.96L239.31,705.40L241.26,706.94L243.21,708.57L245.15,710.28L247.10,712.07L249.04,713.91L250.99,715.79L252.94,717.72L254.88,719.67L256.83,721.63L258.77,723.59L260.72,725.54L262.67,727.47L264.61,729.37L266.56,731.23L268.51,733.03L270.45,734.77L272.40,736.43L274.34,738.00L276.29,739.48L278.24,740.84L280.18,742.08L282.13,743.19L284.08,744.15L286.02,744.95L287.97,745.59L289.91,746.05L291.86,746.33L293.81,746.40L295.75,746.29L297.70,746.04L299.65,745.64L301.59,745.10L303.54,744.44L305.48,743.65L307.43,742.75L309.38,741.74L311.32,740.63L313.27,739.43L315.22,738.14L317.16,736.78L319.11,735.35L321.05,733.85L323.00,732.30" fill="none" stroke="#297b8e" stroke-width="1.25" stroke-linejoin="round"/>
<path d="M91.40,758.40L93.35,758.96L95.29,759.47L97.24,759.94L99.18,760.37L101.13,760.75L103.08,761.09L105.02,761.40L106.97,761.67L108.92,761.91L110.86,762.12L112.81,762.30L114.75,762.45L116.70,762.58L118.65,762.69L120.59,762.78L122.54,762.85L124.49,762.90L126.43,762.94L128.38,762.97L130.32,762.98L132.27,762.99L134.22,763.00L136.16,763.00L138.11,762.98L140.06,762.78L142.00,762.37L143.95,761.77L145.89,760.98L147.84,760.01L149.79,758.87L151.73,757.58L153.68,756.15L155.63,754.58L157.57,752.88L159.52,751.07L161.46,749.15L163.41,747.14L165.36,745.05L167.30,742.88L169.25,740.65L171.19,738.37L173.14,736.05L175.09,733.70L177.03,731.32L178.98,728.94L180.93,726.55L182.87,724.17L184.82,721.82L186.76,719.49L188.71,717.21L190.66,714.98L192.60,712.80L194.55,710.71L196.50,708.69L198.44,706.77L200.39,704.95L202.33,703.24L204.28,701.66L206.23,700.22L208.17,698.91L210.12,697.77L212.07,696.79L214.01,695.98L215.96,695.36L217.90,694.94L219.85,694.73L221.80,694.73L223.74,694.98L225.69,695.47L227.64,696.18L229.58,697.09L231.53,698.20L233.47,699.49L235.42,700.95L237.37,702.56L239.31,704.31L241.26,706.18L243.21,708.17L245.15,710.25L247.10,712.42L249.04,714.66L250.99,716.96L252.94,719.30L254.88,721.67L256.83,724.06L258.77,726.44L260.72,728.82L262.67,731.17L264.61,733.48L266.56,735.74L268.51,737.94L270.45,740.05L272.40,742.07L274.34,743.98L276.29,745.78L278.24,747.43L280.18,748.94L282.13,750.29L284.08,751.46L286.02,752.44L287.97,753.22L289.91,753.78L291.86,754.11L293.81,754.20L295.75,754.11L297.70,753.89L299.65,753.55L301.59,753.09L303.54,752.50L305.48,751.81L307.43,751.00L309.38,750.09L311.32,749.08L313.27,747.97L315.22,746.77L317.16,745.47L319.11,744.10L321.05,742.64L323.00,741.10" fill="none" stroke="#2d708e" stroke-width="1.25" stroke-linejoin="round"/>
<path d="M91.40,763.70L93.35,764.35L95.29,764.94L97.24,765.48L99.18,765.97L101.13,766.41L103.08,766.80L105.02,767.16L106.97,767.47L108.92,767.75L110.86,767.99L112.81,768.19L114.75,768.37L116.70,768.52L118.65,768.64L120.59,768.74L122.54,768.82L124.49,768.88L126.43,768.93L128.38,768.96L130.32,768.98L132.27,768.99L134.22,769.00L136.16,769.00L138.11,768.98L140.06,768.76L142.00,768.30L143.95,767.62L145.89,766.74L147.84,765.66L149.79,764.39L151.73,762.94L153.68,761.33L155.63,759.58L157.57,757.68L159.52,755.65L161.46,753.51L163.41,751.26L165.36,748.92L167.30,746.50L169.25,744.00L171.19,741.45L173.14,738.86L175.09,736.22L177.03,733.57L178.98,730.90L180.93,728.23L182.87,725.57L184.82,722.93L186.76,720.33L188.71,717.78L190.66,715.28L192.60,712.85L194.55,710.50L196.50,708.25L198.44,706.10L200.39,704.06L202.33,702.16L204.28,700.39L206.23,698.77L208.17,697.31L210.12,696.03L212.07,694.93L214.01,694.03L215.96,693.34L217.90,692.87L219.85,692.63L221.80,692.64L223.74,692.94L225.69,693.52L227.64,694.37L229.58,695.47L231.53,696.80L233.47,698.35L235.42,700.09L237.37,702.02L239.31,704.12L241.26,706.36L243.21,708.74L245.15,711.24L247.10,713.84L249.04,716.52L250.99,719.27L252.94,722.08L254.88,724.92L256.83,727.78L258.77,730.64L260.72,733.49L262.67,736.30L264.61,739.08L266.56,741.78L268.51,744.41L270.45,746.95L272.40,749.37L274.34,751.66L276.29,753.81L278.24,755.79L280.18,757.60L282.13,759.21L284.08,760.62L286.02,761.79L287.97,762.72L289.91,763.40L291.86,763.79L293.81,763.90L295.75,763.76L297.70,763.42L299.65,762.88L301.59,762.15L303.54,761.25L305.48,760.19L307.43,758.96L309.38,757.59L311.32,756.08L313.27,754.44L315.22,752.67L317.16,750.80L319.11,748.82L321.05,746.75L323.00,744.60" fill="none" stroke="#32658e" stroke-width="1.25" stroke-linejoin="round"/>
<path d="M91.40,770.70L93.35,771.47L95.29,772.17L97.24,772.81L99.18,773.39L101.13,773.92L103.08,774.39L105.02,774.81L106.97,775.18L108.92,775.51L110.86,775.80L112.81,776.04L114.75,776.25L116.70,776.43L118.65,776.58L120.59,776.70L122.54,776.79L124.49,776.86L126.43,776.92L128.38,776.95L130.32,776.98L132.27,776.99L134.22,777.00L136.16,777.00L138.11,776.98L140.06,776.72L142.00,776.21L143.95,775.45L145.89,774.45L147.84,773.23L149.79,771.80L151.73,770.17L153.68,768.36L155.63,766.38L157.57,764.24L159.52,761.96L161.46,759.54L163.41,757.01L165.36,754.37L167.30,751.64L169.25,748.83L171.19,745.96L173.14,743.03L175.09,740.06L177.03,737.07L178.98,734.06L180.93,731.05L182.87,728.05L184.82,725.08L186.76,722.15L188.71,719.27L190.66,716.46L192.60,713.72L194.55,711.08L196.50,708.54L198.44,706.11L200.39,703.82L202.33,701.67L204.28,699.68L206.23,697.85L208.17,696.21L210.12,694.77L212.07,693.53L214.01,692.51L215.96,691.73L217.90,691.20L219.85,690.93L221.80,690.95L223.74,691.32L225.69,692.04L227.64,693.08L229.58,694.44L231.53,696.08L233.47,697.98L235.42,700.13L237.37,702.51L239.31,705.10L241.26,707.87L243.21,710.80L245.15,713.88L247.10,717.08L249.04,720.39L250.99,723.78L252.94,727.24L254.88,730.74L256.83,734.27L258.77,737.79L260.72,741.31L262.67,744.78L264.61,748.20L266.56,751.53L268.51,754.78L270.45,757.90L272.40,760.88L274.34,763.71L276.29,766.36L278.24,768.80L280.18,771.03L282.13,773.02L284.08,774.75L286.02,776.20L287.97,777.35L289.91,778.18L291.86,778.67L293.81,778.80L295.75,778.63L297.70,778.21L299.65,777.55L301.59,776.66L303.54,775.55L305.48,774.25L307.43,772.74L309.38,771.06L311.32,769.20L313.27,767.18L315.22,765.02L317.16,762.72L319.11,760.29L321.05,757.75L323.00,755.10" fill="none" stroke="#38598c" stroke-width="1.25" stroke-linejoin="round"/>
<path d="M91.40,776.00L93.35,776.85L95.29,777.63L97.24,778.35L99.18,778.99L101.13,779.57L103.08,780.10L105.02,780.57L106.97,780.98L108.92,781.34L110.86,781.66L112.81,781.94L114.75,782.17L116.70,782.37L118.65,782.53L120.59,782.66L122.54,782.77L124.49,782.85L126.43,782.91L128.38,782.95L130.32,782.98L132.27,782.99L134.22,783.00L136.16,783.00L138.11,782.97L140.06,782.69L142.00,782.12L143.95,781.27L145.89,780.16L147.84,778.80L149.79,777.21L151.73,775.40L153.68,773.38L155.63,771.17L157.57,768.79L159.52,766.24L161.46,763.55L163.41,760.73L165.36,757.79L167.30,754.75L169.25,751.62L171.19,748.42L173.14,745.16L175.09,741.86L177.03,738.52L178.98,735.17L180.93,731.82L182.87,728.48L184.82,725.18L186.76,721.91L188.71,718.70L190.66,715.57L192.60,712.52L194.55,709.57L196.50,706.74L198.44,704.04L200.39,701.49L202.33,699.10L204.28,696.88L206.23,694.84L208.17,693.02L210.12,691.41L212.07,690.03L214.01,688.90L215.96,688.03L217.90,687.44L219.85,687.14L221.80,687.16L223.74,687.58L225.69,688.39L227.64,689.58L229.58,691.11L231.53,692.97L233.47,695.13L235.42,697.56L237.37,700.26L239.31,703.19L241.26,706.32L243.21,709.65L245.15,713.14L247.10,716.77L249.04,720.52L250.99,724.36L252.94,728.28L254.88,732.25L256.83,736.24L258.77,740.24L260.72,744.21L262.67,748.15L264.61,752.02L266.56,755.81L268.51,759.48L270.45,763.02L272.40,766.40L274.34,769.60L276.29,772.60L278.24,775.37L280.18,777.90L282.13,780.15L284.08,782.11L286.02,783.76L287.97,785.06L289.91,786.00L291.86,786.55L293.81,786.70L295.75,786.49L297.70,785.99L299.65,785.19L301.59,784.13L303.54,782.81L305.48,781.25L307.43,779.45L309.38,777.45L311.32,775.24L313.27,772.85L315.22,770.28L317.16,767.56L319.11,764.70L321.05,761.71L323.00,758.60" fill="none" stroke="#3e4c8a" stroke-width="1.25" stroke-linejoin="round"/>
<path d="M91.40,782.00L93.35,783.10L95.29,784.10L97.24,785.02L99.18,785.85L101.13,786.60L103.08,787.27L105.02,787.87L106.97,788.40L108.92,788.87L110.86,789.28L112.81,789.63L114.75,789.93L116.70,790.19L118.65,790.40L120.59,790.57L122.54,790.70L124.49,790.80L126.43,790.88L128.38,790.93L130.32,790.97L132.27,790.99L134.22,791.00L136.16,791.00L138.11,790.97L140.06,790.69L142.00,790.12L143.95,789.28L145.89,788.17L147.84,786.81L149.79,785.22L151.73,783.41L153.68,781.40L155.63,779.20L157.57,776.82L159.52,774.28L161.46,771.60L163.41,768.78L165.36,765.85L167.30,762.81L169.25,759.69L171.19,756.49L173.14,753.24L175.09,749.94L177.03,746.61L178.98,743.27L180.93,739.93L182.87,736.60L184.82,733.30L186.76,730.04L188.71,726.84L190.66,723.71L192.60,720.67L194.55,717.73L196.50,714.90L198.44,712.21L200.39,709.66L202.33,707.27L204.28,705.05L206.23,703.03L208.17,701.20L210.12,699.60L212.07,698.22L214.01,697.09L215.96,696.23L217.90,695.64L219.85,695.34L221.80,695.36L223.74,695.83L225.69,696.73L227.64,698.05L229.58,699.75L231.53,701.81L233.47,704.21L235.42,706.92L237.37,709.91L239.31,713.16L241.26,716.65L243.21,720.34L245.15,724.21L247.10,728.25L249.04,732.41L250.99,736.68L252.94,741.03L254.88,745.43L256.83,749.87L258.77,754.31L260.72,758.72L262.67,763.09L264.61,767.39L266.56,771.59L268.51,775.67L270.45,779.60L272.40,783.36L274.34,786.91L276.29,790.24L278.24,793.32L280.18,796.13L282.13,798.63L284.08,800.81L286.02,802.63L287.97,804.08L289.91,805.12L291.86,805.73L293.81,805.90L295.75,805.65L297.70,805.04L299.65,804.09L301.59,802.81L303.54,801.22L305.48,799.35L307.43,797.21L309.38,794.82L311.32,792.19L313.27,789.36L315.22,786.32L317.16,783.11L319.11,779.74L321.05,776.23L323.00,772.60" fill="none" stroke="#433e85" stroke-width="1.25" stroke-linejoin="round"/>
<path d="M91.40,788.00L93.35,789.46L95.29,790.80L97.24,792.02L99.18,793.13L101.13,794.13L103.08,795.03L105.02,795.83L106.97,796.54L108.92,797.16L110.86,797.71L112.81,798.18L114.75,798.58L116.70,798.92L118.65,799.19L120.59,799.42L122.54,799.60L124.49,799.74L126.43,799.84L128.38,799.91L130.32,799.96L132.27,799.98L134.22,800.00L136.16,800.00L138.11,799.97L140.06,799.63L142.00,798.95L143.95,797.94L145.89,796.62L147.84,795.00L149.79,793.10L151.73,790.94L153.68,788.53L155.63,785.90L157.57,783.06L159.52,780.03L161.46,776.82L163.41,773.46L165.36,769.96L167.30,766.33L169.25,762.61L171.19,758.79L173.14,754.90L175.09,750.96L177.03,746.99L178.98,742.99L180.93,739.00L182.87,735.02L184.82,731.08L186.76,727.19L188.71,723.37L190.66,719.63L192.60,716.00L194.55,712.49L196.50,709.11L198.44,705.90L200.39,702.85L202.33,700.00L204.28,697.35L206.23,694.93L208.17,692.75L210.12,690.83L212.07,689.19L214.01,687.84L215.96,686.81L217.90,686.10L219.85,685.74L221.80,685.78L223.74,686.37L225.69,687.51L227.64,689.17L229.58,691.31L231.53,693.92L233.47,696.94L235.42,700.36L237.37,704.13L239.31,708.23L241.26,712.62L243.21,717.28L245.15,722.17L247.10,727.25L249.04,732.50L250.99,737.89L252.94,743.38L254.88,748.93L256.83,754.52L258.77,760.12L260.72,765.70L262.67,771.21L264.61,776.63L266.56,781.93L268.51,787.07L270.45,792.03L272.40,796.76L274.34,801.25L276.29,805.45L278.24,809.34L280.18,812.87L282.13,816.03L284.08,818.77L286.02,821.08L287.97,822.90L289.91,824.22L291.86,824.99L293.81,825.19L295.75,824.88L297.70,824.11L299.65,822.91L301.59,821.29L303.54,819.29L305.48,816.92L307.43,814.21L309.38,811.19L311.32,807.87L313.27,804.28L315.22,800.44L317.16,796.38L319.11,792.12L321.05,787.69L323.00,783.10" fill="none" stroke="#46307e" stroke-width="1.25" stroke-linejoin="round"/>
<path d="M91.40,794.00L93.35,795.46L95.29,796.80L97.24,798.02L99.18,799.13L101.13,800.13L103.08,801.03L105.02,801.83L106.97,802.54L108.92,803.16L110.86,803.71L112.81,804.18L114.75,804.58L116.70,804.92L118.65,805.19L120.59,805.42L122.54,805.60L124.49,805.74L126.43,805.84L128.38,805.91L130.32,805.96L132.27,805.98L134.22,806.00L136.16,806.00L138.11,805.96L140.06,805.57L142.00,804.77L143.95,803.57L145.89,802.01L147.84,800.09L149.79,797.85L151.73,795.30L153.68,792.46L155.63,789.36L157.57,786.01L159.52,782.43L161.46,778.65L163.41,774.68L165.36,770.54L167.30,766.27L169.25,761.87L171.19,757.36L173.14,752.77L175.09,748.12L177.03,743.43L178.98,738.72L180.93,734.01L182.87,729.31L184.82,724.66L186.76,720.07L188.71,715.56L190.66,711.15L192.60,706.86L194.55,702.71L196.50,698.73L198.44,694.94L200.39,691.34L202.33,687.97L204.28,684.85L206.23,681.99L208.17,679.42L210.12,677.16L212.07,675.22L214.01,673.63L215.96,672.41L217.90,671.58L219.85,671.15L221.80,671.19L223.74,671.89L225.69,673.23L227.64,675.19L229.58,677.72L231.53,680.79L233.47,684.36L235.42,688.39L237.37,692.85L239.31,697.68L241.26,702.87L243.21,708.36L245.15,714.13L247.10,720.13L249.04,726.33L250.99,732.68L252.94,739.15L254.88,745.71L256.83,752.31L258.77,758.91L260.72,765.49L262.67,771.99L264.61,778.39L266.56,784.64L268.51,790.71L270.45,796.56L272.40,802.15L274.34,807.44L276.29,812.40L278.24,816.98L280.18,821.15L282.13,824.88L284.08,828.12L286.02,830.83L287.97,832.99L289.91,834.54L291.86,835.45L293.81,835.69L295.75,835.36L297.70,834.55L299.65,833.28L301.59,831.56L303.54,829.43L305.48,826.91L307.43,824.01L309.38,820.77L311.32,817.20L313.27,813.33L315.22,809.17L317.16,804.76L319.11,800.11L321.05,795.25L323.00,790.20" fill="none" stroke="#482173" stroke-width="1.25" stroke-linejoin="round"/>
<path d="M91.40,797.00L93.35,798.95L95.29,800.74L97.24,802.36L99.18,803.84L101.13,805.17L103.08,806.37L105.02,807.44L106.97,808.38L108.92,809.22L110.86,809.94L112.81,810.57L114.75,811.10L116.70,811.55L118.65,811.93L120.59,812.23L122.54,812.47L124.49,812.65L126.43,812.79L128.38,812.88L130.32,812.94L132.27,812.98L134.22,813.00L136.16,813.00L138.11,812.96L140.06,812.53L142.00,811.64L143.95,810.33L145.89,808.60L147.84,806.50L149.79,804.03L151.73,801.22L153.68,798.10L155.63,794.68L157.57,790.99L159.52,787.05L161.46,782.89L163.41,778.52L165.36,773.97L167.30,769.26L169.25,764.42L171.19,759.46L173.14,754.41L175.09,749.29L177.03,744.12L178.98,738.94L180.93,733.75L182.87,728.58L184.82,723.46L186.76,718.40L188.71,713.44L190.66,708.58L192.60,703.86L194.55,699.30L196.50,694.92L198.44,690.74L200.39,686.78L202.33,683.08L204.28,679.64L206.23,676.49L208.17,673.66L210.12,671.17L212.07,669.03L214.01,667.28L215.96,665.94L217.90,665.02L219.85,664.56L221.80,664.60L223.74,665.33L225.69,666.75L227.64,668.82L229.58,671.49L231.53,674.74L233.47,678.50L235.42,682.76L237.37,687.46L239.31,692.57L241.26,698.05L243.21,703.85L245.15,709.94L247.10,716.27L249.04,722.81L250.99,729.52L252.94,736.36L254.88,743.28L256.83,750.25L258.77,757.22L260.72,764.16L262.67,771.03L264.61,777.79L266.56,784.39L268.51,790.80L270.45,796.97L272.40,802.87L274.34,808.46L276.29,813.69L278.24,818.53L280.18,822.94L282.13,826.88L284.08,830.30L286.02,833.16L287.97,835.43L289.91,837.07L291.86,838.04L293.81,838.29L295.75,837.99L297.70,837.24L299.65,836.06L301.59,834.47L303.54,832.49L305.48,830.13L307.43,827.42L309.38,824.36L311.32,820.99L313.27,817.31L315.22,813.34L317.16,809.11L319.11,804.63L321.05,799.92L323.00,795.00" fill="none" stroke="#471164" stroke-width="1.25" stroke-linejoin="round"/>
<path d="M91.40,799.00L93.35,801.07L95.29,802.97L97.24,804.70L99.18,806.27L101.13,807.68L103.08,808.95L105.02,810.09L106.97,811.10L108.92,811.98L110.86,812.75L112.81,813.42L114.75,813.99L116.70,814.46L118.65,814.86L120.59,815.18L122.54,815.43L124.49,815.63L126.43,815.77L128.38,815.88L130.32,815.94L132.27,815.98L134.22,815.99L136.16,816.00L138.11,815.96L140.06,815.51L142.00,814.60L143.95,813.25L145.89,811.47L147.84,809.31L149.79,806.77L151.73,803.87L153.68,800.66L155.63,797.14L157.57,793.34L159.52,789.29L161.46,785.00L163.41,780.50L165.36,775.81L167.30,770.97L169.25,765.98L171.19,760.87L173.14,755.67L175.09,750.40L177.03,745.08L178.98,739.74L180.93,734.40L182.87,729.08L184.82,723.81L186.76,718.60L188.71,713.49L190.66,708.49L192.60,703.63L194.55,698.93L196.50,694.42L198.44,690.12L200.39,686.04L202.33,682.23L204.28,678.69L206.23,675.45L208.17,672.53L210.12,669.97L212.07,667.77L214.01,665.97L215.96,664.58L217.90,663.64L219.85,663.16L221.80,663.20L223.74,663.96L225.69,665.43L227.64,667.56L229.58,670.33L231.53,673.68L233.47,677.57L235.42,681.97L237.37,686.83L239.31,692.11L241.26,697.76L243.21,703.76L245.15,710.05L247.10,716.60L249.04,723.36L250.99,730.29L252.94,737.35L254.88,744.51L256.83,751.71L258.77,758.92L260.72,766.09L262.67,773.19L264.61,780.17L266.56,786.99L268.51,793.61L270.45,799.99L272.40,806.09L274.34,811.86L276.29,817.27L278.24,822.28L280.18,826.83L282.13,830.89L284.08,834.43L286.02,837.39L287.97,839.74L289.91,841.43L291.86,842.43L293.81,842.69L295.75,842.38L297.70,841.61L299.65,840.39L301.59,838.75L303.54,836.70L305.48,834.27L307.43,831.47L309.38,828.31L311.32,824.83L313.27,821.03L315.22,816.94L317.16,812.57L319.11,807.95L321.05,803.08L323.00,798.00" fill="none" stroke="#440154" stroke-width="1.25" stroke-linejoin="round"/>
</g>
<line x1="219.40" y1="733.90" x2="219.40" y2="650.00" stroke="#000" stroke-width="1.50"/>
<path d="M214.4,652.5 L224.4,652.5 L219.4,639 Z" fill="#000"/>
<rect x="91.40" y="621.80" width="231.60" height="230.90" fill="none" stroke="#000" stroke-width="1.50"/>
<line x1="112.20" y1="852.70" x2="112.20" y2="858.20" stroke="#000" stroke-width="1.20"/>
<line x1="112.20" y1="621.80" x2="112.20" y2="627.30" stroke="#000" stroke-width="1.20"/>
<text transform="translate(112.20,881.00) scale(1.170,1)" font-size="17.50" text-anchor="middle">1.36</text>
<line x1="197.00" y1="852.70" x2="197.00" y2="858.20" stroke="#000" stroke-width="1.20"/>
<line x1="197.00" y1="621.80" x2="197.00" y2="627.30" stroke="#000" stroke-width="1.20"/>
<text transform="translate(197.00,881.00) scale(1.170,1)" font-size="17.50" text-anchor="middle">1.38</text>
<line x1="281.40" y1="852.70" x2="281.40" y2="858.20" stroke="#000" stroke-width="1.20"/>
<line x1="281.40" y1="621.80" x2="281.40" y2="627.30" stroke="#000" stroke-width="1.20"/>
<text transform="translate(281.40,881.00) scale(1.170,1)" font-size="17.50" text-anchor="middle">1.4</text>
<line x1="85.90" y1="688.00" x2="91.40" y2="688.00" stroke="#000" stroke-width="1.20"/>
<line x1="317.50" y1="688.00" x2="323.00" y2="688.00" stroke="#000" stroke-width="1.20"/>
<text transform="translate(78.90,694.20) scale(1.170,1)" font-size="17.50" text-anchor="end">0.4</text>
<line x1="85.90" y1="782.00" x2="91.40" y2="782.00" stroke="#000" stroke-width="1.20"/>
<line x1="317.50" y1="782.00" x2="323.00" y2="782.00" stroke="#000" stroke-width="1.20"/>
<text transform="translate(78.90,788.20) scale(1.170,1)" font-size="17.50" text-anchor="end">0.2</text>
<text transform="translate(33.6,737) scale(0.980,1) rotate(-90)" font-size="20.5" text-anchor="middle"><tspan font-style="italic">G</tspan> (<tspan font-style="italic">e</tspan><tspan font-size="12" dy="-7">2</tspan><tspan dy="7">/</tspan><tspan font-style="italic">h</tspan>)</text>
<text transform="translate(97.5,650.5) scale(1.100,1)" font-size="18.50"><tspan font-style="italic">B</tspan><tspan font-style="italic" font-size="14" dy="6">z</tspan><tspan dy="-6"> = 300 mT</tspan></text>
<text transform="translate(208.50,910.50) scale(0.980,1)" font-size="19.50" text-anchor="middle"><tspan font-style="italic">V</tspan><tspan font-size="14.0" dy="4">g</tspan><tspan dy="-4"> (V)</tspan></text>
<clipPath id="clipf"><rect x="438.00" y="621.70" width="231.50" height="231.00"/></clipPath>
<g clip-path="url(#clipf)">
<path d="M438.00,824.50L439.95,824.41L441.89,824.31L443.84,824.22L445.78,824.13L447.73,824.04L449.67,823.95L451.62,823.86L453.56,823.77L455.51,823.68L457.45,823.59L459.40,823.51L461.34,823.42L463.29,823.33L465.24,823.25L467.18,823.16L469.13,823.08L471.07,822.99L473.02,822.91L474.96,822.83L476.91,822.75L478.85,822.66L480.80,822.58L482.74,822.50L484.69,822.42L486.63,822.34L488.58,822.27L490.53,822.19L492.47,822.11L494.42,822.03L496.36,821.96L498.31,821.88L500.25,821.81L502.20,821.74L504.14,821.66L506.09,821.59L508.03,821.52L509.98,821.45L511.92,821.38L513.87,821.31L515.82,821.24L517.76,821.18L519.71,821.11L521.65,821.04L523.60,820.98L525.54,820.91L527.49,820.85L529.43,820.79L531.38,820.73L533.32,820.66L535.27,820.60L537.21,820.55L539.16,820.49L541.11,820.43L543.05,820.37L545.00,820.32L546.94,820.26L548.89,820.21L550.83,820.15L552.78,820.10L554.72,820.05L556.67,820.00L558.61,819.95L560.56,819.90L562.50,819.86L564.45,819.81L566.39,819.76L568.34,819.72L570.29,819.67L572.23,819.63L574.18,819.59L576.12,819.54L578.07,819.50L580.01,819.46L581.96,819.41L583.90,819.37L585.85,819.33L587.79,819.29L589.74,819.25L591.68,819.20L593.63,819.16L595.58,819.12L597.52,819.08L599.47,819.04L601.41,819.01L603.36,818.97L605.30,818.93L607.25,818.89L609.19,818.85L611.14,818.82L613.08,818.78L615.03,818.74L616.97,818.71L618.92,818.68L620.87,818.64L622.81,818.61L624.76,818.57L626.70,818.54L628.65,818.51L630.59,818.48L632.54,818.45L634.48,818.42L636.43,818.39L638.37,818.36L640.32,818.33L642.26,818.31L644.21,818.28L646.16,818.25L648.10,818.23L650.05,818.20L651.99,818.18L653.94,818.16L655.88,818.13L657.83,818.11L659.77,818.09L661.72,818.07L663.66,818.05L665.61,818.03L667.55,818.02L669.50,818.00" fill="none" stroke="#a8db34" stroke-width="1.25" stroke-linejoin="round"/>
<path d="M438.00,825.40L439.95,825.31L441.89,825.21L443.84,825.12L445.78,825.03L447.73,824.94L449.67,824.85L451.62,824.76L453.56,824.67L455.51,824.58L457.45,824.49L459.40,824.40L461.34,824.31L463.29,824.23L465.24,824.14L467.18,824.05L469.13,823.97L471.07,823.88L473.02,823.80L474.96,823.72L476.91,823.63L478.85,823.55L480.80,823.47L482.74,823.39L484.69,823.31L486.63,823.23L488.58,823.15L490.53,823.07L492.47,822.99L494.42,822.92L496.36,822.84L498.31,822.76L500.25,822.69L502.20,822.61L504.14,822.54L506.09,822.47L508.03,822.40L509.98,822.33L511.92,822.25L513.87,822.18L515.82,822.12L517.76,822.05L519.71,821.98L521.65,821.91L523.60,821.85L525.54,821.78L527.49,821.72L529.43,821.65L531.38,821.59L533.32,821.53L535.27,821.47L537.21,821.41L539.16,821.35L541.11,821.29L543.05,821.23L545.00,821.18L546.94,821.12L548.89,821.07L550.83,821.01L552.78,820.96L554.72,820.91L556.67,820.86L558.61,820.81L560.56,820.76L562.50,820.71L564.45,820.66L566.39,820.61L568.34,820.57L570.29,820.52L572.23,820.48L574.18,820.43L576.12,820.39L578.07,820.34L580.01,820.30L581.96,820.26L583.90,820.21L585.85,820.17L587.79,820.13L589.74,820.08L591.68,820.04L593.63,820.00L595.58,819.96L597.52,819.92L599.47,819.88L601.41,819.84L603.36,819.80L605.30,819.76L607.25,819.72L609.19,819.68L611.14,819.65L613.08,819.61L615.03,819.57L616.97,819.54L618.92,819.50L620.87,819.46L622.81,819.43L624.76,819.40L626.70,819.36L628.65,819.33L630.59,819.30L632.54,819.27L634.48,819.24L636.43,819.21L638.37,819.18L640.32,819.15L642.26,819.12L644.21,819.09L646.16,819.06L648.10,819.04L650.05,819.01L651.99,818.99L653.94,818.96L655.88,818.94L657.83,818.92L659.77,818.90L661.72,818.88L663.66,818.86L665.61,818.84L667.55,818.82L669.50,818.80" fill="none" stroke="#90d743" stroke-width="1.25" stroke-linejoin="round"/>
<path d="M438.00,826.30L439.95,826.21L441.89,826.11L443.84,826.02L445.78,825.93L447.73,825.83L449.67,825.74L451.62,825.65L453.56,825.56L455.51,825.47L457.45,825.38L459.40,825.29L461.34,825.20L463.29,825.12L465.24,825.03L467.18,824.94L469.13,824.86L471.07,824.77L473.02,824.69L474.96,824.60L476.91,824.52L478.85,824.44L480.80,824.35L482.74,824.27L484.69,824.19L486.63,824.11L488.58,824.03L490.53,823.95L492.47,823.87L494.42,823.80L496.36,823.72L498.31,823.64L500.25,823.57L502.20,823.49L504.14,823.42L506.09,823.35L508.03,823.27L509.98,823.20L511.92,823.13L513.87,823.06L515.82,822.99L517.76,822.92L519.71,822.85L521.65,822.78L523.60,822.72L525.54,822.65L527.49,822.59L529.43,822.52L531.38,822.46L533.32,822.40L535.27,822.33L537.21,822.27L539.16,822.21L541.11,822.15L543.05,822.10L545.00,822.04L546.94,821.98L548.89,821.93L550.83,821.87L552.78,821.82L554.72,821.76L556.67,821.71L558.61,821.66L560.56,821.61L562.50,821.56L564.45,821.51L566.39,821.46L568.34,821.42L570.29,821.37L572.23,821.33L574.18,821.28L576.12,821.23L578.07,821.19L580.01,821.14L581.96,821.10L583.90,821.05L585.85,821.01L587.79,820.97L589.74,820.92L591.68,820.88L593.63,820.84L595.58,820.80L597.52,820.75L599.47,820.71L601.41,820.67L603.36,820.63L605.30,820.59L607.25,820.55L609.19,820.51L611.14,820.47L613.08,820.44L615.03,820.40L616.97,820.36L618.92,820.32L620.87,820.29L622.81,820.25L624.76,820.22L626.70,820.18L628.65,820.15L630.59,820.12L632.54,820.09L634.48,820.05L636.43,820.02L638.37,819.99L640.32,819.96L642.26,819.93L644.21,819.90L646.16,819.88L648.10,819.85L650.05,819.82L651.99,819.80L653.94,819.77L655.88,819.75L657.83,819.72L659.77,819.70L661.72,819.68L663.66,819.66L665.61,819.64L667.55,819.62L669.50,819.60" fill="none" stroke="#77d153" stroke-width="1.25" stroke-linejoin="round"/>
<path d="M438.00,827.20L439.95,827.11L441.89,827.01L443.84,826.92L445.78,826.82L447.73,826.73L449.67,826.64L451.62,826.55L453.56,826.46L455.51,826.37L457.45,826.28L459.40,826.19L461.34,826.10L463.29,826.01L465.24,825.92L467.18,825.83L469.13,825.75L471.07,825.66L473.02,825.58L474.96,825.49L476.91,825.41L478.85,825.32L480.80,825.24L482.74,825.16L484.69,825.08L486.63,825.00L488.58,824.91L490.53,824.84L492.47,824.76L494.42,824.68L496.36,824.60L498.31,824.52L500.25,824.45L502.20,824.37L504.14,824.30L506.09,824.22L508.03,824.15L509.98,824.08L511.92,824.00L513.87,823.93L515.82,823.86L517.76,823.79L519.71,823.72L521.65,823.66L523.60,823.59L525.54,823.52L527.49,823.46L529.43,823.39L531.38,823.33L533.32,823.26L535.27,823.20L537.21,823.14L539.16,823.08L541.11,823.02L543.05,822.96L545.00,822.90L546.94,822.84L548.89,822.79L550.83,822.73L552.78,822.67L554.72,822.62L556.67,822.57L558.61,822.51L560.56,822.46L562.50,822.41L564.45,822.36L566.39,822.31L568.34,822.27L570.29,822.22L572.23,822.17L574.18,822.13L576.12,822.08L578.07,822.03L580.01,821.99L581.96,821.94L583.90,821.90L585.85,821.85L587.79,821.81L589.74,821.76L591.68,821.72L593.63,821.67L595.58,821.63L597.52,821.59L599.47,821.55L601.41,821.50L603.36,821.46L605.30,821.42L607.25,821.38L609.19,821.34L611.14,821.30L613.08,821.26L615.03,821.22L616.97,821.19L618.92,821.15L620.87,821.11L622.81,821.08L624.76,821.04L626.70,821.01L628.65,820.97L630.59,820.94L632.54,820.90L634.48,820.87L636.43,820.84L638.37,820.81L640.32,820.78L642.26,820.75L644.21,820.72L646.16,820.69L648.10,820.66L650.05,820.63L651.99,820.61L653.94,820.58L655.88,820.55L657.83,820.53L659.77,820.51L661.72,820.48L663.66,820.46L665.61,820.44L667.55,820.42L669.50,820.40" fill="none" stroke="#60ca60" stroke-width="1.25" stroke-linejoin="round"/>
<path d="M438.00,828.10L439.95,828.00L441.89,827.91L443.84,827.82L445.78,827.72L447.73,827.63L449.67,827.54L451.62,827.44L453.56,827.35L455.51,827.26L457.45,827.17L459.40,827.08L461.34,826.99L463.29,826.90L465.24,826.81L467.18,826.72L469.13,826.64L471.07,826.55L473.02,826.46L474.96,826.38L476.91,826.29L478.85,826.21L480.80,826.13L482.74,826.04L484.69,825.96L486.63,825.88L488.58,825.80L490.53,825.72L492.47,825.64L494.42,825.56L496.36,825.48L498.31,825.40L500.25,825.33L502.20,825.25L504.14,825.17L506.09,825.10L508.03,825.02L509.98,824.95L511.92,824.88L513.87,824.81L515.82,824.74L517.76,824.66L519.71,824.59L521.65,824.53L523.60,824.46L525.54,824.39L527.49,824.32L529.43,824.26L531.38,824.19L533.32,824.13L535.27,824.06L537.21,824.00L539.16,823.94L541.11,823.88L543.05,823.82L545.00,823.76L546.94,823.70L548.89,823.64L550.83,823.59L552.78,823.53L554.72,823.48L556.67,823.42L558.61,823.37L560.56,823.32L562.50,823.27L564.45,823.21L566.39,823.17L568.34,823.12L570.29,823.07L572.23,823.02L574.18,822.97L576.12,822.92L578.07,822.88L580.01,822.83L581.96,822.78L583.90,822.74L585.85,822.69L587.79,822.65L589.74,822.60L591.68,822.56L593.63,822.51L595.58,822.47L597.52,822.42L599.47,822.38L601.41,822.34L603.36,822.29L605.30,822.25L607.25,822.21L609.19,822.17L611.14,822.13L613.08,822.09L615.03,822.05L616.97,822.01L618.92,821.97L620.87,821.94L622.81,821.90L624.76,821.86L626.70,821.83L628.65,821.79L630.59,821.76L632.54,821.72L634.48,821.69L636.43,821.66L638.37,821.62L640.32,821.59L642.26,821.56L644.21,821.53L646.16,821.50L648.10,821.47L650.05,821.44L651.99,821.41L653.94,821.39L655.88,821.36L657.83,821.34L659.77,821.31L661.72,821.29L663.66,821.26L665.61,821.24L667.55,821.22L669.50,821.20" fill="none" stroke="#4cc26c" stroke-width="1.25" stroke-linejoin="round"/>
<path d="M438.00,829.00L439.95,828.90L441.89,828.81L443.84,828.71L445.78,828.62L447.73,828.52L449.67,828.43L451.62,828.34L453.56,828.25L455.51,828.15L457.45,828.06L459.40,827.97L461.34,827.88L463.29,827.79L465.24,827.70L467.18,827.61L469.13,827.53L471.07,827.44L473.02,827.35L474.96,827.27L476.91,827.18L478.85,827.10L480.80,827.01L482.74,826.93L484.69,826.84L486.63,826.76L488.58,826.68L490.53,826.60L492.47,826.52L494.42,826.44L496.36,826.36L498.31,826.28L500.25,826.20L502.20,826.13L504.14,826.05L506.09,825.98L508.03,825.90L509.98,825.83L511.92,825.75L513.87,825.68L515.82,825.61L517.76,825.54L519.71,825.47L521.65,825.40L523.60,825.33L525.54,825.26L527.49,825.19L529.43,825.13L531.38,825.06L533.32,824.99L535.27,824.93L537.21,824.87L539.16,824.80L541.11,824.74L543.05,824.68L545.00,824.62L546.94,824.56L548.89,824.50L550.83,824.45L552.78,824.39L554.72,824.33L556.67,824.28L558.61,824.22L560.56,824.17L562.50,824.12L564.45,824.07L566.39,824.02L568.34,823.97L570.29,823.92L572.23,823.87L574.18,823.82L576.12,823.77L578.07,823.72L580.01,823.67L581.96,823.63L583.90,823.58L585.85,823.53L587.79,823.48L589.74,823.44L591.68,823.39L593.63,823.35L595.58,823.30L597.52,823.26L599.47,823.21L601.41,823.17L603.36,823.13L605.30,823.08L607.25,823.04L609.19,823.00L611.14,822.96L613.08,822.92L615.03,822.88L616.97,822.84L618.92,822.80L620.87,822.76L622.81,822.72L624.76,822.68L626.70,822.65L628.65,822.61L630.59,822.58L632.54,822.54L634.48,822.51L636.43,822.47L638.37,822.44L640.32,822.41L642.26,822.37L644.21,822.34L646.16,822.31L648.10,822.28L650.05,822.25L651.99,822.22L653.94,822.20L655.88,822.17L657.83,822.14L659.77,822.12L661.72,822.09L663.66,822.07L665.61,822.04L667.55,822.02L669.50,822.00" fill="none" stroke="#3bbb75" stroke-width="1.25" stroke-linejoin="round"/>
<path d="M438.00,829.90L439.95,829.47L441.89,829.04L443.84,828.61L445.78,828.20L447.73,827.79L449.67,827.38L451.62,826.98L453.56,826.59L455.51,826.20L457.45,825.82L459.40,825.45L461.34,825.08L463.29,824.72L465.24,824.36L467.18,824.01L469.13,823.66L471.07,823.33L473.02,823.00L474.96,822.67L476.91,822.35L478.85,822.04L480.80,821.73L482.74,821.43L484.69,821.14L486.63,820.85L488.58,820.57L490.53,820.29L492.47,820.03L494.42,819.77L496.36,819.51L498.31,819.26L500.25,819.02L502.20,818.78L504.14,818.56L506.09,818.33L508.03,818.12L509.98,817.91L511.92,817.71L513.87,817.51L515.82,817.32L517.76,817.14L519.71,816.97L521.65,816.80L523.60,816.64L525.54,816.48L527.49,816.33L529.43,816.19L531.38,816.06L533.32,815.93L535.27,815.81L537.21,815.70L539.16,815.59L541.11,815.49L543.05,815.40L545.00,815.31L546.94,815.24L548.89,815.17L550.83,815.10L552.78,815.04L554.72,815.00L556.67,814.95L558.61,814.92L560.56,814.89L562.50,814.87L564.45,814.86L566.39,814.85L568.34,814.85L570.29,814.86L572.23,814.87L574.18,814.89L576.12,814.91L578.07,814.93L580.01,814.97L581.96,815.00L583.90,815.05L585.85,815.09L587.79,815.15L589.74,815.21L591.68,815.27L593.63,815.34L595.58,815.42L597.52,815.50L599.47,815.59L601.41,815.68L603.36,815.78L605.30,815.88L607.25,815.99L609.19,816.11L611.14,816.23L613.08,816.36L615.03,816.49L616.97,816.63L618.92,816.78L620.87,816.93L622.81,817.09L624.76,817.25L626.70,817.42L628.65,817.60L630.59,817.78L632.54,817.97L634.48,818.17L636.43,818.37L638.37,818.58L640.32,818.79L642.26,819.01L644.21,819.24L646.16,819.47L648.10,819.71L650.05,819.96L651.99,820.21L653.94,820.47L655.88,820.74L657.83,821.02L659.77,821.30L661.72,821.58L663.66,821.88L665.61,822.18L667.55,822.49L669.50,822.80" fill="none" stroke="#2db27d" stroke-width="1.25" stroke-linejoin="round"/>
<path d="M438.00,818.00L439.95,817.97L441.89,817.94L443.84,817.89L445.78,817.84L447.73,817.78L449.67,817.71L451.62,817.63L453.56,817.54L455.51,817.45L457.45,817.36L459.40,817.26L461.34,817.15L463.29,817.04L465.24,816.93L467.18,816.82L469.13,816.70L471.07,816.58L473.02,816.45L474.96,816.30L476.91,816.14L478.85,815.96L480.80,815.77L482.74,815.57L484.69,815.36L486.63,815.15L488.58,814.93L490.53,814.70L492.47,814.47L494.42,814.23L496.36,813.99L498.31,813.75L500.25,813.51L502.20,813.26L504.14,813.00L506.09,812.72L508.03,812.43L509.98,812.14L511.92,811.84L513.87,811.53L515.82,811.23L517.76,810.93L519.71,810.64L521.65,810.36L523.60,810.09L525.54,809.80L527.49,809.51L529.43,809.19L531.38,808.87L533.32,808.54L535.27,808.21L537.21,807.88L539.16,807.54L541.11,807.21L543.05,806.89L545.00,806.58L546.94,806.27L548.89,805.99L550.83,805.71L552.78,805.46L554.72,805.24L556.67,805.03L558.61,804.86L560.56,804.72L562.50,804.61L564.45,804.54L566.39,804.50L568.34,804.51L570.29,804.54L572.23,804.61L574.18,804.70L576.12,804.82L578.07,804.96L580.01,805.13L581.96,805.32L583.90,805.52L585.85,805.74L587.79,805.98L589.74,806.23L591.68,806.49L593.63,806.77L595.58,807.05L597.52,807.34L599.47,807.63L601.41,807.93L603.36,808.23L605.30,808.53L607.25,808.83L609.19,809.12L611.14,809.41L613.08,809.69L615.03,809.97L616.97,810.23L618.92,810.49L620.87,810.72L622.81,810.95L624.76,811.16L626.70,811.34L628.65,811.51L630.59,811.66L632.54,811.78L634.48,811.88L636.43,811.95L638.37,811.99L640.32,812.00L642.26,811.99L644.21,811.98L646.16,811.96L648.10,811.93L650.05,811.90L651.99,811.85L653.94,811.80L655.88,811.73L657.83,811.66L659.77,811.57L661.72,811.48L663.66,811.38L665.61,811.26L667.55,811.14L669.50,811.00" fill="none" stroke="#23a983" stroke-width="1.25" stroke-linejoin="round"/>
<path d="M438.00,807.00L439.95,806.93L441.89,806.84L443.84,806.72L445.78,806.59L447.73,806.42L449.67,806.24L451.62,806.04L453.56,805.83L455.51,805.59L457.45,805.35L459.40,805.09L461.34,804.82L463.29,804.54L465.24,804.26L467.18,803.96L469.13,803.66L471.07,803.36L473.02,803.01L474.96,802.63L476.91,802.21L478.85,801.75L480.80,801.27L482.74,800.76L484.69,800.23L486.63,799.67L488.58,799.10L490.53,798.51L492.47,797.91L494.42,797.31L496.36,796.70L498.31,796.08L500.25,795.47L502.20,794.83L504.14,794.15L506.09,793.43L508.03,792.69L509.98,791.93L511.92,791.16L513.87,790.38L515.82,789.61L517.76,788.84L519.71,788.09L521.65,787.36L523.60,786.66L525.54,785.93L527.49,785.17L529.43,784.37L531.38,783.54L533.32,782.70L535.27,781.84L537.21,780.98L539.16,780.12L541.11,779.28L543.05,778.44L545.00,777.64L546.94,776.86L548.89,776.12L550.83,775.42L552.78,774.78L554.72,774.19L556.67,773.67L558.61,773.23L560.56,772.86L562.50,772.58L564.45,772.39L566.39,772.31L568.34,772.31L570.29,772.39L572.23,772.52L574.18,772.70L576.12,772.93L578.07,773.21L580.01,773.53L581.96,773.90L583.90,774.30L585.85,774.73L587.79,775.20L589.74,775.69L591.68,776.21L593.63,776.74L595.58,777.29L597.52,777.86L599.47,778.44L601.41,779.02L603.36,779.61L605.30,780.19L607.25,780.78L609.19,781.36L611.14,781.92L613.08,782.48L615.03,783.02L616.97,783.54L618.92,784.03L620.87,784.50L622.81,784.94L624.76,785.34L626.70,785.71L628.65,786.04L630.59,786.33L632.54,786.57L634.48,786.76L636.43,786.90L638.37,786.98L640.32,787.00L642.26,787.00L644.21,787.00L646.16,786.99L648.10,786.98L650.05,786.96L651.99,786.93L653.94,786.89L655.88,786.84L657.83,786.78L659.77,786.70L661.72,786.60L663.66,786.48L665.61,786.35L667.55,786.18L669.50,786.00" fill="none" stroke="#1fa188" stroke-width="1.25" stroke-linejoin="round"/>
<path d="M438.00,805.00L439.95,804.90L441.89,804.76L443.84,804.58L445.78,804.36L447.73,804.11L449.67,803.83L451.62,803.53L453.56,803.19L455.51,802.84L457.45,802.46L459.40,802.06L461.34,801.65L463.29,801.22L465.24,800.78L467.18,800.33L469.13,799.87L471.07,799.39L473.02,798.86L474.96,798.27L476.91,797.62L478.85,796.93L480.80,796.18L482.74,795.40L484.69,794.57L486.63,793.72L488.58,792.84L490.53,791.94L492.47,791.02L494.42,790.08L496.36,789.14L498.31,788.20L500.25,787.26L502.20,786.27L504.14,785.22L506.09,784.12L508.03,782.98L509.98,781.81L511.92,780.62L513.87,779.43L515.82,778.23L517.76,777.05L519.71,775.90L521.65,774.78L523.60,773.70L525.54,772.58L527.49,771.40L529.43,770.17L531.38,768.90L533.32,767.60L535.27,766.28L537.21,764.96L539.16,763.64L541.11,762.33L543.05,761.05L545.00,759.81L546.94,758.61L548.89,757.48L550.83,756.41L552.78,755.41L554.72,754.51L556.67,753.71L558.61,753.03L560.56,752.46L562.50,752.03L564.45,751.74L566.39,751.61L568.34,751.62L570.29,751.74L572.23,751.94L574.18,752.23L576.12,752.60L578.07,753.05L580.01,753.57L581.96,754.14L583.90,754.78L585.85,755.47L587.79,756.21L589.74,757.00L591.68,757.82L593.63,758.67L595.58,759.55L597.52,760.45L599.47,761.37L601.41,762.30L603.36,763.23L605.30,764.17L607.25,765.10L609.19,766.02L611.14,766.92L613.08,767.80L615.03,768.66L616.97,769.48L618.92,770.27L620.87,771.02L622.81,771.72L624.76,772.37L626.70,772.95L628.65,773.48L630.59,773.93L632.54,774.32L634.48,774.62L636.43,774.84L638.37,774.97L640.32,775.00L642.26,774.97L644.21,774.88L646.16,774.75L648.10,774.58L650.05,774.36L651.99,774.09L653.94,773.79L655.88,773.44L657.83,773.05L659.77,772.63L661.72,772.17L663.66,771.68L665.61,771.15L667.55,770.59L669.50,770.00" fill="none" stroke="#1f978b" stroke-width="1.25" stroke-linejoin="round"/>
<path d="M438.00,807.20L439.95,807.07L441.89,806.89L443.84,806.66L445.78,806.38L447.73,806.07L449.67,805.71L451.62,805.32L453.56,804.89L455.51,804.44L457.45,803.95L459.40,803.44L461.34,802.91L463.29,802.37L465.24,801.80L467.18,801.23L469.13,800.64L471.07,800.04L473.02,799.36L474.96,798.60L476.91,797.77L478.85,796.88L480.80,795.93L482.74,794.93L484.69,793.88L486.63,792.78L488.58,791.66L490.53,790.51L492.47,789.33L494.42,788.14L496.36,786.93L498.31,785.73L500.25,784.52L502.20,783.26L504.14,781.93L506.09,780.52L508.03,779.07L509.98,777.58L511.92,776.07L513.87,774.54L515.82,773.01L517.76,771.50L519.71,770.02L521.65,768.58L523.60,767.19L525.54,765.74L527.49,764.20L529.43,762.60L531.38,760.94L533.32,759.24L535.27,757.52L537.21,755.79L539.16,754.07L541.11,752.36L543.05,750.70L545.00,749.08L546.94,747.53L548.89,746.06L550.83,744.69L552.78,743.43L554.72,742.29L556.67,741.29L558.61,740.46L560.56,739.79L562.50,739.30L564.45,739.02L566.39,738.95L568.34,739.04L570.29,739.24L572.23,739.55L574.18,739.96L576.12,740.47L578.07,741.06L580.01,741.75L581.96,742.51L583.90,743.34L585.85,744.24L587.79,745.20L589.74,746.21L591.68,747.27L593.63,748.37L595.58,749.50L597.52,750.67L599.47,751.85L601.41,753.05L603.36,754.26L605.30,755.48L607.25,756.69L609.19,757.89L611.14,759.08L613.08,760.25L615.03,761.39L616.97,762.49L618.92,763.56L620.87,764.58L622.81,765.55L624.76,766.46L626.70,767.30L628.65,768.07L630.59,768.77L632.54,769.39L634.48,769.91L636.43,770.34L638.37,770.67L640.32,770.89L642.26,770.99L644.21,770.95L646.16,770.66L648.10,770.12L650.05,769.38L651.99,768.43L653.94,767.32L655.88,766.05L657.83,764.66L659.77,763.15L661.72,761.57L663.66,759.91L665.61,758.22L667.55,756.51L669.50,754.80" fill="none" stroke="#218e8d" stroke-width="1.25" stroke-linejoin="round"/>
<path d="M438.00,805.40L439.95,805.25L441.89,805.05L443.84,804.79L445.78,804.48L447.73,804.12L449.67,803.72L451.62,803.28L453.56,802.80L455.51,802.29L457.45,801.74L459.40,801.17L461.34,800.58L463.29,799.96L465.24,799.33L467.18,798.68L469.13,798.02L471.07,797.34L473.02,796.57L474.96,795.72L476.91,794.79L478.85,793.79L480.80,792.72L482.74,791.59L484.69,790.41L486.63,789.18L488.58,787.91L490.53,786.61L492.47,785.29L494.42,783.95L496.36,782.59L498.31,781.24L500.25,779.88L502.20,778.46L504.14,776.96L506.09,775.38L508.03,773.75L509.98,772.07L511.92,770.37L513.87,768.65L515.82,766.93L517.76,765.23L519.71,763.56L521.65,761.94L523.60,760.38L525.54,758.74L527.49,757.02L529.43,755.21L531.38,753.34L533.32,751.43L535.27,749.50L537.21,747.55L539.16,745.61L541.11,743.69L543.05,741.82L545.00,740.00L546.94,738.26L548.89,736.60L550.83,735.06L552.78,733.64L554.72,732.36L556.67,731.24L558.61,730.29L560.56,729.54L562.50,729.00L564.45,728.68L566.39,728.60L568.34,728.71L570.29,728.95L572.23,729.32L574.18,729.82L576.12,730.44L578.07,731.17L580.01,732.00L581.96,732.92L583.90,733.93L585.85,735.02L587.79,736.18L589.74,737.41L591.68,738.70L593.63,740.03L595.58,741.41L597.52,742.82L599.47,744.26L601.41,745.71L603.36,747.18L605.30,748.66L607.25,750.13L609.19,751.59L611.14,753.03L613.08,754.45L615.03,755.83L616.97,757.17L618.92,758.47L620.87,759.70L622.81,760.88L624.76,761.98L626.70,763.01L628.65,763.95L630.59,764.80L632.54,765.54L634.48,766.18L636.43,766.70L638.37,767.10L640.32,767.36L642.26,767.49L644.21,767.45L646.16,767.19L648.10,766.72L650.05,766.05L651.99,765.20L653.94,764.20L655.88,763.05L657.83,761.78L659.77,760.40L661.72,758.94L663.66,757.41L665.61,755.84L667.55,754.22L669.50,752.60" fill="none" stroke="#25858e" stroke-width="1.25" stroke-linejoin="round"/>
<path d="M438.00,803.60L439.95,803.45L441.89,803.25L443.84,802.99L445.78,802.68L447.73,802.32L449.67,801.91L451.62,801.47L453.56,800.99L455.51,800.47L457.45,799.92L459.40,799.35L461.34,798.75L463.29,798.13L465.24,797.49L467.18,796.83L469.13,796.17L471.07,795.49L473.02,794.72L474.96,793.86L476.91,792.92L478.85,791.91L480.80,790.83L482.74,789.70L484.69,788.51L486.63,787.27L488.58,786.00L490.53,784.69L492.47,783.36L494.42,782.01L496.36,780.65L498.31,779.28L500.25,777.91L502.20,776.49L504.14,774.97L506.09,773.39L508.03,771.74L509.98,770.05L511.92,768.34L513.87,766.61L515.82,764.88L517.76,763.17L519.71,761.49L521.65,759.86L523.60,758.28L525.54,756.64L527.49,754.90L529.43,753.08L531.38,751.21L533.32,749.28L535.27,747.33L537.21,745.37L539.16,743.42L541.11,741.49L543.05,739.61L545.00,737.77L546.94,736.02L548.89,734.36L550.83,732.80L552.78,731.37L554.72,730.08L556.67,728.96L558.61,728.00L560.56,727.25L562.50,726.70L564.45,726.38L566.39,726.30L568.34,726.40L570.29,726.64L572.23,727.00L574.18,727.49L576.12,728.08L578.07,728.79L580.01,729.59L581.96,730.49L583.90,731.47L585.85,732.52L587.79,733.65L589.74,734.84L591.68,736.09L593.63,737.38L595.58,738.71L597.52,740.08L599.47,741.47L601.41,742.89L603.36,744.31L605.30,745.74L607.25,747.16L609.19,748.58L611.14,749.98L613.08,751.35L615.03,752.69L616.97,753.99L618.92,755.25L620.87,756.45L622.81,757.58L624.76,758.65L626.70,759.65L628.65,760.56L630.59,761.38L632.54,762.10L634.48,762.72L636.43,763.22L638.37,763.61L640.32,763.87L642.26,763.99L644.21,763.96L646.16,763.72L648.10,763.29L650.05,762.69L651.99,761.92L653.94,761.00L655.88,759.96L657.83,758.80L659.77,757.55L661.72,756.22L663.66,754.82L665.61,753.37L667.55,751.90L669.50,750.40" fill="none" stroke="#287c8e" stroke-width="1.25" stroke-linejoin="round"/>
<path d="M438.00,801.80L439.95,801.63L441.89,801.40L443.84,801.10L445.78,800.75L447.73,800.34L449.67,799.88L451.62,799.37L453.56,798.82L455.51,798.23L457.45,797.60L459.40,796.95L461.34,796.26L463.29,795.56L465.24,794.83L467.18,794.08L469.13,793.33L471.07,792.55L473.02,791.67L474.96,790.69L476.91,789.62L478.85,788.47L480.80,787.24L482.74,785.95L484.69,784.59L486.63,783.18L488.58,781.73L490.53,780.24L492.47,778.72L494.42,777.18L496.36,775.62L498.31,774.07L500.25,772.51L502.20,770.88L504.14,769.16L506.09,767.35L508.03,765.47L509.98,763.55L511.92,761.59L513.87,759.62L515.82,757.65L517.76,755.70L519.71,753.78L521.65,751.92L523.60,750.12L525.54,748.25L527.49,746.27L529.43,744.19L531.38,742.05L533.32,739.86L535.27,737.64L537.21,735.40L539.16,733.18L541.11,730.98L543.05,728.82L545.00,726.74L546.94,724.73L548.89,722.84L550.83,721.06L552.78,719.43L554.72,717.96L556.67,716.68L558.61,715.59L560.56,714.73L562.50,714.11L564.45,713.74L566.39,713.65L568.34,713.78L570.29,714.07L572.23,714.52L574.18,715.12L576.12,715.87L578.07,716.74L580.01,717.74L581.96,718.85L583.90,720.07L585.85,721.38L587.79,722.79L589.74,724.26L591.68,725.81L593.63,727.42L595.58,729.08L597.52,730.78L599.47,732.51L601.41,734.26L603.36,736.03L605.30,737.81L607.25,739.58L609.19,741.34L611.14,743.07L613.08,744.78L615.03,746.45L616.97,748.06L618.92,749.62L620.87,751.11L622.81,752.53L624.76,753.86L626.70,755.09L628.65,756.22L630.59,757.24L632.54,758.14L634.48,758.91L636.43,759.53L638.37,760.01L640.32,760.33L642.26,760.49L644.21,760.46L646.16,760.26L648.10,759.89L650.05,759.37L651.99,758.70L653.94,757.90L655.88,756.98L657.83,755.96L659.77,754.83L661.72,753.63L663.66,752.35L665.61,751.01L667.55,749.62L669.50,748.20" fill="none" stroke="#2c728e" stroke-width="1.25" stroke-linejoin="round"/>
<path d="M438.00,800.00L439.95,799.83L441.89,799.59L443.84,799.29L445.78,798.93L447.73,798.51L449.67,798.04L451.62,797.52L453.56,796.96L455.51,796.36L457.45,795.73L459.40,795.06L461.34,794.36L463.29,793.64L465.24,792.90L467.18,792.14L469.13,791.37L471.07,790.57L473.02,789.68L474.96,788.68L476.91,787.60L478.85,786.42L480.80,785.17L482.74,783.85L484.69,782.47L486.63,781.03L488.58,779.55L490.53,778.03L492.47,776.49L494.42,774.92L496.36,773.33L498.31,771.75L500.25,770.16L502.20,768.50L504.14,766.75L506.09,764.90L508.03,762.99L509.98,761.03L511.92,759.04L513.87,757.03L515.82,755.02L517.76,753.03L519.71,751.08L521.65,749.19L523.60,747.36L525.54,745.45L527.49,743.43L529.43,741.31L531.38,739.13L533.32,736.90L535.27,734.64L537.21,732.36L539.16,730.09L541.11,727.85L543.05,725.66L545.00,723.53L546.94,721.49L548.89,719.56L550.83,717.75L552.78,716.09L554.72,714.59L556.67,713.28L558.61,712.18L560.56,711.30L562.50,710.66L564.45,710.29L566.39,710.20L568.34,710.33L570.29,710.62L572.23,711.07L574.18,711.67L576.12,712.41L578.07,713.29L580.01,714.29L581.96,715.40L583.90,716.61L585.85,717.93L587.79,719.33L589.74,720.80L591.68,722.35L593.63,723.95L595.58,725.61L597.52,727.31L599.47,729.04L601.41,730.79L603.36,732.56L605.30,734.33L607.25,736.10L609.19,737.86L611.14,739.59L613.08,741.30L615.03,742.96L616.97,744.58L618.92,746.13L620.87,747.62L622.81,749.04L624.76,750.36L626.70,751.60L628.65,752.73L630.59,753.75L632.54,754.64L634.48,755.41L636.43,756.04L638.37,756.51L640.32,756.83L642.26,756.99L644.21,756.97L646.16,756.79L648.10,756.47L650.05,756.01L651.99,755.42L653.94,754.72L655.88,753.91L657.83,753.00L659.77,752.00L661.72,750.92L663.66,749.77L665.61,748.56L667.55,747.30L669.50,746.00" fill="none" stroke="#306a8e" stroke-width="1.25" stroke-linejoin="round"/>
<path d="M438.00,815.75L439.95,815.85L441.89,815.92L443.84,815.92L445.78,815.86L447.73,815.75L449.67,815.58L451.62,815.36L453.56,815.11L455.51,814.81L457.45,814.48L459.40,814.10L461.34,813.63L463.29,812.99L465.24,812.24L467.18,811.43L469.13,810.55L471.07,809.63L473.02,808.67L474.96,807.60L476.91,806.44L478.85,805.20L480.80,803.88L482.74,802.50L484.69,800.93L486.63,799.19L488.58,797.28L490.53,795.23L492.47,793.05L494.42,790.77L496.36,788.41L498.31,785.98L500.25,783.50L502.20,781.00L504.14,778.43L506.09,775.80L508.03,773.13L509.98,770.37L511.92,767.47L513.87,764.48L515.82,761.40L517.76,758.28L519.71,755.14L521.65,752.00L523.60,748.90L525.54,745.85L527.49,742.77L529.43,739.63L531.38,736.36L533.32,733.00L535.27,729.61L537.21,726.24L539.16,722.96L541.11,719.81L543.05,716.82L545.00,713.86L546.94,711.00L548.89,708.28L550.83,705.80L552.78,703.61L554.72,701.77L556.67,700.11L558.61,698.61L560.56,697.34L562.50,696.33L564.45,695.64L566.39,695.26L568.34,695.64L570.29,696.49L572.23,697.71L574.18,699.19L576.12,700.84L578.07,702.57L580.01,704.35L581.96,706.58L583.90,709.26L585.85,712.32L587.79,715.69L589.74,719.29L591.68,723.06L593.63,726.92L595.58,730.80L597.52,734.63L599.47,738.34L601.41,741.86L603.36,745.12L605.30,748.17L607.25,751.38L609.19,754.74L611.14,758.21L613.08,761.76L615.03,765.33L616.97,768.90L618.92,772.43L620.87,775.87L622.81,779.18L624.76,782.33L626.70,785.28L628.65,787.99L630.59,790.42L632.54,792.52L634.48,794.27L636.43,795.62L638.37,796.53L640.32,796.97L642.26,796.90L644.21,796.37L646.16,795.38L648.10,793.96L650.05,792.11L651.99,789.86L653.94,787.22L655.88,784.19L657.83,780.80L659.77,777.06L661.72,772.99L663.66,768.59L665.61,763.88L667.55,758.88L669.50,753.60" fill="none" stroke="#34608d" stroke-width="1.25" stroke-linejoin="round"/>
<path d="M438.00,819.53L439.95,819.51L441.89,819.45L443.84,819.36L445.78,819.24L447.73,819.08L449.67,818.90L451.62,818.70L453.56,818.40L455.51,817.99L457.45,817.49L459.40,816.91L461.34,816.25L463.29,815.45L465.24,814.56L467.18,813.59L469.13,812.53L471.07,811.40L473.02,810.20L474.96,808.95L476.91,807.56L478.85,805.97L480.80,804.18L482.74,802.22L484.69,800.12L486.63,797.89L488.58,795.55L490.53,793.13L492.47,790.65L494.42,788.12L496.36,785.56L498.31,782.95L500.25,780.30L502.20,777.60L504.14,774.77L506.09,771.81L508.03,768.75L509.98,765.62L511.92,762.44L513.87,759.25L515.82,756.07L517.76,752.93L519.71,749.82L521.65,746.68L523.60,743.42L525.54,740.06L527.49,736.65L529.43,733.27L531.38,729.96L533.32,726.79L535.27,723.81L537.21,720.92L539.16,718.07L541.11,715.36L543.05,712.86L545.00,710.64L546.94,708.80L548.89,707.22L550.83,705.77L552.78,704.49L554.72,703.44L556.67,702.68L558.61,702.26L560.56,702.32L562.50,702.97L564.45,704.01L566.39,705.34L568.34,706.88L570.29,708.52L572.23,710.18L574.18,712.14L576.12,714.58L578.07,717.42L580.01,720.59L581.96,724.01L583.90,727.62L585.85,731.33L587.79,735.08L589.74,738.79L591.68,742.39L593.63,745.81L595.58,748.97L597.52,751.81L599.47,754.66L601.41,757.63L603.36,760.68L605.30,763.80L607.25,766.95L609.19,770.11L611.14,773.24L613.08,776.34L615.03,779.35L616.97,782.27L618.92,785.06L620.87,787.69L622.81,790.15L624.76,792.39L626.70,794.40L628.65,796.14L630.59,797.59L632.54,798.73L634.48,799.52L636.43,799.94L638.37,799.96L640.32,799.63L642.26,798.96L644.21,797.96L646.16,796.63L648.10,794.98L650.05,793.03L651.99,790.78L653.94,788.23L655.88,785.41L657.83,782.30L659.77,778.94L661.72,775.31L663.66,771.44L665.61,767.32L667.55,762.97L669.50,758.40" fill="none" stroke="#39558c" stroke-width="1.25" stroke-linejoin="round"/>
<path d="M438.00,824.62L439.95,824.78L441.89,824.93L443.84,825.06L445.78,825.16L447.73,825.21L449.67,825.24L451.62,825.23L453.56,825.19L455.51,825.13L457.45,825.04L459.40,824.93L461.34,824.78L463.29,824.37L465.24,823.77L467.18,823.05L469.13,822.22L471.07,821.28L473.02,820.27L474.96,819.18L476.91,817.99L478.85,816.71L480.80,815.36L482.74,813.94L484.69,812.46L486.63,810.73L488.58,808.72L490.53,806.46L492.47,803.97L494.42,801.29L496.36,798.45L498.31,795.46L500.25,792.38L502.20,789.21L504.14,785.99L506.09,782.73L508.03,779.42L509.98,776.10L511.92,772.68L513.87,769.07L515.82,765.30L517.76,761.40L519.71,757.42L521.65,753.37L523.60,749.31L525.54,745.26L527.49,741.26L529.43,737.28L531.38,733.26L533.32,729.08L535.27,724.81L537.21,720.52L539.16,716.30L541.11,712.23L543.05,708.40L545.00,704.83L546.94,701.29L548.89,697.86L550.83,694.62L552.78,691.71L554.72,689.23L556.67,687.26L558.61,685.49L560.56,683.86L562.50,682.46L564.45,681.36L566.39,680.63L568.34,680.31L570.29,680.75L572.23,681.76L574.18,683.22L576.12,685.00L578.07,686.99L580.01,689.07L581.96,691.20L583.90,693.87L585.85,697.08L587.79,700.74L589.74,704.77L591.68,709.10L593.63,713.62L595.58,718.26L597.52,722.94L599.47,727.57L601.41,732.06L603.36,736.34L605.30,740.32L607.25,744.05L609.19,747.99L611.14,752.13L613.08,756.42L615.03,760.80L616.97,765.23L618.92,769.65L620.87,774.01L622.81,778.25L624.76,782.33L626.70,786.19L628.65,789.79L630.59,793.06L632.54,795.95L634.48,798.42L636.43,800.41L638.37,801.87L640.32,802.75L642.26,803.00L644.21,802.73L646.16,802.05L648.10,800.95L650.05,799.46L651.99,797.56L653.94,795.26L655.88,792.57L657.83,789.50L659.77,786.04L661.72,782.21L663.66,778.00L665.61,773.43L667.55,768.49L669.50,763.20" fill="none" stroke="#3e4c8a" stroke-width="1.25" stroke-linejoin="round"/>
<path d="M438.00,830.54L439.95,830.68L441.89,830.81L443.84,830.92L445.78,831.02L447.73,831.10L449.67,831.18L451.62,831.25L453.56,831.30L455.51,831.23L457.45,831.03L459.40,830.69L461.34,830.23L463.29,829.56L465.24,828.73L467.18,827.83L469.13,826.84L471.07,825.79L473.02,824.67L474.96,823.50L476.91,822.30L478.85,820.95L480.80,819.31L482.74,817.41L484.69,815.28L486.63,812.95L488.58,810.45L490.53,807.80L492.47,805.02L494.42,802.16L496.36,799.24L498.31,796.27L500.25,793.28L502.20,790.29L504.14,787.28L506.09,784.09L508.03,780.74L509.98,777.24L511.92,773.64L513.87,769.96L515.82,766.24L517.76,762.51L519.71,758.80L521.65,755.13L523.60,751.49L525.54,747.73L527.49,743.86L529.43,739.96L531.38,736.10L533.32,732.38L535.27,728.86L537.21,725.62L539.16,722.50L541.11,719.41L543.05,716.47L545.00,713.79L546.94,711.49L548.89,709.66L550.83,708.17L552.78,706.75L554.72,705.49L556.67,704.45L558.61,703.72L560.56,703.35L562.50,703.47L564.45,704.14L566.39,705.22L568.34,706.61L570.29,708.22L572.23,709.94L574.18,711.67L576.12,713.72L578.07,716.25L580.01,719.21L581.96,722.52L583.90,726.09L585.85,729.86L587.79,733.75L589.74,737.68L591.68,741.58L593.63,745.37L595.58,748.98L597.52,752.33L599.47,755.35L601.41,758.39L603.36,761.56L605.30,764.83L607.25,768.17L609.19,771.55L611.14,774.95L613.08,778.32L615.03,781.64L616.97,784.87L618.92,787.99L620.87,790.97L622.81,793.76L624.76,796.35L626.70,798.70L628.65,800.77L630.59,802.55L632.54,803.99L634.48,805.06L636.43,805.75L638.37,806.00L640.32,805.86L642.26,805.39L644.21,804.61L646.16,803.52L648.10,802.12L650.05,800.42L651.99,798.42L653.94,796.13L655.88,793.56L657.83,790.71L659.77,787.58L661.72,784.18L663.66,780.52L665.61,776.60L667.55,772.42L669.50,768.00" fill="none" stroke="#424086" stroke-width="1.25" stroke-linejoin="round"/>
<path d="M438.00,835.50L439.95,835.70L441.89,835.91L443.84,836.11L445.78,836.31L447.73,836.51L449.67,836.72L451.62,836.92L453.56,837.12L455.51,837.32L457.45,837.52L459.40,837.59L461.34,837.49L463.29,837.11L465.24,836.52L467.18,835.80L469.13,834.97L471.07,834.04L473.02,833.03L474.96,831.95L476.91,830.82L478.85,829.65L480.80,828.45L482.74,827.11L484.69,825.42L486.63,823.44L488.58,821.18L490.53,818.68L492.47,815.97L494.42,813.08L496.36,810.06L498.31,806.92L500.25,803.71L502.20,800.45L504.14,797.17L506.09,793.92L508.03,790.67L509.98,787.22L511.92,783.57L513.87,779.76L515.82,775.81L517.76,771.77L519.71,767.66L521.65,763.54L523.60,759.42L525.54,755.35L527.49,751.35L529.43,747.23L531.38,742.98L533.32,738.71L535.27,734.49L537.21,730.44L539.16,726.63L541.11,723.16L543.05,719.83L545.00,716.54L546.94,713.40L548.89,710.55L550.83,708.12L552.78,706.24L554.72,704.76L556.67,703.33L558.61,702.05L560.56,700.99L562.50,700.23L564.45,699.87L566.39,700.00L568.34,700.69L570.29,701.81L572.23,703.28L574.18,704.97L576.12,706.80L578.07,708.65L580.01,710.78L581.96,713.43L583.90,716.53L585.85,720.00L587.79,723.76L589.74,727.73L591.68,731.84L593.63,736.00L595.58,740.15L597.52,744.20L599.47,748.08L601.41,751.70L603.36,755.01L605.30,758.33L607.25,761.83L609.19,765.46L611.14,769.18L613.08,772.96L615.03,776.74L616.97,780.51L618.92,784.20L620.87,787.79L622.81,791.23L624.76,794.49L626.70,797.52L628.65,800.28L630.59,802.73L632.54,804.84L634.48,806.56L636.43,807.85L638.37,808.68L640.32,809.00L642.26,808.86L644.21,808.38L646.16,807.56L648.10,806.41L650.05,804.93L651.99,803.13L653.94,801.00L655.88,798.55L657.83,795.79L659.77,792.71L661.72,789.33L663.66,785.65L665.61,781.66L667.55,777.38L669.50,772.80" fill="none" stroke="#463480" stroke-width="1.25" stroke-linejoin="round"/>
<path d="M438.00,837.50L439.95,837.70L441.89,837.91L443.84,838.11L445.78,838.31L447.73,838.51L449.67,838.72L451.62,838.92L453.56,839.12L455.51,839.32L457.45,839.53L459.40,839.73L461.34,839.93L463.29,839.87L465.24,839.56L467.18,839.09L469.13,838.47L471.07,837.72L473.02,836.85L474.96,835.87L476.91,834.81L478.85,833.68L480.80,832.49L482.74,831.25L484.69,829.99L486.63,828.58L488.58,826.83L490.53,824.74L492.47,822.37L494.42,819.75L496.36,816.90L498.31,813.86L500.25,810.67L502.20,807.37L504.14,803.98L506.09,800.54L508.03,797.08L509.98,793.64L511.92,790.21L513.87,786.58L515.82,782.74L517.76,778.72L519.71,774.56L521.65,770.29L523.60,765.96L525.54,761.60L527.49,757.25L529.43,752.95L531.38,748.72L533.32,744.38L535.27,739.91L537.21,735.39L539.16,730.93L541.11,726.64L543.05,722.60L545.00,718.91L546.94,715.40L548.89,711.92L550.83,708.59L552.78,705.56L554.72,702.96L556.67,700.94L558.61,699.37L560.56,697.86L562.50,696.49L564.45,695.35L566.39,694.54L568.34,694.13L570.29,694.24L572.23,694.95L574.18,696.14L576.12,697.70L578.07,699.53L580.01,701.49L581.96,703.49L583.90,705.75L585.85,708.57L587.79,711.87L589.74,715.56L591.68,719.58L593.63,723.83L595.58,728.23L597.52,732.72L599.47,737.20L601.41,741.60L603.36,745.83L605.30,749.83L607.25,753.50L609.19,757.20L611.14,761.13L613.08,765.24L615.03,769.46L616.97,773.76L618.92,778.08L620.87,782.35L622.81,786.55L624.76,790.60L626.70,794.45L628.65,798.06L630.59,801.37L632.54,804.33L634.48,806.88L636.43,808.98L638.37,810.57L640.32,811.59L642.26,812.00L644.21,811.86L646.16,811.37L648.10,810.51L650.05,809.30L651.99,807.74L653.94,805.81L655.88,803.53L657.83,800.89L659.77,797.90L661.72,794.55L663.66,790.84L665.61,786.78L667.55,782.37L669.50,777.60" fill="none" stroke="#482979" stroke-width="1.25" stroke-linejoin="round"/>
<path d="M438.00,840.00L439.95,840.20L441.89,840.41L443.84,840.61L445.78,840.81L447.73,841.01L449.67,841.22L451.62,841.42L453.56,841.62L455.51,841.77L457.45,841.74L459.40,841.56L461.34,841.23L463.29,840.63L465.24,839.84L467.18,838.95L469.13,837.97L471.07,836.91L473.02,835.79L474.96,834.63L476.91,833.44L478.85,832.19L480.80,830.64L482.74,828.78L484.69,826.62L486.63,824.21L488.58,821.57L490.53,818.75L492.47,815.76L494.42,812.65L496.36,809.44L498.31,806.17L500.25,802.87L502.20,799.58L504.14,796.33L506.09,792.95L508.03,789.37L509.98,785.59L511.92,781.67L513.87,777.64L515.82,773.53L517.76,769.38L519.71,765.22L521.65,761.09L523.60,757.03L525.54,752.96L527.49,748.73L529.43,744.42L531.38,740.14L533.32,735.97L535.27,732.00L537.21,728.34L539.16,724.97L541.11,721.62L543.05,718.37L545.00,715.35L546.94,712.69L548.89,710.53L550.83,708.92L552.78,707.45L554.72,706.08L556.67,704.90L558.61,703.99L560.56,703.43L562.50,703.32L564.45,703.77L566.39,704.73L568.34,706.08L570.29,707.73L572.23,709.55L574.18,711.44L576.12,713.41L578.07,715.90L580.01,718.89L581.96,722.30L583.90,726.04L585.85,730.04L587.79,734.20L589.74,738.46L591.68,742.73L593.63,746.92L595.58,750.96L597.52,754.77L599.47,758.26L601.41,761.52L603.36,764.92L605.30,768.46L607.25,772.10L609.19,775.81L611.14,779.54L613.08,783.27L615.03,786.95L616.97,790.56L618.92,794.06L620.87,797.40L622.81,800.57L624.76,803.51L626.70,806.20L628.65,808.59L630.59,810.66L632.54,812.37L634.48,813.68L636.43,814.56L638.37,814.97L640.32,814.94L642.26,814.64L644.21,814.07L646.16,813.24L648.10,812.15L650.05,810.80L651.99,809.18L653.94,807.29L655.88,805.13L657.83,802.70L659.77,800.01L661.72,797.04L663.66,793.79L665.61,790.27L667.55,786.47L669.50,782.40" fill="none" stroke="#481c6e" stroke-width="1.25" stroke-linejoin="round"/>
<path d="M438.00,842.50L439.95,842.70L441.89,842.91L443.84,843.11L445.78,843.31L447.73,843.51L449.67,843.72L451.62,843.92L453.56,844.12L455.51,844.32L457.45,844.53L459.40,844.72L461.34,844.78L463.29,844.49L465.24,843.96L467.18,843.25L469.13,842.40L471.07,841.41L473.02,840.31L474.96,839.11L476.91,837.83L478.85,836.48L480.80,835.09L482.74,833.66L484.69,832.06L486.63,830.07L488.58,827.71L490.53,825.02L492.47,822.05L494.42,818.83L496.36,815.40L498.31,811.79L500.25,808.06L502.20,804.23L504.14,800.34L506.09,796.44L508.03,792.56L509.98,788.69L511.92,784.58L513.87,780.24L515.82,775.69L517.76,770.99L519.71,766.17L521.65,761.28L523.60,756.36L525.54,751.45L527.49,746.60L529.43,741.83L531.38,736.92L533.32,731.87L535.27,726.77L537.21,721.74L539.16,716.90L541.11,712.34L543.05,708.20L545.00,704.24L546.94,700.30L548.89,696.55L550.83,693.15L552.78,690.23L554.72,687.97L556.67,686.20L558.61,684.50L560.56,682.96L562.50,681.68L564.45,680.77L566.39,680.33L568.34,680.48L570.29,681.32L572.23,682.73L574.18,684.57L576.12,686.70L578.07,689.00L580.01,691.33L581.96,694.00L583.90,697.32L585.85,701.20L587.79,705.54L589.74,710.26L591.68,715.25L593.63,720.41L595.58,725.66L597.52,730.89L599.47,736.02L601.41,740.93L603.36,745.55L605.30,749.79L607.25,754.04L609.19,758.54L611.14,763.22L613.08,768.03L615.03,772.92L616.97,777.83L618.92,782.70L620.87,787.47L622.81,792.10L624.76,796.52L626.70,800.69L628.65,804.53L630.59,808.01L632.54,811.06L634.48,813.62L636.43,815.65L638.37,817.08L640.32,817.87L642.26,817.98L644.21,817.76L646.16,817.28L648.10,816.52L650.05,815.49L651.99,814.16L653.94,812.53L655.88,810.58L657.83,808.31L659.77,805.70L661.72,802.74L663.66,799.42L665.61,795.73L667.55,791.66L669.50,787.20" fill="none" stroke="#470e61" stroke-width="1.25" stroke-linejoin="round"/>
<path d="M438.00,844.50L439.95,844.70L441.89,844.91L443.84,845.11L445.78,845.31L447.73,845.51L449.67,845.72L451.62,845.92L453.56,846.12L455.51,846.32L457.45,846.46L459.40,846.38L461.34,846.09L463.29,845.48L465.24,844.63L467.18,843.62L469.13,842.49L471.07,841.23L473.02,839.88L474.96,838.46L476.91,836.97L478.85,835.44L480.80,833.85L482.74,831.88L484.69,829.51L486.63,826.76L488.58,823.68L490.53,820.31L492.47,816.69L494.42,812.88L496.36,808.89L498.31,804.79L500.25,800.61L502.20,796.39L504.14,792.18L506.09,788.01L508.03,783.70L509.98,779.11L511.92,774.29L513.87,769.27L515.82,764.11L517.76,758.85L519.71,753.54L521.65,748.21L523.60,742.93L525.54,737.72L527.49,732.52L529.43,727.11L531.38,721.60L533.32,716.11L535.27,710.76L537.21,705.68L539.16,700.98L541.11,696.67L543.05,692.38L545.00,688.21L546.94,684.33L548.89,680.91L550.83,678.12L552.78,676.05L554.72,674.17L556.67,672.41L558.61,670.89L560.56,669.71L562.50,668.98L564.45,668.82L566.39,669.42L568.34,670.70L570.29,672.54L572.23,674.76L574.18,677.24L576.12,679.82L578.07,682.50L580.01,685.86L581.96,689.90L583.90,694.51L585.85,699.58L587.79,704.99L589.74,710.65L591.68,716.44L593.63,722.25L595.58,727.98L597.52,733.51L599.47,738.73L601.41,743.54L603.36,748.04L605.30,752.76L607.25,757.68L609.19,762.76L611.14,767.93L613.08,773.14L615.03,778.35L616.97,783.49L618.92,788.52L620.87,793.38L622.81,798.02L624.76,802.38L626.70,806.42L628.65,810.07L630.59,813.29L632.54,816.02L634.48,818.20L636.43,819.80L638.37,820.74L640.32,821.00L642.26,820.88L644.21,820.58L646.16,820.06L648.10,819.33L650.05,818.36L651.99,817.14L653.94,815.65L655.88,813.86L657.83,811.78L659.77,809.38L661.72,806.64L663.66,803.55L665.61,800.09L667.55,796.24L669.50,792.00" fill="none" stroke="#440154" stroke-width="1.25" stroke-linejoin="round"/>
</g>
<line x1="563.10" y1="726.60" x2="563.10" y2="662.00" stroke="#000" stroke-width="1.50"/>
<path d="M558.1,663 L568.1,663 L563.1,649.5 Z" fill="#000"/>
<rect x="438.00" y="621.70" width="231.50" height="231.00" fill="none" stroke="#000" stroke-width="1.50"/>
<line x1="459.00" y1="852.70" x2="459.00" y2="858.20" stroke="#000" stroke-width="1.20"/>
<line x1="459.00" y1="621.70" x2="459.00" y2="627.20" stroke="#000" stroke-width="1.20"/>
<text transform="translate(459.00,881.00) scale(1.170,1)" font-size="17.50" text-anchor="middle">1.36</text>
<line x1="542.80" y1="852.70" x2="542.80" y2="858.20" stroke="#000" stroke-width="1.20"/>
<line x1="542.80" y1="621.70" x2="542.80" y2="627.20" stroke="#000" stroke-width="1.20"/>
<text transform="translate(542.80,881.00) scale(1.170,1)" font-size="17.50" text-anchor="middle">1.38</text>
<line x1="627.30" y1="852.70" x2="627.30" y2="858.20" stroke="#000" stroke-width="1.20"/>
<line x1="627.30" y1="621.70" x2="627.30" y2="627.20" stroke="#000" stroke-width="1.20"/>
<text transform="translate(627.30,881.00) scale(1.170,1)" font-size="17.50" text-anchor="middle">1.4</text>
<line x1="432.50" y1="691.80" x2="438.00" y2="691.80" stroke="#000" stroke-width="1.20"/>
<line x1="664.00" y1="691.80" x2="669.50" y2="691.80" stroke="#000" stroke-width="1.20"/>
<text transform="translate(425.50,698.00) scale(1.170,1)" font-size="17.50" text-anchor="end">1.0</text>
<line x1="432.50" y1="806.80" x2="438.00" y2="806.80" stroke="#000" stroke-width="1.20"/>
<line x1="664.00" y1="806.80" x2="669.50" y2="806.80" stroke="#000" stroke-width="1.20"/>
<text transform="translate(425.50,813.00) scale(1.170,1)" font-size="17.50" text-anchor="end">0.5</text>
<text transform="translate(383.6,737) scale(0.980,1) rotate(-90)" font-size="20.5" text-anchor="middle"><tspan font-style="italic">G</tspan> (<tspan font-style="italic">e</tspan><tspan font-size="12" dy="-7">2</tspan><tspan dy="7">/</tspan><tspan font-style="italic">h</tspan>)</text>
<text transform="translate(592.0,650.5) scale(1.000,1)" font-size="19.00"><tspan font-style="italic">B</tspan><tspan font-style="italic" font-size="14" dy="6">z</tspan><tspan dy="-6"> = 0 T</tspan></text>
<text transform="translate(555.30,910.70) scale(0.980,1)" font-size="19.50" text-anchor="middle"><tspan font-style="italic">V</tspan><tspan font-size="14.0" dy="4">g</tspan><tspan dy="-4"> (V)</tspan></text>
<rect x="441" y="626" width="62" height="150" fill="#fff" opacity="0.0"/>
<text transform="translate(447.5,643.5) scale(1.0,1)" font-size="17"><tspan font-style="italic">T</tspan> (mK)</text>
<line x1="445.40" y1="648.90" x2="492.80" y2="648.90" stroke="#444" stroke-width="1.20"/>
<line x1="445.40" y1="658.50" x2="458.30" y2="658.50" stroke="#a8db34" stroke-width="2.90"/>
<text transform="translate(463.60,664.40) scale(1.020,1)" font-size="16.50" text-anchor="start">1,000</text>
<line x1="445.40" y1="674.40" x2="458.30" y2="674.40" stroke="#52c569" stroke-width="2.90"/>
<text transform="translate(463.60,680.30) scale(1.020,1)" font-size="16.50" text-anchor="start">600</text>
<line x1="445.40" y1="690.30" x2="458.30" y2="690.30" stroke="#3fbc73" stroke-width="2.90"/>
<text transform="translate(463.60,696.20) scale(1.020,1)" font-size="16.50" text-anchor="start">500</text>
<line x1="445.40" y1="706.20" x2="458.30" y2="706.20" stroke="#31b57b" stroke-width="2.90"/>
<text transform="translate(463.60,712.10) scale(1.020,1)" font-size="16.50" text-anchor="start">400</text>
<line x1="445.40" y1="722.10" x2="458.30" y2="722.10" stroke="#20928c" stroke-width="2.90"/>
<text transform="translate(463.60,728.00) scale(1.020,1)" font-size="16.50" text-anchor="start">300</text>
<line x1="445.40" y1="738.00" x2="458.30" y2="738.00" stroke="#32648e" stroke-width="2.90"/>
<text transform="translate(463.60,743.90) scale(1.020,1)" font-size="16.50" text-anchor="start">200</text>
<line x1="445.40" y1="753.90" x2="458.30" y2="753.90" stroke="#472e7c" stroke-width="2.90"/>
<text transform="translate(463.60,759.80) scale(1.020,1)" font-size="16.50" text-anchor="start">100</text>
<line x1="445.40" y1="769.80" x2="458.30" y2="769.80" stroke="#440154" stroke-width="2.90"/>
<text transform="translate(463.60,775.70) scale(1.020,1)" font-size="16.50" text-anchor="start">30</text>
<clipPath id="clipg"><rect x="91.50" y="949.00" width="231.30" height="231.00"/></clipPath>
<line x1="103.20" y1="971.30" x2="215.30" y2="1166.40" stroke="#000" stroke-width="1.40"/>
<g clip-path="url(#clipg)">
<circle cx="100.80" cy="966.00" r="5.7" fill="#440154" stroke="#000" stroke-width="1.3"/>
<circle cx="110.20" cy="973.70" r="5.7" fill="#471164" stroke="#000" stroke-width="1.3"/>
<circle cx="136.90" cy="1009.80" r="5.7" fill="#482173" stroke="#000" stroke-width="1.3"/>
<circle cx="155.80" cy="1089.70" r="5.7" fill="#46307e" stroke="#000" stroke-width="1.3"/>
<circle cx="170.50" cy="1143.00" r="5.7" fill="#433e85" stroke="#000" stroke-width="1.3"/>
<circle cx="183.10" cy="1097.80" r="5.7" fill="#3e4c8a" stroke="#000" stroke-width="1.3"/>
<circle cx="192.90" cy="1118.40" r="5.7" fill="#38598c" stroke="#000" stroke-width="1.3"/>
<circle cx="201.70" cy="1127.90" r="5.7" fill="#32658e" stroke="#000" stroke-width="1.3"/>
<circle cx="209.40" cy="1139.50" r="5.7" fill="#2d708e" stroke="#000" stroke-width="1.3"/>
<circle cx="217.10" cy="1155.20" r="5.7" fill="#297b8e" stroke="#000" stroke-width="1.3"/>
<circle cx="222.70" cy="1162.20" r="5.7" fill="#24868e" stroke="#000" stroke-width="1.3"/>
<circle cx="228.00" cy="1164.70" r="5.7" fill="#21918c" stroke="#000" stroke-width="1.3"/>
<circle cx="233.90" cy="1165.70" r="5.7" fill="#1e9c89" stroke="#000" stroke-width="1.3"/>
<circle cx="254.90" cy="1154.20" r="5.7" fill="#22a785" stroke="#000" stroke-width="1.3"/>
<circle cx="271.80" cy="1121.90" r="5.7" fill="#2db27d" stroke="#000" stroke-width="1.3"/>
<circle cx="284.00" cy="1085.50" r="5.7" fill="#3dbc74" stroke="#000" stroke-width="1.3"/>
<circle cx="295.20" cy="1069.40" r="5.7" fill="#54c568" stroke="#000" stroke-width="1.3"/>
<circle cx="305.00" cy="1048.40" r="5.7" fill="#6ece58" stroke="#000" stroke-width="1.3"/>
<circle cx="313.10" cy="1027.00" r="5.7" fill="#89d548" stroke="#000" stroke-width="1.3"/>
<circle cx="319.00" cy="1010.20" r="5.7" fill="#a8db34" stroke="#000" stroke-width="1.3"/>
</g>
<rect x="91.50" y="949.00" width="231.30" height="231.00" fill="none" stroke="#000" stroke-width="1.50"/>
<line x1="91.80" y1="1180.00" x2="91.80" y2="1183.00" stroke="#000" stroke-width="1.20"/>
<line x1="91.80" y1="949.00" x2="91.80" y2="952.00" stroke="#000" stroke-width="1.20"/>
<line x1="110.65" y1="1180.00" x2="110.65" y2="1183.00" stroke="#000" stroke-width="1.20"/>
<line x1="110.65" y1="949.00" x2="110.65" y2="952.00" stroke="#000" stroke-width="1.20"/>
<line x1="125.27" y1="1180.00" x2="125.27" y2="1183.00" stroke="#000" stroke-width="1.20"/>
<line x1="125.27" y1="949.00" x2="125.27" y2="952.00" stroke="#000" stroke-width="1.20"/>
<line x1="137.22" y1="1180.00" x2="137.22" y2="1183.00" stroke="#000" stroke-width="1.20"/>
<line x1="137.22" y1="949.00" x2="137.22" y2="952.00" stroke="#000" stroke-width="1.20"/>
<line x1="147.33" y1="1180.00" x2="147.33" y2="1183.00" stroke="#000" stroke-width="1.20"/>
<line x1="147.33" y1="949.00" x2="147.33" y2="952.00" stroke="#000" stroke-width="1.20"/>
<line x1="156.08" y1="1180.00" x2="156.08" y2="1183.00" stroke="#000" stroke-width="1.20"/>
<line x1="156.08" y1="949.00" x2="156.08" y2="952.00" stroke="#000" stroke-width="1.20"/>
<line x1="163.80" y1="1180.00" x2="163.80" y2="1183.00" stroke="#000" stroke-width="1.20"/>
<line x1="163.80" y1="949.00" x2="163.80" y2="952.00" stroke="#000" stroke-width="1.20"/>
<line x1="170.70" y1="1180.00" x2="170.70" y2="1185.50" stroke="#000" stroke-width="1.20"/>
<line x1="170.70" y1="949.00" x2="170.70" y2="954.50" stroke="#000" stroke-width="1.20"/>
<line x1="216.13" y1="1180.00" x2="216.13" y2="1183.00" stroke="#000" stroke-width="1.20"/>
<line x1="216.13" y1="949.00" x2="216.13" y2="952.00" stroke="#000" stroke-width="1.20"/>
<line x1="242.70" y1="1180.00" x2="242.70" y2="1183.00" stroke="#000" stroke-width="1.20"/>
<line x1="242.70" y1="949.00" x2="242.70" y2="952.00" stroke="#000" stroke-width="1.20"/>
<line x1="261.55" y1="1180.00" x2="261.55" y2="1183.00" stroke="#000" stroke-width="1.20"/>
<line x1="261.55" y1="949.00" x2="261.55" y2="952.00" stroke="#000" stroke-width="1.20"/>
<line x1="276.17" y1="1180.00" x2="276.17" y2="1183.00" stroke="#000" stroke-width="1.20"/>
<line x1="276.17" y1="949.00" x2="276.17" y2="952.00" stroke="#000" stroke-width="1.20"/>
<line x1="288.12" y1="1180.00" x2="288.12" y2="1183.00" stroke="#000" stroke-width="1.20"/>
<line x1="288.12" y1="949.00" x2="288.12" y2="952.00" stroke="#000" stroke-width="1.20"/>
<line x1="298.23" y1="1180.00" x2="298.23" y2="1183.00" stroke="#000" stroke-width="1.20"/>
<line x1="298.23" y1="949.00" x2="298.23" y2="952.00" stroke="#000" stroke-width="1.20"/>
<line x1="306.98" y1="1180.00" x2="306.98" y2="1183.00" stroke="#000" stroke-width="1.20"/>
<line x1="306.98" y1="949.00" x2="306.98" y2="952.00" stroke="#000" stroke-width="1.20"/>
<line x1="314.70" y1="1180.00" x2="314.70" y2="1183.00" stroke="#000" stroke-width="1.20"/>
<line x1="314.70" y1="949.00" x2="314.70" y2="952.00" stroke="#000" stroke-width="1.20"/>
<line x1="321.60" y1="1180.00" x2="321.60" y2="1185.50" stroke="#000" stroke-width="1.20"/>
<line x1="321.60" y1="949.00" x2="321.60" y2="954.50" stroke="#000" stroke-width="1.20"/>
<text transform="translate(170.70,1208.00)" font-size="19.5" text-anchor="middle">10<tspan font-size="13.5" dy="-8.5">2</tspan></text>
<text transform="translate(321.60,1208.00)" font-size="19.5" text-anchor="middle">10<tspan font-size="13.5" dy="-8.5">3</tspan></text>
<line x1="86.00" y1="973.60" x2="91.50" y2="973.60" stroke="#000" stroke-width="1.20"/>
<line x1="317.30" y1="973.60" x2="322.80" y2="973.60" stroke="#000" stroke-width="1.20"/>
<text transform="translate(79.00,979.80) scale(1.170,1)" font-size="17.50" text-anchor="end">0.45</text>
<line x1="86.00" y1="1102.70" x2="91.50" y2="1102.70" stroke="#000" stroke-width="1.20"/>
<line x1="317.30" y1="1102.70" x2="322.80" y2="1102.70" stroke="#000" stroke-width="1.20"/>
<text transform="translate(79.00,1108.90) scale(1.170,1)" font-size="17.50" text-anchor="end">0.40</text>
<text transform="translate(26.2,1063) scale(0.980,1) rotate(-90)" font-size="21" text-anchor="middle"><tspan font-style="italic">G</tspan><tspan font-size="13" dy="5">peak</tspan><tspan dy="-5"> (</tspan><tspan font-style="italic">e</tspan><tspan font-size="12" dy="-7">2</tspan><tspan dy="7">/</tspan><tspan font-style="italic">h</tspan>)</text>
<text transform="translate(208.5,1236) scale(0.980,1)" font-size="19.50" text-anchor="middle"><tspan font-style="italic">T</tspan> (mK)</text>
<clipPath id="cliph"><rect x="437.50" y="949.00" width="232.00" height="231.00"/></clipPath>
<line x1="579.10" y1="949.00" x2="579.10" y2="1180.00" stroke="#3f1063" stroke-width="1.60" stroke-dasharray="7.5,4.5"/>
<g clip-path="url(#cliph)">
<circle cx="447.90" cy="994.40" r="5.7" fill="#440154" stroke="#000" stroke-width="1.3"/>
<circle cx="471.80" cy="1005.10" r="5.7" fill="#470e61" stroke="#000" stroke-width="1.3"/>
<circle cx="493.70" cy="1029.40" r="5.7" fill="#481c6e" stroke="#000" stroke-width="1.3"/>
<circle cx="510.50" cy="1018.70" r="5.7" fill="#482979" stroke="#000" stroke-width="1.3"/>
<circle cx="523.00" cy="1025.50" r="5.7" fill="#463480" stroke="#000" stroke-width="1.3"/>
<circle cx="534.40" cy="1029.40" r="5.7" fill="#424086" stroke="#000" stroke-width="1.3"/>
<circle cx="543.40" cy="1006.50" r="5.7" fill="#3e4c8a" stroke="#000" stroke-width="1.3"/>
<circle cx="552.00" cy="1026.90" r="5.7" fill="#39558c" stroke="#000" stroke-width="1.3"/>
<circle cx="559.50" cy="1020.50" r="5.7" fill="#34608d" stroke="#000" stroke-width="1.3"/>
<circle cx="565.60" cy="1034.80" r="5.7" fill="#306a8e" stroke="#000" stroke-width="1.3"/>
<circle cx="573.40" cy="1039.80" r="5.7" fill="#2c728e" stroke="#000" stroke-width="1.3"/>
<circle cx="575.60" cy="1051.60" r="5.7" fill="#287c8e" stroke="#000" stroke-width="1.3"/>
<circle cx="582.40" cy="1054.80" r="5.7" fill="#25858e" stroke="#000" stroke-width="1.3"/>
<circle cx="586.60" cy="1065.50" r="5.7" fill="#218e8d" stroke="#000" stroke-width="1.3"/>
<circle cx="591.70" cy="1078.40" r="5.7" fill="#1f978b" stroke="#000" stroke-width="1.3"/>
<circle cx="596.00" cy="1099.10" r="5.7" fill="#1fa188" stroke="#000" stroke-width="1.3"/>
<circle cx="599.50" cy="1132.00" r="5.7" fill="#23a983" stroke="#000" stroke-width="1.3"/>
<circle cx="602.40" cy="1142.10" r="5.7" fill="#2db27d" stroke="#000" stroke-width="1.3"/>
<circle cx="620.30" cy="1151.00" r="5.7" fill="#3bbb75" stroke="#000" stroke-width="1.3"/>
<circle cx="632.40" cy="1151.40" r="5.7" fill="#4cc26c" stroke="#000" stroke-width="1.3"/>
<circle cx="642.80" cy="1150.30" r="5.7" fill="#60ca60" stroke="#000" stroke-width="1.3"/>
<circle cx="648.90" cy="1148.90" r="5.7" fill="#77d153" stroke="#000" stroke-width="1.3"/>
<circle cx="658.90" cy="1147.10" r="5.7" fill="#90d743" stroke="#000" stroke-width="1.3"/>
<circle cx="664.60" cy="1146.40" r="5.7" fill="#a8db34" stroke="#000" stroke-width="1.3"/>
</g>
<rect x="437.50" y="949.00" width="232.00" height="231.00" fill="none" stroke="#000" stroke-width="1.50"/>
<line x1="455.81" y1="1180.00" x2="455.81" y2="1183.00" stroke="#000" stroke-width="1.20"/>
<line x1="455.81" y1="949.00" x2="455.81" y2="952.00" stroke="#000" stroke-width="1.20"/>
<line x1="470.54" y1="1180.00" x2="470.54" y2="1183.00" stroke="#000" stroke-width="1.20"/>
<line x1="470.54" y1="949.00" x2="470.54" y2="952.00" stroke="#000" stroke-width="1.20"/>
<line x1="482.58" y1="1180.00" x2="482.58" y2="1183.00" stroke="#000" stroke-width="1.20"/>
<line x1="482.58" y1="949.00" x2="482.58" y2="952.00" stroke="#000" stroke-width="1.20"/>
<line x1="492.75" y1="1180.00" x2="492.75" y2="1183.00" stroke="#000" stroke-width="1.20"/>
<line x1="492.75" y1="949.00" x2="492.75" y2="952.00" stroke="#000" stroke-width="1.20"/>
<line x1="501.57" y1="1180.00" x2="501.57" y2="1183.00" stroke="#000" stroke-width="1.20"/>
<line x1="501.57" y1="949.00" x2="501.57" y2="952.00" stroke="#000" stroke-width="1.20"/>
<line x1="509.34" y1="1180.00" x2="509.34" y2="1183.00" stroke="#000" stroke-width="1.20"/>
<line x1="509.34" y1="949.00" x2="509.34" y2="952.00" stroke="#000" stroke-width="1.20"/>
<line x1="516.30" y1="1180.00" x2="516.30" y2="1185.50" stroke="#000" stroke-width="1.20"/>
<line x1="516.30" y1="949.00" x2="516.30" y2="954.50" stroke="#000" stroke-width="1.20"/>
<line x1="562.06" y1="1180.00" x2="562.06" y2="1183.00" stroke="#000" stroke-width="1.20"/>
<line x1="562.06" y1="949.00" x2="562.06" y2="952.00" stroke="#000" stroke-width="1.20"/>
<line x1="588.82" y1="1180.00" x2="588.82" y2="1183.00" stroke="#000" stroke-width="1.20"/>
<line x1="588.82" y1="949.00" x2="588.82" y2="952.00" stroke="#000" stroke-width="1.20"/>
<line x1="607.81" y1="1180.00" x2="607.81" y2="1183.00" stroke="#000" stroke-width="1.20"/>
<line x1="607.81" y1="949.00" x2="607.81" y2="952.00" stroke="#000" stroke-width="1.20"/>
<line x1="622.54" y1="1180.00" x2="622.54" y2="1183.00" stroke="#000" stroke-width="1.20"/>
<line x1="622.54" y1="949.00" x2="622.54" y2="952.00" stroke="#000" stroke-width="1.20"/>
<line x1="634.58" y1="1180.00" x2="634.58" y2="1183.00" stroke="#000" stroke-width="1.20"/>
<line x1="634.58" y1="949.00" x2="634.58" y2="952.00" stroke="#000" stroke-width="1.20"/>
<line x1="644.75" y1="1180.00" x2="644.75" y2="1183.00" stroke="#000" stroke-width="1.20"/>
<line x1="644.75" y1="949.00" x2="644.75" y2="952.00" stroke="#000" stroke-width="1.20"/>
<line x1="653.57" y1="1180.00" x2="653.57" y2="1183.00" stroke="#000" stroke-width="1.20"/>
<line x1="653.57" y1="949.00" x2="653.57" y2="952.00" stroke="#000" stroke-width="1.20"/>
<line x1="661.34" y1="1180.00" x2="661.34" y2="1183.00" stroke="#000" stroke-width="1.20"/>
<line x1="661.34" y1="949.00" x2="661.34" y2="952.00" stroke="#000" stroke-width="1.20"/>
<line x1="668.30" y1="1180.00" x2="668.30" y2="1185.50" stroke="#000" stroke-width="1.20"/>
<line x1="668.30" y1="949.00" x2="668.30" y2="954.50" stroke="#000" stroke-width="1.20"/>
<text transform="translate(516.30,1208.00)" font-size="19.5" text-anchor="middle">10<tspan font-size="13.5" dy="-8.5">2</tspan></text>
<text transform="translate(668.30,1208.00)" font-size="19.5" text-anchor="middle">10<tspan font-size="13.5" dy="-8.5">3</tspan></text>
<line x1="432.00" y1="1017.70" x2="437.50" y2="1017.70" stroke="#000" stroke-width="1.20"/>
<line x1="664.00" y1="1017.70" x2="669.50" y2="1017.70" stroke="#000" stroke-width="1.20"/>
<text transform="translate(425.00,1023.90) scale(1.170,1)" font-size="17.50" text-anchor="end">1.0</text>
<line x1="432.00" y1="1133.00" x2="437.50" y2="1133.00" stroke="#000" stroke-width="1.20"/>
<line x1="664.00" y1="1133.00" x2="669.50" y2="1133.00" stroke="#000" stroke-width="1.20"/>
<text transform="translate(425.00,1139.20) scale(1.170,1)" font-size="17.50" text-anchor="end">0.5</text>
<text transform="translate(384.6,1063.5) scale(0.980,1) rotate(-90)" font-size="21" text-anchor="middle"><tspan font-style="italic">G</tspan><tspan font-size="13" dy="5">peak</tspan><tspan dy="-5"> (</tspan><tspan font-style="italic">e</tspan><tspan font-size="12" dy="-7">2</tspan><tspan dy="7">/</tspan><tspan font-style="italic">h</tspan>)</text>
<text transform="translate(555,1236) scale(0.980,1)" font-size="19.50" text-anchor="middle"><tspan font-style="italic">T</tspan> (mK)</text>
<text transform="translate(590,1018) scale(0.980,1)" font-size="19.50"><tspan font-style="italic">T</tspan><tspan font-size="12.5" dy="4">C</tspan></text>
</svg></body></html>
